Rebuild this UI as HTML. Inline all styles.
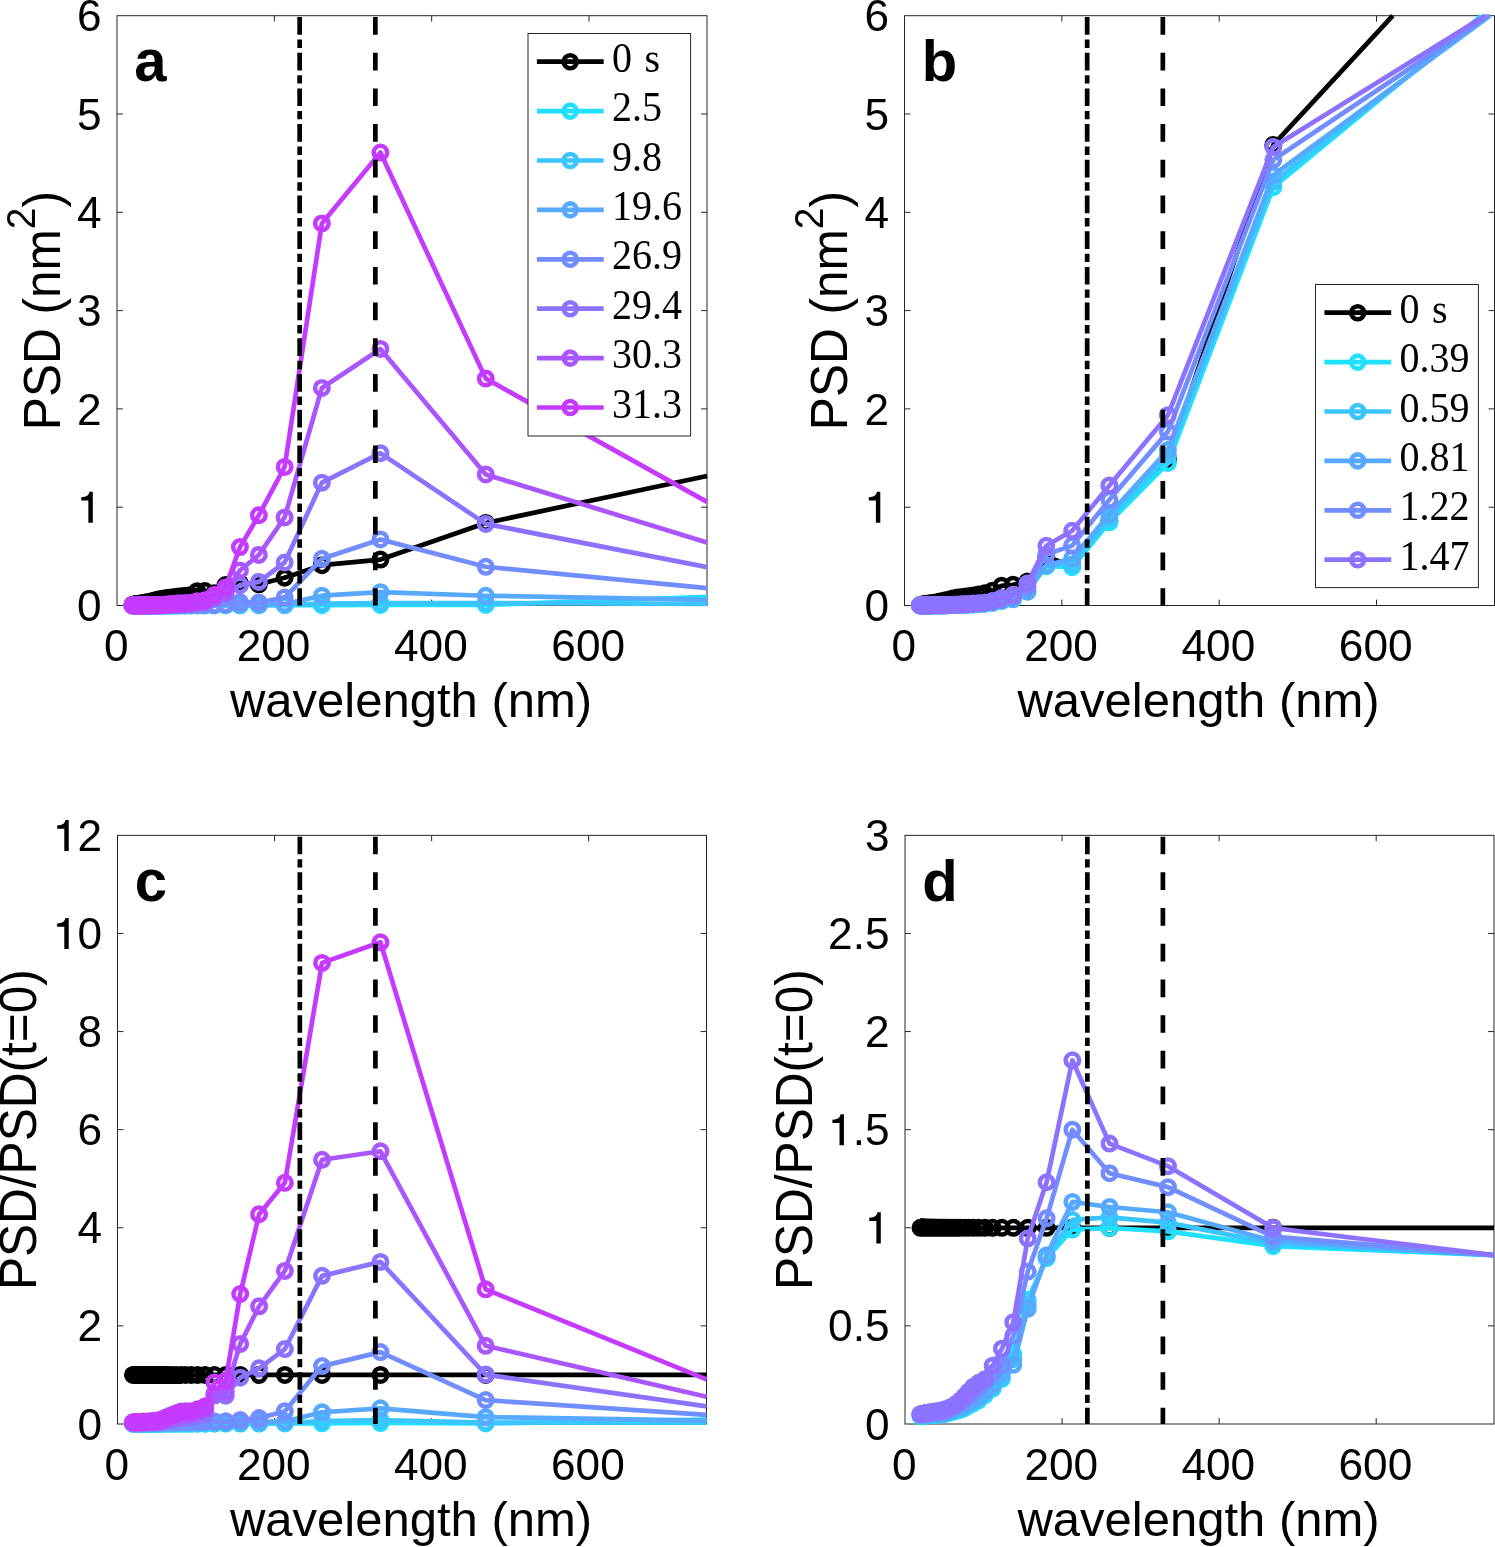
<!DOCTYPE html>
<html><head><meta charset="utf-8"><title>PSD figure</title>
<style>
html,body{margin:0;padding:0;background:#fff;}
svg{display:block;will-change:transform;}
.tk{font-family:"Liberation Sans",sans-serif;font-size:44.2px;fill:#000;}
.lb{font-family:"Liberation Sans",sans-serif;font-size:49px;fill:#000;}
.lt{font-family:"Liberation Sans",sans-serif;font-size:58px;font-weight:bold;fill:#000;}
.lg{font-family:"Liberation Serif",serif;font-size:40px;fill:#000;}
</style></head><body>
<svg width="1495" height="1547" viewBox="0 0 1495 1547">
<rect width="1495" height="1547" fill="#fff"/>
<rect x="117" y="15.7" width="590" height="589.8" fill="none" stroke="#262626" stroke-width="1"/>
<path d="M274.33 605.5v-5.9 M274.33 15.7v5.9 M431.67 605.5v-5.9 M431.67 15.7v5.9 M589 605.5v-5.9 M589 15.7v5.9 M117 507.2h5.9 M707 507.2h-5.9 M117 408.9h5.9 M707 408.9h-5.9 M117 310.6h5.9 M707 310.6h-5.9 M117 212.3h5.9 M707 212.3h-5.9 M117 114h5.9 M707 114h-5.9 " stroke="#262626" stroke-width="1" fill="none"/>
<path d="M132.5 604.71 L132.76 604.68 L133.03 604.64 L133.32 604.6 L133.61 604.56 L133.92 604.51 L134.23 604.47 L134.56 604.42 L134.9 604.37 L135.26 604.32 L135.63 604.26 L136.01 604.21 L136.41 604.15 L136.83 604.09 L137.26 604.02 L137.72 603.96 L138.19 603.89 L138.69 603.82 L139.22 603.74 L139.76 603.66 L140.34 603.58 L140.95 603.47 L141.59 603.34 L142.26 603.2 L142.97 603.05 L143.72 602.89 L144.52 602.73 L145.37 602.55 L146.27 602.36 L147.23 602.16 L148.25 601.95 L149.35 601.72 L150.53 601.46 L151.79 601.15 L153.16 600.8 L154.63 600.44 L156.23 600.04 L157.98 599.6 L159.88 599.13 L161.97 598.79 L164.28 598.47 L166.84 598.12 L169.68 597.73 L172.88 597.29 L176.48 596.8 L180.58 596.28 L185.29 595.68 L190.76 595 L197.17 591.13 L204.81 591.05 L214.05 593.17 L225.47 585.1 L239.93 583.41 L258.84 584.27 L284.63 577.67 L321.88 565.2 L380.42 559.59 L485.79 522.93 L707 476.05" fill="none" stroke="#000000" stroke-width="4.7" stroke-linejoin="round" stroke-linecap="butt"/><path d="M125.75 604.71a6.75 6.75 0 1 0 13.5 0a6.75 6.75 0 1 0 -13.5 0M126.01 604.68a6.75 6.75 0 1 0 13.5 0a6.75 6.75 0 1 0 -13.5 0M126.28 604.64a6.75 6.75 0 1 0 13.5 0a6.75 6.75 0 1 0 -13.5 0M126.57 604.6a6.75 6.75 0 1 0 13.5 0a6.75 6.75 0 1 0 -13.5 0M126.86 604.56a6.75 6.75 0 1 0 13.5 0a6.75 6.75 0 1 0 -13.5 0M127.17 604.51a6.75 6.75 0 1 0 13.5 0a6.75 6.75 0 1 0 -13.5 0M127.48 604.47a6.75 6.75 0 1 0 13.5 0a6.75 6.75 0 1 0 -13.5 0M127.81 604.42a6.75 6.75 0 1 0 13.5 0a6.75 6.75 0 1 0 -13.5 0M128.15 604.37a6.75 6.75 0 1 0 13.5 0a6.75 6.75 0 1 0 -13.5 0M128.51 604.32a6.75 6.75 0 1 0 13.5 0a6.75 6.75 0 1 0 -13.5 0M128.88 604.26a6.75 6.75 0 1 0 13.5 0a6.75 6.75 0 1 0 -13.5 0M129.26 604.21a6.75 6.75 0 1 0 13.5 0a6.75 6.75 0 1 0 -13.5 0M129.66 604.15a6.75 6.75 0 1 0 13.5 0a6.75 6.75 0 1 0 -13.5 0M130.08 604.09a6.75 6.75 0 1 0 13.5 0a6.75 6.75 0 1 0 -13.5 0M130.51 604.02a6.75 6.75 0 1 0 13.5 0a6.75 6.75 0 1 0 -13.5 0M130.97 603.96a6.75 6.75 0 1 0 13.5 0a6.75 6.75 0 1 0 -13.5 0M131.44 603.89a6.75 6.75 0 1 0 13.5 0a6.75 6.75 0 1 0 -13.5 0M131.94 603.82a6.75 6.75 0 1 0 13.5 0a6.75 6.75 0 1 0 -13.5 0M132.47 603.74a6.75 6.75 0 1 0 13.5 0a6.75 6.75 0 1 0 -13.5 0M133.01 603.66a6.75 6.75 0 1 0 13.5 0a6.75 6.75 0 1 0 -13.5 0M133.59 603.58a6.75 6.75 0 1 0 13.5 0a6.75 6.75 0 1 0 -13.5 0M134.2 603.47a6.75 6.75 0 1 0 13.5 0a6.75 6.75 0 1 0 -13.5 0M134.84 603.34a6.75 6.75 0 1 0 13.5 0a6.75 6.75 0 1 0 -13.5 0M135.51 603.2a6.75 6.75 0 1 0 13.5 0a6.75 6.75 0 1 0 -13.5 0M136.22 603.05a6.75 6.75 0 1 0 13.5 0a6.75 6.75 0 1 0 -13.5 0M136.97 602.89a6.75 6.75 0 1 0 13.5 0a6.75 6.75 0 1 0 -13.5 0M137.77 602.73a6.75 6.75 0 1 0 13.5 0a6.75 6.75 0 1 0 -13.5 0M138.62 602.55a6.75 6.75 0 1 0 13.5 0a6.75 6.75 0 1 0 -13.5 0M139.52 602.36a6.75 6.75 0 1 0 13.5 0a6.75 6.75 0 1 0 -13.5 0M140.48 602.16a6.75 6.75 0 1 0 13.5 0a6.75 6.75 0 1 0 -13.5 0M141.5 601.95a6.75 6.75 0 1 0 13.5 0a6.75 6.75 0 1 0 -13.5 0M142.6 601.72a6.75 6.75 0 1 0 13.5 0a6.75 6.75 0 1 0 -13.5 0M143.78 601.46a6.75 6.75 0 1 0 13.5 0a6.75 6.75 0 1 0 -13.5 0M145.04 601.15a6.75 6.75 0 1 0 13.5 0a6.75 6.75 0 1 0 -13.5 0M146.41 600.8a6.75 6.75 0 1 0 13.5 0a6.75 6.75 0 1 0 -13.5 0M147.88 600.44a6.75 6.75 0 1 0 13.5 0a6.75 6.75 0 1 0 -13.5 0M149.48 600.04a6.75 6.75 0 1 0 13.5 0a6.75 6.75 0 1 0 -13.5 0M151.23 599.6a6.75 6.75 0 1 0 13.5 0a6.75 6.75 0 1 0 -13.5 0M153.13 599.13a6.75 6.75 0 1 0 13.5 0a6.75 6.75 0 1 0 -13.5 0M155.22 598.79a6.75 6.75 0 1 0 13.5 0a6.75 6.75 0 1 0 -13.5 0M157.53 598.47a6.75 6.75 0 1 0 13.5 0a6.75 6.75 0 1 0 -13.5 0M160.09 598.12a6.75 6.75 0 1 0 13.5 0a6.75 6.75 0 1 0 -13.5 0M162.93 597.73a6.75 6.75 0 1 0 13.5 0a6.75 6.75 0 1 0 -13.5 0M166.13 597.29a6.75 6.75 0 1 0 13.5 0a6.75 6.75 0 1 0 -13.5 0M169.73 596.8a6.75 6.75 0 1 0 13.5 0a6.75 6.75 0 1 0 -13.5 0M173.83 596.28a6.75 6.75 0 1 0 13.5 0a6.75 6.75 0 1 0 -13.5 0M178.54 595.68a6.75 6.75 0 1 0 13.5 0a6.75 6.75 0 1 0 -13.5 0M184.01 595a6.75 6.75 0 1 0 13.5 0a6.75 6.75 0 1 0 -13.5 0M190.42 591.13a6.75 6.75 0 1 0 13.5 0a6.75 6.75 0 1 0 -13.5 0M198.06 591.05a6.75 6.75 0 1 0 13.5 0a6.75 6.75 0 1 0 -13.5 0M207.3 593.17a6.75 6.75 0 1 0 13.5 0a6.75 6.75 0 1 0 -13.5 0M218.72 585.1a6.75 6.75 0 1 0 13.5 0a6.75 6.75 0 1 0 -13.5 0M233.18 583.41a6.75 6.75 0 1 0 13.5 0a6.75 6.75 0 1 0 -13.5 0M252.09 584.27a6.75 6.75 0 1 0 13.5 0a6.75 6.75 0 1 0 -13.5 0M277.88 577.67a6.75 6.75 0 1 0 13.5 0a6.75 6.75 0 1 0 -13.5 0M315.13 565.2a6.75 6.75 0 1 0 13.5 0a6.75 6.75 0 1 0 -13.5 0M373.67 559.59a6.75 6.75 0 1 0 13.5 0a6.75 6.75 0 1 0 -13.5 0M479.04 522.93a6.75 6.75 0 1 0 13.5 0a6.75 6.75 0 1 0 -13.5 0" fill="none" stroke="#000000" stroke-width="4.5"/>
<path d="M132.5 605.5 L132.76 605.5 L133.03 605.5 L133.32 605.5 L133.61 605.5 L133.92 605.5 L134.23 605.49 L134.56 605.49 L134.9 605.49 L135.26 605.49 L135.63 605.49 L136.01 605.49 L136.41 605.49 L136.83 605.49 L137.26 605.49 L137.72 605.49 L138.19 605.49 L138.69 605.49 L139.22 605.49 L139.76 605.49 L140.34 605.49 L140.95 605.49 L141.59 605.49 L142.26 605.49 L142.97 605.49 L143.72 605.49 L144.52 605.49 L145.37 605.48 L146.27 605.48 L147.23 605.48 L148.25 605.48 L149.35 605.48 L150.53 605.48 L151.79 605.48 L153.16 605.47 L154.63 605.47 L156.23 605.47 L157.98 605.47 L159.88 605.46 L161.97 605.46 L164.28 605.46 L166.84 605.45 L169.68 605.45 L172.88 605.45 L176.48 605.44 L180.58 605.44 L185.29 605.43 L190.76 605.43 L197.17 605.4 L204.81 605.39 L214.05 605.41 L225.47 605.34 L239.93 605.3 L258.84 605.26 L284.63 605.21 L321.88 605.13 L380.42 605.01 L485.79 605.01 L707 596.78" fill="none" stroke="#1FE0FF" stroke-width="4.7" stroke-linejoin="round" stroke-linecap="butt"/><path d="M125.75 605.5a6.75 6.75 0 1 0 13.5 0a6.75 6.75 0 1 0 -13.5 0M126.01 605.5a6.75 6.75 0 1 0 13.5 0a6.75 6.75 0 1 0 -13.5 0M126.28 605.5a6.75 6.75 0 1 0 13.5 0a6.75 6.75 0 1 0 -13.5 0M126.57 605.5a6.75 6.75 0 1 0 13.5 0a6.75 6.75 0 1 0 -13.5 0M126.86 605.5a6.75 6.75 0 1 0 13.5 0a6.75 6.75 0 1 0 -13.5 0M127.17 605.5a6.75 6.75 0 1 0 13.5 0a6.75 6.75 0 1 0 -13.5 0M127.48 605.49a6.75 6.75 0 1 0 13.5 0a6.75 6.75 0 1 0 -13.5 0M127.81 605.49a6.75 6.75 0 1 0 13.5 0a6.75 6.75 0 1 0 -13.5 0M128.15 605.49a6.75 6.75 0 1 0 13.5 0a6.75 6.75 0 1 0 -13.5 0M128.51 605.49a6.75 6.75 0 1 0 13.5 0a6.75 6.75 0 1 0 -13.5 0M128.88 605.49a6.75 6.75 0 1 0 13.5 0a6.75 6.75 0 1 0 -13.5 0M129.26 605.49a6.75 6.75 0 1 0 13.5 0a6.75 6.75 0 1 0 -13.5 0M129.66 605.49a6.75 6.75 0 1 0 13.5 0a6.75 6.75 0 1 0 -13.5 0M130.08 605.49a6.75 6.75 0 1 0 13.5 0a6.75 6.75 0 1 0 -13.5 0M130.51 605.49a6.75 6.75 0 1 0 13.5 0a6.75 6.75 0 1 0 -13.5 0M130.97 605.49a6.75 6.75 0 1 0 13.5 0a6.75 6.75 0 1 0 -13.5 0M131.44 605.49a6.75 6.75 0 1 0 13.5 0a6.75 6.75 0 1 0 -13.5 0M131.94 605.49a6.75 6.75 0 1 0 13.5 0a6.75 6.75 0 1 0 -13.5 0M132.47 605.49a6.75 6.75 0 1 0 13.5 0a6.75 6.75 0 1 0 -13.5 0M133.01 605.49a6.75 6.75 0 1 0 13.5 0a6.75 6.75 0 1 0 -13.5 0M133.59 605.49a6.75 6.75 0 1 0 13.5 0a6.75 6.75 0 1 0 -13.5 0M134.2 605.49a6.75 6.75 0 1 0 13.5 0a6.75 6.75 0 1 0 -13.5 0M134.84 605.49a6.75 6.75 0 1 0 13.5 0a6.75 6.75 0 1 0 -13.5 0M135.51 605.49a6.75 6.75 0 1 0 13.5 0a6.75 6.75 0 1 0 -13.5 0M136.22 605.49a6.75 6.75 0 1 0 13.5 0a6.75 6.75 0 1 0 -13.5 0M136.97 605.49a6.75 6.75 0 1 0 13.5 0a6.75 6.75 0 1 0 -13.5 0M137.77 605.49a6.75 6.75 0 1 0 13.5 0a6.75 6.75 0 1 0 -13.5 0M138.62 605.48a6.75 6.75 0 1 0 13.5 0a6.75 6.75 0 1 0 -13.5 0M139.52 605.48a6.75 6.75 0 1 0 13.5 0a6.75 6.75 0 1 0 -13.5 0M140.48 605.48a6.75 6.75 0 1 0 13.5 0a6.75 6.75 0 1 0 -13.5 0M141.5 605.48a6.75 6.75 0 1 0 13.5 0a6.75 6.75 0 1 0 -13.5 0M142.6 605.48a6.75 6.75 0 1 0 13.5 0a6.75 6.75 0 1 0 -13.5 0M143.78 605.48a6.75 6.75 0 1 0 13.5 0a6.75 6.75 0 1 0 -13.5 0M145.04 605.48a6.75 6.75 0 1 0 13.5 0a6.75 6.75 0 1 0 -13.5 0M146.41 605.47a6.75 6.75 0 1 0 13.5 0a6.75 6.75 0 1 0 -13.5 0M147.88 605.47a6.75 6.75 0 1 0 13.5 0a6.75 6.75 0 1 0 -13.5 0M149.48 605.47a6.75 6.75 0 1 0 13.5 0a6.75 6.75 0 1 0 -13.5 0M151.23 605.47a6.75 6.75 0 1 0 13.5 0a6.75 6.75 0 1 0 -13.5 0M153.13 605.46a6.75 6.75 0 1 0 13.5 0a6.75 6.75 0 1 0 -13.5 0M155.22 605.46a6.75 6.75 0 1 0 13.5 0a6.75 6.75 0 1 0 -13.5 0M157.53 605.46a6.75 6.75 0 1 0 13.5 0a6.75 6.75 0 1 0 -13.5 0M160.09 605.45a6.75 6.75 0 1 0 13.5 0a6.75 6.75 0 1 0 -13.5 0M162.93 605.45a6.75 6.75 0 1 0 13.5 0a6.75 6.75 0 1 0 -13.5 0M166.13 605.45a6.75 6.75 0 1 0 13.5 0a6.75 6.75 0 1 0 -13.5 0M169.73 605.44a6.75 6.75 0 1 0 13.5 0a6.75 6.75 0 1 0 -13.5 0M173.83 605.44a6.75 6.75 0 1 0 13.5 0a6.75 6.75 0 1 0 -13.5 0M178.54 605.43a6.75 6.75 0 1 0 13.5 0a6.75 6.75 0 1 0 -13.5 0M184.01 605.43a6.75 6.75 0 1 0 13.5 0a6.75 6.75 0 1 0 -13.5 0M190.42 605.4a6.75 6.75 0 1 0 13.5 0a6.75 6.75 0 1 0 -13.5 0M198.06 605.39a6.75 6.75 0 1 0 13.5 0a6.75 6.75 0 1 0 -13.5 0M207.3 605.41a6.75 6.75 0 1 0 13.5 0a6.75 6.75 0 1 0 -13.5 0M218.72 605.34a6.75 6.75 0 1 0 13.5 0a6.75 6.75 0 1 0 -13.5 0M233.18 605.3a6.75 6.75 0 1 0 13.5 0a6.75 6.75 0 1 0 -13.5 0M252.09 605.26a6.75 6.75 0 1 0 13.5 0a6.75 6.75 0 1 0 -13.5 0M277.88 605.21a6.75 6.75 0 1 0 13.5 0a6.75 6.75 0 1 0 -13.5 0M315.13 605.13a6.75 6.75 0 1 0 13.5 0a6.75 6.75 0 1 0 -13.5 0M373.67 605.01a6.75 6.75 0 1 0 13.5 0a6.75 6.75 0 1 0 -13.5 0M479.04 605.01a6.75 6.75 0 1 0 13.5 0a6.75 6.75 0 1 0 -13.5 0" fill="none" stroke="#1FE0FF" stroke-width="4.5"/>
<path d="M132.5 605.5 L132.76 605.5 L133.03 605.5 L133.32 605.5 L133.61 605.5 L133.92 605.49 L134.23 605.49 L134.56 605.49 L134.9 605.49 L135.26 605.49 L135.63 605.49 L136.01 605.49 L136.41 605.49 L136.83 605.49 L137.26 605.49 L137.72 605.49 L138.19 605.49 L138.69 605.49 L139.22 605.49 L139.76 605.49 L140.34 605.49 L140.95 605.49 L141.59 605.49 L142.26 605.49 L142.97 605.49 L143.72 605.48 L144.52 605.48 L145.37 605.48 L146.27 605.48 L147.23 605.48 L148.25 605.48 L149.35 605.48 L150.53 605.47 L151.79 605.47 L153.16 605.47 L154.63 605.47 L156.23 605.46 L157.98 605.46 L159.88 605.45 L161.97 605.45 L164.28 605.45 L166.84 605.44 L169.68 605.44 L172.88 605.43 L176.48 605.43 L180.58 605.42 L185.29 605.41 L190.76 605.4 L197.17 605.35 L204.81 605.34 L214.05 605.35 L225.47 605.23 L239.93 605.3 L258.84 605.14 L284.63 604.91 L321.88 603.53 L380.42 603.04 L485.79 603.04 L707 604.02" fill="none" stroke="#3AC5FF" stroke-width="4.7" stroke-linejoin="round" stroke-linecap="butt"/><path d="M125.75 605.5a6.75 6.75 0 1 0 13.5 0a6.75 6.75 0 1 0 -13.5 0M126.01 605.5a6.75 6.75 0 1 0 13.5 0a6.75 6.75 0 1 0 -13.5 0M126.28 605.5a6.75 6.75 0 1 0 13.5 0a6.75 6.75 0 1 0 -13.5 0M126.57 605.5a6.75 6.75 0 1 0 13.5 0a6.75 6.75 0 1 0 -13.5 0M126.86 605.5a6.75 6.75 0 1 0 13.5 0a6.75 6.75 0 1 0 -13.5 0M127.17 605.49a6.75 6.75 0 1 0 13.5 0a6.75 6.75 0 1 0 -13.5 0M127.48 605.49a6.75 6.75 0 1 0 13.5 0a6.75 6.75 0 1 0 -13.5 0M127.81 605.49a6.75 6.75 0 1 0 13.5 0a6.75 6.75 0 1 0 -13.5 0M128.15 605.49a6.75 6.75 0 1 0 13.5 0a6.75 6.75 0 1 0 -13.5 0M128.51 605.49a6.75 6.75 0 1 0 13.5 0a6.75 6.75 0 1 0 -13.5 0M128.88 605.49a6.75 6.75 0 1 0 13.5 0a6.75 6.75 0 1 0 -13.5 0M129.26 605.49a6.75 6.75 0 1 0 13.5 0a6.75 6.75 0 1 0 -13.5 0M129.66 605.49a6.75 6.75 0 1 0 13.5 0a6.75 6.75 0 1 0 -13.5 0M130.08 605.49a6.75 6.75 0 1 0 13.5 0a6.75 6.75 0 1 0 -13.5 0M130.51 605.49a6.75 6.75 0 1 0 13.5 0a6.75 6.75 0 1 0 -13.5 0M130.97 605.49a6.75 6.75 0 1 0 13.5 0a6.75 6.75 0 1 0 -13.5 0M131.44 605.49a6.75 6.75 0 1 0 13.5 0a6.75 6.75 0 1 0 -13.5 0M131.94 605.49a6.75 6.75 0 1 0 13.5 0a6.75 6.75 0 1 0 -13.5 0M132.47 605.49a6.75 6.75 0 1 0 13.5 0a6.75 6.75 0 1 0 -13.5 0M133.01 605.49a6.75 6.75 0 1 0 13.5 0a6.75 6.75 0 1 0 -13.5 0M133.59 605.49a6.75 6.75 0 1 0 13.5 0a6.75 6.75 0 1 0 -13.5 0M134.2 605.49a6.75 6.75 0 1 0 13.5 0a6.75 6.75 0 1 0 -13.5 0M134.84 605.49a6.75 6.75 0 1 0 13.5 0a6.75 6.75 0 1 0 -13.5 0M135.51 605.49a6.75 6.75 0 1 0 13.5 0a6.75 6.75 0 1 0 -13.5 0M136.22 605.49a6.75 6.75 0 1 0 13.5 0a6.75 6.75 0 1 0 -13.5 0M136.97 605.48a6.75 6.75 0 1 0 13.5 0a6.75 6.75 0 1 0 -13.5 0M137.77 605.48a6.75 6.75 0 1 0 13.5 0a6.75 6.75 0 1 0 -13.5 0M138.62 605.48a6.75 6.75 0 1 0 13.5 0a6.75 6.75 0 1 0 -13.5 0M139.52 605.48a6.75 6.75 0 1 0 13.5 0a6.75 6.75 0 1 0 -13.5 0M140.48 605.48a6.75 6.75 0 1 0 13.5 0a6.75 6.75 0 1 0 -13.5 0M141.5 605.48a6.75 6.75 0 1 0 13.5 0a6.75 6.75 0 1 0 -13.5 0M142.6 605.48a6.75 6.75 0 1 0 13.5 0a6.75 6.75 0 1 0 -13.5 0M143.78 605.47a6.75 6.75 0 1 0 13.5 0a6.75 6.75 0 1 0 -13.5 0M145.04 605.47a6.75 6.75 0 1 0 13.5 0a6.75 6.75 0 1 0 -13.5 0M146.41 605.47a6.75 6.75 0 1 0 13.5 0a6.75 6.75 0 1 0 -13.5 0M147.88 605.47a6.75 6.75 0 1 0 13.5 0a6.75 6.75 0 1 0 -13.5 0M149.48 605.46a6.75 6.75 0 1 0 13.5 0a6.75 6.75 0 1 0 -13.5 0M151.23 605.46a6.75 6.75 0 1 0 13.5 0a6.75 6.75 0 1 0 -13.5 0M153.13 605.45a6.75 6.75 0 1 0 13.5 0a6.75 6.75 0 1 0 -13.5 0M155.22 605.45a6.75 6.75 0 1 0 13.5 0a6.75 6.75 0 1 0 -13.5 0M157.53 605.45a6.75 6.75 0 1 0 13.5 0a6.75 6.75 0 1 0 -13.5 0M160.09 605.44a6.75 6.75 0 1 0 13.5 0a6.75 6.75 0 1 0 -13.5 0M162.93 605.44a6.75 6.75 0 1 0 13.5 0a6.75 6.75 0 1 0 -13.5 0M166.13 605.43a6.75 6.75 0 1 0 13.5 0a6.75 6.75 0 1 0 -13.5 0M169.73 605.43a6.75 6.75 0 1 0 13.5 0a6.75 6.75 0 1 0 -13.5 0M173.83 605.42a6.75 6.75 0 1 0 13.5 0a6.75 6.75 0 1 0 -13.5 0M178.54 605.41a6.75 6.75 0 1 0 13.5 0a6.75 6.75 0 1 0 -13.5 0M184.01 605.4a6.75 6.75 0 1 0 13.5 0a6.75 6.75 0 1 0 -13.5 0M190.42 605.35a6.75 6.75 0 1 0 13.5 0a6.75 6.75 0 1 0 -13.5 0M198.06 605.34a6.75 6.75 0 1 0 13.5 0a6.75 6.75 0 1 0 -13.5 0M207.3 605.35a6.75 6.75 0 1 0 13.5 0a6.75 6.75 0 1 0 -13.5 0M218.72 605.23a6.75 6.75 0 1 0 13.5 0a6.75 6.75 0 1 0 -13.5 0M233.18 605.3a6.75 6.75 0 1 0 13.5 0a6.75 6.75 0 1 0 -13.5 0M252.09 605.14a6.75 6.75 0 1 0 13.5 0a6.75 6.75 0 1 0 -13.5 0M277.88 604.91a6.75 6.75 0 1 0 13.5 0a6.75 6.75 0 1 0 -13.5 0M315.13 603.53a6.75 6.75 0 1 0 13.5 0a6.75 6.75 0 1 0 -13.5 0M373.67 603.04a6.75 6.75 0 1 0 13.5 0a6.75 6.75 0 1 0 -13.5 0M479.04 603.04a6.75 6.75 0 1 0 13.5 0a6.75 6.75 0 1 0 -13.5 0" fill="none" stroke="#3AC5FF" stroke-width="4.5"/>
<path d="M132.5 605.49 L132.76 605.49 L133.03 605.49 L133.32 605.49 L133.61 605.49 L133.92 605.49 L134.23 605.49 L134.56 605.49 L134.9 605.49 L135.26 605.49 L135.63 605.49 L136.01 605.49 L136.41 605.48 L136.83 605.48 L137.26 605.48 L137.72 605.48 L138.19 605.48 L138.69 605.48 L139.22 605.48 L139.76 605.48 L140.34 605.47 L140.95 605.47 L141.59 605.47 L142.26 605.47 L142.97 605.46 L143.72 605.46 L144.52 605.46 L145.37 605.45 L146.27 605.45 L147.23 605.45 L148.25 605.44 L149.35 605.44 L150.53 605.43 L151.79 605.42 L153.16 605.41 L154.63 605.4 L156.23 605.39 L157.98 605.38 L159.88 605.36 L161.97 605.35 L164.28 605.34 L166.84 605.32 L169.68 605.3 L172.88 605.28 L176.48 605.25 L180.58 605.22 L185.29 605.18 L190.76 605.12 L197.17 604.92 L204.81 604.86 L214.05 604.88 L225.47 604.48 L239.93 604.42 L258.84 604.42 L284.63 604.02 L321.88 595.67 L380.42 592.13 L485.79 595.77 L707 599.84" fill="none" stroke="#56A9FF" stroke-width="4.7" stroke-linejoin="round" stroke-linecap="butt"/><path d="M125.75 605.49a6.75 6.75 0 1 0 13.5 0a6.75 6.75 0 1 0 -13.5 0M126.01 605.49a6.75 6.75 0 1 0 13.5 0a6.75 6.75 0 1 0 -13.5 0M126.28 605.49a6.75 6.75 0 1 0 13.5 0a6.75 6.75 0 1 0 -13.5 0M126.57 605.49a6.75 6.75 0 1 0 13.5 0a6.75 6.75 0 1 0 -13.5 0M126.86 605.49a6.75 6.75 0 1 0 13.5 0a6.75 6.75 0 1 0 -13.5 0M127.17 605.49a6.75 6.75 0 1 0 13.5 0a6.75 6.75 0 1 0 -13.5 0M127.48 605.49a6.75 6.75 0 1 0 13.5 0a6.75 6.75 0 1 0 -13.5 0M127.81 605.49a6.75 6.75 0 1 0 13.5 0a6.75 6.75 0 1 0 -13.5 0M128.15 605.49a6.75 6.75 0 1 0 13.5 0a6.75 6.75 0 1 0 -13.5 0M128.51 605.49a6.75 6.75 0 1 0 13.5 0a6.75 6.75 0 1 0 -13.5 0M128.88 605.49a6.75 6.75 0 1 0 13.5 0a6.75 6.75 0 1 0 -13.5 0M129.26 605.49a6.75 6.75 0 1 0 13.5 0a6.75 6.75 0 1 0 -13.5 0M129.66 605.48a6.75 6.75 0 1 0 13.5 0a6.75 6.75 0 1 0 -13.5 0M130.08 605.48a6.75 6.75 0 1 0 13.5 0a6.75 6.75 0 1 0 -13.5 0M130.51 605.48a6.75 6.75 0 1 0 13.5 0a6.75 6.75 0 1 0 -13.5 0M130.97 605.48a6.75 6.75 0 1 0 13.5 0a6.75 6.75 0 1 0 -13.5 0M131.44 605.48a6.75 6.75 0 1 0 13.5 0a6.75 6.75 0 1 0 -13.5 0M131.94 605.48a6.75 6.75 0 1 0 13.5 0a6.75 6.75 0 1 0 -13.5 0M132.47 605.48a6.75 6.75 0 1 0 13.5 0a6.75 6.75 0 1 0 -13.5 0M133.01 605.48a6.75 6.75 0 1 0 13.5 0a6.75 6.75 0 1 0 -13.5 0M133.59 605.47a6.75 6.75 0 1 0 13.5 0a6.75 6.75 0 1 0 -13.5 0M134.2 605.47a6.75 6.75 0 1 0 13.5 0a6.75 6.75 0 1 0 -13.5 0M134.84 605.47a6.75 6.75 0 1 0 13.5 0a6.75 6.75 0 1 0 -13.5 0M135.51 605.47a6.75 6.75 0 1 0 13.5 0a6.75 6.75 0 1 0 -13.5 0M136.22 605.46a6.75 6.75 0 1 0 13.5 0a6.75 6.75 0 1 0 -13.5 0M136.97 605.46a6.75 6.75 0 1 0 13.5 0a6.75 6.75 0 1 0 -13.5 0M137.77 605.46a6.75 6.75 0 1 0 13.5 0a6.75 6.75 0 1 0 -13.5 0M138.62 605.45a6.75 6.75 0 1 0 13.5 0a6.75 6.75 0 1 0 -13.5 0M139.52 605.45a6.75 6.75 0 1 0 13.5 0a6.75 6.75 0 1 0 -13.5 0M140.48 605.45a6.75 6.75 0 1 0 13.5 0a6.75 6.75 0 1 0 -13.5 0M141.5 605.44a6.75 6.75 0 1 0 13.5 0a6.75 6.75 0 1 0 -13.5 0M142.6 605.44a6.75 6.75 0 1 0 13.5 0a6.75 6.75 0 1 0 -13.5 0M143.78 605.43a6.75 6.75 0 1 0 13.5 0a6.75 6.75 0 1 0 -13.5 0M145.04 605.42a6.75 6.75 0 1 0 13.5 0a6.75 6.75 0 1 0 -13.5 0M146.41 605.41a6.75 6.75 0 1 0 13.5 0a6.75 6.75 0 1 0 -13.5 0M147.88 605.4a6.75 6.75 0 1 0 13.5 0a6.75 6.75 0 1 0 -13.5 0M149.48 605.39a6.75 6.75 0 1 0 13.5 0a6.75 6.75 0 1 0 -13.5 0M151.23 605.38a6.75 6.75 0 1 0 13.5 0a6.75 6.75 0 1 0 -13.5 0M153.13 605.36a6.75 6.75 0 1 0 13.5 0a6.75 6.75 0 1 0 -13.5 0M155.22 605.35a6.75 6.75 0 1 0 13.5 0a6.75 6.75 0 1 0 -13.5 0M157.53 605.34a6.75 6.75 0 1 0 13.5 0a6.75 6.75 0 1 0 -13.5 0M160.09 605.32a6.75 6.75 0 1 0 13.5 0a6.75 6.75 0 1 0 -13.5 0M162.93 605.3a6.75 6.75 0 1 0 13.5 0a6.75 6.75 0 1 0 -13.5 0M166.13 605.28a6.75 6.75 0 1 0 13.5 0a6.75 6.75 0 1 0 -13.5 0M169.73 605.25a6.75 6.75 0 1 0 13.5 0a6.75 6.75 0 1 0 -13.5 0M173.83 605.22a6.75 6.75 0 1 0 13.5 0a6.75 6.75 0 1 0 -13.5 0M178.54 605.18a6.75 6.75 0 1 0 13.5 0a6.75 6.75 0 1 0 -13.5 0M184.01 605.12a6.75 6.75 0 1 0 13.5 0a6.75 6.75 0 1 0 -13.5 0M190.42 604.92a6.75 6.75 0 1 0 13.5 0a6.75 6.75 0 1 0 -13.5 0M198.06 604.86a6.75 6.75 0 1 0 13.5 0a6.75 6.75 0 1 0 -13.5 0M207.3 604.88a6.75 6.75 0 1 0 13.5 0a6.75 6.75 0 1 0 -13.5 0M218.72 604.48a6.75 6.75 0 1 0 13.5 0a6.75 6.75 0 1 0 -13.5 0M233.18 604.42a6.75 6.75 0 1 0 13.5 0a6.75 6.75 0 1 0 -13.5 0M252.09 604.42a6.75 6.75 0 1 0 13.5 0a6.75 6.75 0 1 0 -13.5 0M277.88 604.02a6.75 6.75 0 1 0 13.5 0a6.75 6.75 0 1 0 -13.5 0M315.13 595.67a6.75 6.75 0 1 0 13.5 0a6.75 6.75 0 1 0 -13.5 0M373.67 592.13a6.75 6.75 0 1 0 13.5 0a6.75 6.75 0 1 0 -13.5 0M479.04 595.77a6.75 6.75 0 1 0 13.5 0a6.75 6.75 0 1 0 -13.5 0" fill="none" stroke="#56A9FF" stroke-width="4.5"/>
<path d="M132.5 605.48 L132.76 605.48 L133.03 605.48 L133.32 605.48 L133.61 605.48 L133.92 605.48 L134.23 605.48 L134.56 605.48 L134.9 605.48 L135.26 605.48 L135.63 605.47 L136.01 605.47 L136.41 605.47 L136.83 605.47 L137.26 605.47 L137.72 605.47 L138.19 605.46 L138.69 605.46 L139.22 605.46 L139.76 605.46 L140.34 605.46 L140.95 605.45 L141.59 605.45 L142.26 605.45 L142.97 605.44 L143.72 605.44 L144.52 605.43 L145.37 605.43 L146.27 605.42 L147.23 605.41 L148.25 605.41 L149.35 605.4 L150.53 605.39 L151.79 605.38 L153.16 605.37 L154.63 605.35 L156.23 605.34 L157.98 605.32 L159.88 605.3 L161.97 605.27 L164.28 605.25 L166.84 605.22 L169.68 605.18 L172.88 605.14 L176.48 605.09 L180.58 605.04 L185.29 605.02 L190.76 605.01 L197.17 604.85 L204.81 604.82 L214.05 604.88 L225.47 604.38 L239.93 602.16 L258.84 602.55 L284.63 597.61 L321.88 558.81 L380.42 539.45 L485.79 566.77 L707 588.17" fill="none" stroke="#718DFF" stroke-width="4.7" stroke-linejoin="round" stroke-linecap="butt"/><path d="M125.75 605.48a6.75 6.75 0 1 0 13.5 0a6.75 6.75 0 1 0 -13.5 0M126.01 605.48a6.75 6.75 0 1 0 13.5 0a6.75 6.75 0 1 0 -13.5 0M126.28 605.48a6.75 6.75 0 1 0 13.5 0a6.75 6.75 0 1 0 -13.5 0M126.57 605.48a6.75 6.75 0 1 0 13.5 0a6.75 6.75 0 1 0 -13.5 0M126.86 605.48a6.75 6.75 0 1 0 13.5 0a6.75 6.75 0 1 0 -13.5 0M127.17 605.48a6.75 6.75 0 1 0 13.5 0a6.75 6.75 0 1 0 -13.5 0M127.48 605.48a6.75 6.75 0 1 0 13.5 0a6.75 6.75 0 1 0 -13.5 0M127.81 605.48a6.75 6.75 0 1 0 13.5 0a6.75 6.75 0 1 0 -13.5 0M128.15 605.48a6.75 6.75 0 1 0 13.5 0a6.75 6.75 0 1 0 -13.5 0M128.51 605.48a6.75 6.75 0 1 0 13.5 0a6.75 6.75 0 1 0 -13.5 0M128.88 605.47a6.75 6.75 0 1 0 13.5 0a6.75 6.75 0 1 0 -13.5 0M129.26 605.47a6.75 6.75 0 1 0 13.5 0a6.75 6.75 0 1 0 -13.5 0M129.66 605.47a6.75 6.75 0 1 0 13.5 0a6.75 6.75 0 1 0 -13.5 0M130.08 605.47a6.75 6.75 0 1 0 13.5 0a6.75 6.75 0 1 0 -13.5 0M130.51 605.47a6.75 6.75 0 1 0 13.5 0a6.75 6.75 0 1 0 -13.5 0M130.97 605.47a6.75 6.75 0 1 0 13.5 0a6.75 6.75 0 1 0 -13.5 0M131.44 605.46a6.75 6.75 0 1 0 13.5 0a6.75 6.75 0 1 0 -13.5 0M131.94 605.46a6.75 6.75 0 1 0 13.5 0a6.75 6.75 0 1 0 -13.5 0M132.47 605.46a6.75 6.75 0 1 0 13.5 0a6.75 6.75 0 1 0 -13.5 0M133.01 605.46a6.75 6.75 0 1 0 13.5 0a6.75 6.75 0 1 0 -13.5 0M133.59 605.46a6.75 6.75 0 1 0 13.5 0a6.75 6.75 0 1 0 -13.5 0M134.2 605.45a6.75 6.75 0 1 0 13.5 0a6.75 6.75 0 1 0 -13.5 0M134.84 605.45a6.75 6.75 0 1 0 13.5 0a6.75 6.75 0 1 0 -13.5 0M135.51 605.45a6.75 6.75 0 1 0 13.5 0a6.75 6.75 0 1 0 -13.5 0M136.22 605.44a6.75 6.75 0 1 0 13.5 0a6.75 6.75 0 1 0 -13.5 0M136.97 605.44a6.75 6.75 0 1 0 13.5 0a6.75 6.75 0 1 0 -13.5 0M137.77 605.43a6.75 6.75 0 1 0 13.5 0a6.75 6.75 0 1 0 -13.5 0M138.62 605.43a6.75 6.75 0 1 0 13.5 0a6.75 6.75 0 1 0 -13.5 0M139.52 605.42a6.75 6.75 0 1 0 13.5 0a6.75 6.75 0 1 0 -13.5 0M140.48 605.41a6.75 6.75 0 1 0 13.5 0a6.75 6.75 0 1 0 -13.5 0M141.5 605.41a6.75 6.75 0 1 0 13.5 0a6.75 6.75 0 1 0 -13.5 0M142.6 605.4a6.75 6.75 0 1 0 13.5 0a6.75 6.75 0 1 0 -13.5 0M143.78 605.39a6.75 6.75 0 1 0 13.5 0a6.75 6.75 0 1 0 -13.5 0M145.04 605.38a6.75 6.75 0 1 0 13.5 0a6.75 6.75 0 1 0 -13.5 0M146.41 605.37a6.75 6.75 0 1 0 13.5 0a6.75 6.75 0 1 0 -13.5 0M147.88 605.35a6.75 6.75 0 1 0 13.5 0a6.75 6.75 0 1 0 -13.5 0M149.48 605.34a6.75 6.75 0 1 0 13.5 0a6.75 6.75 0 1 0 -13.5 0M151.23 605.32a6.75 6.75 0 1 0 13.5 0a6.75 6.75 0 1 0 -13.5 0M153.13 605.3a6.75 6.75 0 1 0 13.5 0a6.75 6.75 0 1 0 -13.5 0M155.22 605.27a6.75 6.75 0 1 0 13.5 0a6.75 6.75 0 1 0 -13.5 0M157.53 605.25a6.75 6.75 0 1 0 13.5 0a6.75 6.75 0 1 0 -13.5 0M160.09 605.22a6.75 6.75 0 1 0 13.5 0a6.75 6.75 0 1 0 -13.5 0M162.93 605.18a6.75 6.75 0 1 0 13.5 0a6.75 6.75 0 1 0 -13.5 0M166.13 605.14a6.75 6.75 0 1 0 13.5 0a6.75 6.75 0 1 0 -13.5 0M169.73 605.09a6.75 6.75 0 1 0 13.5 0a6.75 6.75 0 1 0 -13.5 0M173.83 605.04a6.75 6.75 0 1 0 13.5 0a6.75 6.75 0 1 0 -13.5 0M178.54 605.02a6.75 6.75 0 1 0 13.5 0a6.75 6.75 0 1 0 -13.5 0M184.01 605.01a6.75 6.75 0 1 0 13.5 0a6.75 6.75 0 1 0 -13.5 0M190.42 604.85a6.75 6.75 0 1 0 13.5 0a6.75 6.75 0 1 0 -13.5 0M198.06 604.82a6.75 6.75 0 1 0 13.5 0a6.75 6.75 0 1 0 -13.5 0M207.3 604.88a6.75 6.75 0 1 0 13.5 0a6.75 6.75 0 1 0 -13.5 0M218.72 604.38a6.75 6.75 0 1 0 13.5 0a6.75 6.75 0 1 0 -13.5 0M233.18 602.16a6.75 6.75 0 1 0 13.5 0a6.75 6.75 0 1 0 -13.5 0M252.09 602.55a6.75 6.75 0 1 0 13.5 0a6.75 6.75 0 1 0 -13.5 0M277.88 597.61a6.75 6.75 0 1 0 13.5 0a6.75 6.75 0 1 0 -13.5 0M315.13 558.81a6.75 6.75 0 1 0 13.5 0a6.75 6.75 0 1 0 -13.5 0M373.67 539.45a6.75 6.75 0 1 0 13.5 0a6.75 6.75 0 1 0 -13.5 0M479.04 566.77a6.75 6.75 0 1 0 13.5 0a6.75 6.75 0 1 0 -13.5 0" fill="none" stroke="#718DFF" stroke-width="4.5"/>
<path d="M132.5 605.48 L132.76 605.48 L133.03 605.48 L133.32 605.48 L133.61 605.48 L133.92 605.47 L134.23 605.47 L134.56 605.47 L134.9 605.47 L135.26 605.47 L135.63 605.47 L136.01 605.47 L136.41 605.46 L136.83 605.46 L137.26 605.46 L137.72 605.46 L138.19 605.45 L138.69 605.45 L139.22 605.45 L139.76 605.45 L140.34 605.44 L140.95 605.44 L141.59 605.43 L142.26 605.43 L142.97 605.42 L143.72 605.42 L144.52 605.41 L145.37 605.4 L146.27 605.4 L147.23 605.39 L148.25 605.38 L149.35 605.37 L150.53 605.36 L151.79 605.34 L153.16 605.33 L154.63 605.31 L156.23 605.29 L157.98 605.26 L159.88 605.2 L161.97 605.13 L164.28 605.06 L166.84 604.97 L169.68 604.86 L172.88 604.73 L176.48 604.57 L180.58 604.38 L185.29 604.17 L190.76 603.91 L197.17 603.06 L204.81 602.6 L214.05 598.36 L225.47 593.75 L239.93 585.15 L258.84 581.91 L284.63 562.5 L321.88 482.63 L380.42 453.14 L485.79 523.91 L707 567.16" fill="none" stroke="#8D72FF" stroke-width="4.7" stroke-linejoin="round" stroke-linecap="butt"/><path d="M125.75 605.48a6.75 6.75 0 1 0 13.5 0a6.75 6.75 0 1 0 -13.5 0M126.01 605.48a6.75 6.75 0 1 0 13.5 0a6.75 6.75 0 1 0 -13.5 0M126.28 605.48a6.75 6.75 0 1 0 13.5 0a6.75 6.75 0 1 0 -13.5 0M126.57 605.48a6.75 6.75 0 1 0 13.5 0a6.75 6.75 0 1 0 -13.5 0M126.86 605.48a6.75 6.75 0 1 0 13.5 0a6.75 6.75 0 1 0 -13.5 0M127.17 605.47a6.75 6.75 0 1 0 13.5 0a6.75 6.75 0 1 0 -13.5 0M127.48 605.47a6.75 6.75 0 1 0 13.5 0a6.75 6.75 0 1 0 -13.5 0M127.81 605.47a6.75 6.75 0 1 0 13.5 0a6.75 6.75 0 1 0 -13.5 0M128.15 605.47a6.75 6.75 0 1 0 13.5 0a6.75 6.75 0 1 0 -13.5 0M128.51 605.47a6.75 6.75 0 1 0 13.5 0a6.75 6.75 0 1 0 -13.5 0M128.88 605.47a6.75 6.75 0 1 0 13.5 0a6.75 6.75 0 1 0 -13.5 0M129.26 605.47a6.75 6.75 0 1 0 13.5 0a6.75 6.75 0 1 0 -13.5 0M129.66 605.46a6.75 6.75 0 1 0 13.5 0a6.75 6.75 0 1 0 -13.5 0M130.08 605.46a6.75 6.75 0 1 0 13.5 0a6.75 6.75 0 1 0 -13.5 0M130.51 605.46a6.75 6.75 0 1 0 13.5 0a6.75 6.75 0 1 0 -13.5 0M130.97 605.46a6.75 6.75 0 1 0 13.5 0a6.75 6.75 0 1 0 -13.5 0M131.44 605.45a6.75 6.75 0 1 0 13.5 0a6.75 6.75 0 1 0 -13.5 0M131.94 605.45a6.75 6.75 0 1 0 13.5 0a6.75 6.75 0 1 0 -13.5 0M132.47 605.45a6.75 6.75 0 1 0 13.5 0a6.75 6.75 0 1 0 -13.5 0M133.01 605.45a6.75 6.75 0 1 0 13.5 0a6.75 6.75 0 1 0 -13.5 0M133.59 605.44a6.75 6.75 0 1 0 13.5 0a6.75 6.75 0 1 0 -13.5 0M134.2 605.44a6.75 6.75 0 1 0 13.5 0a6.75 6.75 0 1 0 -13.5 0M134.84 605.43a6.75 6.75 0 1 0 13.5 0a6.75 6.75 0 1 0 -13.5 0M135.51 605.43a6.75 6.75 0 1 0 13.5 0a6.75 6.75 0 1 0 -13.5 0M136.22 605.42a6.75 6.75 0 1 0 13.5 0a6.75 6.75 0 1 0 -13.5 0M136.97 605.42a6.75 6.75 0 1 0 13.5 0a6.75 6.75 0 1 0 -13.5 0M137.77 605.41a6.75 6.75 0 1 0 13.5 0a6.75 6.75 0 1 0 -13.5 0M138.62 605.4a6.75 6.75 0 1 0 13.5 0a6.75 6.75 0 1 0 -13.5 0M139.52 605.4a6.75 6.75 0 1 0 13.5 0a6.75 6.75 0 1 0 -13.5 0M140.48 605.39a6.75 6.75 0 1 0 13.5 0a6.75 6.75 0 1 0 -13.5 0M141.5 605.38a6.75 6.75 0 1 0 13.5 0a6.75 6.75 0 1 0 -13.5 0M142.6 605.37a6.75 6.75 0 1 0 13.5 0a6.75 6.75 0 1 0 -13.5 0M143.78 605.36a6.75 6.75 0 1 0 13.5 0a6.75 6.75 0 1 0 -13.5 0M145.04 605.34a6.75 6.75 0 1 0 13.5 0a6.75 6.75 0 1 0 -13.5 0M146.41 605.33a6.75 6.75 0 1 0 13.5 0a6.75 6.75 0 1 0 -13.5 0M147.88 605.31a6.75 6.75 0 1 0 13.5 0a6.75 6.75 0 1 0 -13.5 0M149.48 605.29a6.75 6.75 0 1 0 13.5 0a6.75 6.75 0 1 0 -13.5 0M151.23 605.26a6.75 6.75 0 1 0 13.5 0a6.75 6.75 0 1 0 -13.5 0M153.13 605.2a6.75 6.75 0 1 0 13.5 0a6.75 6.75 0 1 0 -13.5 0M155.22 605.13a6.75 6.75 0 1 0 13.5 0a6.75 6.75 0 1 0 -13.5 0M157.53 605.06a6.75 6.75 0 1 0 13.5 0a6.75 6.75 0 1 0 -13.5 0M160.09 604.97a6.75 6.75 0 1 0 13.5 0a6.75 6.75 0 1 0 -13.5 0M162.93 604.86a6.75 6.75 0 1 0 13.5 0a6.75 6.75 0 1 0 -13.5 0M166.13 604.73a6.75 6.75 0 1 0 13.5 0a6.75 6.75 0 1 0 -13.5 0M169.73 604.57a6.75 6.75 0 1 0 13.5 0a6.75 6.75 0 1 0 -13.5 0M173.83 604.38a6.75 6.75 0 1 0 13.5 0a6.75 6.75 0 1 0 -13.5 0M178.54 604.17a6.75 6.75 0 1 0 13.5 0a6.75 6.75 0 1 0 -13.5 0M184.01 603.91a6.75 6.75 0 1 0 13.5 0a6.75 6.75 0 1 0 -13.5 0M190.42 603.06a6.75 6.75 0 1 0 13.5 0a6.75 6.75 0 1 0 -13.5 0M198.06 602.6a6.75 6.75 0 1 0 13.5 0a6.75 6.75 0 1 0 -13.5 0M207.3 598.36a6.75 6.75 0 1 0 13.5 0a6.75 6.75 0 1 0 -13.5 0M218.72 593.75a6.75 6.75 0 1 0 13.5 0a6.75 6.75 0 1 0 -13.5 0M233.18 585.15a6.75 6.75 0 1 0 13.5 0a6.75 6.75 0 1 0 -13.5 0M252.09 581.91a6.75 6.75 0 1 0 13.5 0a6.75 6.75 0 1 0 -13.5 0M277.88 562.5a6.75 6.75 0 1 0 13.5 0a6.75 6.75 0 1 0 -13.5 0M315.13 482.63a6.75 6.75 0 1 0 13.5 0a6.75 6.75 0 1 0 -13.5 0M373.67 453.14a6.75 6.75 0 1 0 13.5 0a6.75 6.75 0 1 0 -13.5 0M479.04 523.91a6.75 6.75 0 1 0 13.5 0a6.75 6.75 0 1 0 -13.5 0" fill="none" stroke="#8D72FF" stroke-width="4.5"/>
<path d="M132.5 605.48 L132.76 605.48 L133.03 605.47 L133.32 605.47 L133.61 605.47 L133.92 605.47 L134.23 605.47 L134.56 605.47 L134.9 605.46 L135.26 605.46 L135.63 605.46 L136.01 605.46 L136.41 605.46 L136.83 605.45 L137.26 605.45 L137.72 605.45 L138.19 605.45 L138.69 605.44 L139.22 605.44 L139.76 605.44 L140.34 605.43 L140.95 605.43 L141.59 605.42 L142.26 605.42 L142.97 605.41 L143.72 605.4 L144.52 605.4 L145.37 605.39 L146.27 605.38 L147.23 605.37 L148.25 605.36 L149.35 605.35 L150.53 605.33 L151.79 605.31 L153.16 605.29 L154.63 605.26 L156.23 605.24 L157.98 605.21 L159.88 605.11 L161.97 605.01 L164.28 604.89 L166.84 604.75 L169.68 604.58 L172.88 604.37 L176.48 604.12 L180.58 603.83 L185.29 603.64 L190.76 603.41 L197.17 602.05 L204.81 601.15 L214.05 597.87 L225.47 592.09 L239.93 570.41 L258.84 554.88 L284.63 517.45 L321.88 387.96 L380.42 348.94 L485.79 474.47 L707 542.57" fill="none" stroke="#A956FF" stroke-width="4.7" stroke-linejoin="round" stroke-linecap="butt"/><path d="M125.75 605.48a6.75 6.75 0 1 0 13.5 0a6.75 6.75 0 1 0 -13.5 0M126.01 605.48a6.75 6.75 0 1 0 13.5 0a6.75 6.75 0 1 0 -13.5 0M126.28 605.47a6.75 6.75 0 1 0 13.5 0a6.75 6.75 0 1 0 -13.5 0M126.57 605.47a6.75 6.75 0 1 0 13.5 0a6.75 6.75 0 1 0 -13.5 0M126.86 605.47a6.75 6.75 0 1 0 13.5 0a6.75 6.75 0 1 0 -13.5 0M127.17 605.47a6.75 6.75 0 1 0 13.5 0a6.75 6.75 0 1 0 -13.5 0M127.48 605.47a6.75 6.75 0 1 0 13.5 0a6.75 6.75 0 1 0 -13.5 0M127.81 605.47a6.75 6.75 0 1 0 13.5 0a6.75 6.75 0 1 0 -13.5 0M128.15 605.46a6.75 6.75 0 1 0 13.5 0a6.75 6.75 0 1 0 -13.5 0M128.51 605.46a6.75 6.75 0 1 0 13.5 0a6.75 6.75 0 1 0 -13.5 0M128.88 605.46a6.75 6.75 0 1 0 13.5 0a6.75 6.75 0 1 0 -13.5 0M129.26 605.46a6.75 6.75 0 1 0 13.5 0a6.75 6.75 0 1 0 -13.5 0M129.66 605.46a6.75 6.75 0 1 0 13.5 0a6.75 6.75 0 1 0 -13.5 0M130.08 605.45a6.75 6.75 0 1 0 13.5 0a6.75 6.75 0 1 0 -13.5 0M130.51 605.45a6.75 6.75 0 1 0 13.5 0a6.75 6.75 0 1 0 -13.5 0M130.97 605.45a6.75 6.75 0 1 0 13.5 0a6.75 6.75 0 1 0 -13.5 0M131.44 605.45a6.75 6.75 0 1 0 13.5 0a6.75 6.75 0 1 0 -13.5 0M131.94 605.44a6.75 6.75 0 1 0 13.5 0a6.75 6.75 0 1 0 -13.5 0M132.47 605.44a6.75 6.75 0 1 0 13.5 0a6.75 6.75 0 1 0 -13.5 0M133.01 605.44a6.75 6.75 0 1 0 13.5 0a6.75 6.75 0 1 0 -13.5 0M133.59 605.43a6.75 6.75 0 1 0 13.5 0a6.75 6.75 0 1 0 -13.5 0M134.2 605.43a6.75 6.75 0 1 0 13.5 0a6.75 6.75 0 1 0 -13.5 0M134.84 605.42a6.75 6.75 0 1 0 13.5 0a6.75 6.75 0 1 0 -13.5 0M135.51 605.42a6.75 6.75 0 1 0 13.5 0a6.75 6.75 0 1 0 -13.5 0M136.22 605.41a6.75 6.75 0 1 0 13.5 0a6.75 6.75 0 1 0 -13.5 0M136.97 605.4a6.75 6.75 0 1 0 13.5 0a6.75 6.75 0 1 0 -13.5 0M137.77 605.4a6.75 6.75 0 1 0 13.5 0a6.75 6.75 0 1 0 -13.5 0M138.62 605.39a6.75 6.75 0 1 0 13.5 0a6.75 6.75 0 1 0 -13.5 0M139.52 605.38a6.75 6.75 0 1 0 13.5 0a6.75 6.75 0 1 0 -13.5 0M140.48 605.37a6.75 6.75 0 1 0 13.5 0a6.75 6.75 0 1 0 -13.5 0M141.5 605.36a6.75 6.75 0 1 0 13.5 0a6.75 6.75 0 1 0 -13.5 0M142.6 605.35a6.75 6.75 0 1 0 13.5 0a6.75 6.75 0 1 0 -13.5 0M143.78 605.33a6.75 6.75 0 1 0 13.5 0a6.75 6.75 0 1 0 -13.5 0M145.04 605.31a6.75 6.75 0 1 0 13.5 0a6.75 6.75 0 1 0 -13.5 0M146.41 605.29a6.75 6.75 0 1 0 13.5 0a6.75 6.75 0 1 0 -13.5 0M147.88 605.26a6.75 6.75 0 1 0 13.5 0a6.75 6.75 0 1 0 -13.5 0M149.48 605.24a6.75 6.75 0 1 0 13.5 0a6.75 6.75 0 1 0 -13.5 0M151.23 605.21a6.75 6.75 0 1 0 13.5 0a6.75 6.75 0 1 0 -13.5 0M153.13 605.11a6.75 6.75 0 1 0 13.5 0a6.75 6.75 0 1 0 -13.5 0M155.22 605.01a6.75 6.75 0 1 0 13.5 0a6.75 6.75 0 1 0 -13.5 0M157.53 604.89a6.75 6.75 0 1 0 13.5 0a6.75 6.75 0 1 0 -13.5 0M160.09 604.75a6.75 6.75 0 1 0 13.5 0a6.75 6.75 0 1 0 -13.5 0M162.93 604.58a6.75 6.75 0 1 0 13.5 0a6.75 6.75 0 1 0 -13.5 0M166.13 604.37a6.75 6.75 0 1 0 13.5 0a6.75 6.75 0 1 0 -13.5 0M169.73 604.12a6.75 6.75 0 1 0 13.5 0a6.75 6.75 0 1 0 -13.5 0M173.83 603.83a6.75 6.75 0 1 0 13.5 0a6.75 6.75 0 1 0 -13.5 0M178.54 603.64a6.75 6.75 0 1 0 13.5 0a6.75 6.75 0 1 0 -13.5 0M184.01 603.41a6.75 6.75 0 1 0 13.5 0a6.75 6.75 0 1 0 -13.5 0M190.42 602.05a6.75 6.75 0 1 0 13.5 0a6.75 6.75 0 1 0 -13.5 0M198.06 601.15a6.75 6.75 0 1 0 13.5 0a6.75 6.75 0 1 0 -13.5 0M207.3 597.87a6.75 6.75 0 1 0 13.5 0a6.75 6.75 0 1 0 -13.5 0M218.72 592.09a6.75 6.75 0 1 0 13.5 0a6.75 6.75 0 1 0 -13.5 0M233.18 570.41a6.75 6.75 0 1 0 13.5 0a6.75 6.75 0 1 0 -13.5 0M252.09 554.88a6.75 6.75 0 1 0 13.5 0a6.75 6.75 0 1 0 -13.5 0M277.88 517.45a6.75 6.75 0 1 0 13.5 0a6.75 6.75 0 1 0 -13.5 0M315.13 387.96a6.75 6.75 0 1 0 13.5 0a6.75 6.75 0 1 0 -13.5 0M373.67 348.94a6.75 6.75 0 1 0 13.5 0a6.75 6.75 0 1 0 -13.5 0M479.04 474.47a6.75 6.75 0 1 0 13.5 0a6.75 6.75 0 1 0 -13.5 0" fill="none" stroke="#A956FF" stroke-width="4.5"/>
<path d="M132.5 605.47 L132.76 605.47 L133.03 605.47 L133.32 605.47 L133.61 605.47 L133.92 605.46 L134.23 605.46 L134.56 605.46 L134.9 605.46 L135.26 605.46 L135.63 605.45 L136.01 605.45 L136.41 605.45 L136.83 605.44 L137.26 605.44 L137.72 605.44 L138.19 605.44 L138.69 605.43 L139.22 605.43 L139.76 605.42 L140.34 605.42 L140.95 605.41 L141.59 605.41 L142.26 605.4 L142.97 605.39 L143.72 605.38 L144.52 605.37 L145.37 605.36 L146.27 605.35 L147.23 605.34 L148.25 605.32 L149.35 605.3 L150.53 605.28 L151.79 605.25 L153.16 605.22 L154.63 605.18 L156.23 605.14 L157.98 605.09 L159.88 604.96 L161.97 604.81 L164.28 604.65 L166.84 604.45 L169.68 604.21 L172.88 603.92 L176.48 603.55 L180.58 603.15 L185.29 602.97 L190.76 602.77 L197.17 601.18 L204.81 600.28 L214.05 595.04 L225.47 587.46 L239.93 547.11 L258.84 515.26 L284.63 466.95 L321.88 223.41 L380.42 152.55 L485.79 378.62 L707 501.92" fill="none" stroke="#C43BFF" stroke-width="4.7" stroke-linejoin="round" stroke-linecap="butt"/><path d="M125.75 605.47a6.75 6.75 0 1 0 13.5 0a6.75 6.75 0 1 0 -13.5 0M126.01 605.47a6.75 6.75 0 1 0 13.5 0a6.75 6.75 0 1 0 -13.5 0M126.28 605.47a6.75 6.75 0 1 0 13.5 0a6.75 6.75 0 1 0 -13.5 0M126.57 605.47a6.75 6.75 0 1 0 13.5 0a6.75 6.75 0 1 0 -13.5 0M126.86 605.47a6.75 6.75 0 1 0 13.5 0a6.75 6.75 0 1 0 -13.5 0M127.17 605.46a6.75 6.75 0 1 0 13.5 0a6.75 6.75 0 1 0 -13.5 0M127.48 605.46a6.75 6.75 0 1 0 13.5 0a6.75 6.75 0 1 0 -13.5 0M127.81 605.46a6.75 6.75 0 1 0 13.5 0a6.75 6.75 0 1 0 -13.5 0M128.15 605.46a6.75 6.75 0 1 0 13.5 0a6.75 6.75 0 1 0 -13.5 0M128.51 605.46a6.75 6.75 0 1 0 13.5 0a6.75 6.75 0 1 0 -13.5 0M128.88 605.45a6.75 6.75 0 1 0 13.5 0a6.75 6.75 0 1 0 -13.5 0M129.26 605.45a6.75 6.75 0 1 0 13.5 0a6.75 6.75 0 1 0 -13.5 0M129.66 605.45a6.75 6.75 0 1 0 13.5 0a6.75 6.75 0 1 0 -13.5 0M130.08 605.44a6.75 6.75 0 1 0 13.5 0a6.75 6.75 0 1 0 -13.5 0M130.51 605.44a6.75 6.75 0 1 0 13.5 0a6.75 6.75 0 1 0 -13.5 0M130.97 605.44a6.75 6.75 0 1 0 13.5 0a6.75 6.75 0 1 0 -13.5 0M131.44 605.44a6.75 6.75 0 1 0 13.5 0a6.75 6.75 0 1 0 -13.5 0M131.94 605.43a6.75 6.75 0 1 0 13.5 0a6.75 6.75 0 1 0 -13.5 0M132.47 605.43a6.75 6.75 0 1 0 13.5 0a6.75 6.75 0 1 0 -13.5 0M133.01 605.42a6.75 6.75 0 1 0 13.5 0a6.75 6.75 0 1 0 -13.5 0M133.59 605.42a6.75 6.75 0 1 0 13.5 0a6.75 6.75 0 1 0 -13.5 0M134.2 605.41a6.75 6.75 0 1 0 13.5 0a6.75 6.75 0 1 0 -13.5 0M134.84 605.41a6.75 6.75 0 1 0 13.5 0a6.75 6.75 0 1 0 -13.5 0M135.51 605.4a6.75 6.75 0 1 0 13.5 0a6.75 6.75 0 1 0 -13.5 0M136.22 605.39a6.75 6.75 0 1 0 13.5 0a6.75 6.75 0 1 0 -13.5 0M136.97 605.38a6.75 6.75 0 1 0 13.5 0a6.75 6.75 0 1 0 -13.5 0M137.77 605.37a6.75 6.75 0 1 0 13.5 0a6.75 6.75 0 1 0 -13.5 0M138.62 605.36a6.75 6.75 0 1 0 13.5 0a6.75 6.75 0 1 0 -13.5 0M139.52 605.35a6.75 6.75 0 1 0 13.5 0a6.75 6.75 0 1 0 -13.5 0M140.48 605.34a6.75 6.75 0 1 0 13.5 0a6.75 6.75 0 1 0 -13.5 0M141.5 605.32a6.75 6.75 0 1 0 13.5 0a6.75 6.75 0 1 0 -13.5 0M142.6 605.3a6.75 6.75 0 1 0 13.5 0a6.75 6.75 0 1 0 -13.5 0M143.78 605.28a6.75 6.75 0 1 0 13.5 0a6.75 6.75 0 1 0 -13.5 0M145.04 605.25a6.75 6.75 0 1 0 13.5 0a6.75 6.75 0 1 0 -13.5 0M146.41 605.22a6.75 6.75 0 1 0 13.5 0a6.75 6.75 0 1 0 -13.5 0M147.88 605.18a6.75 6.75 0 1 0 13.5 0a6.75 6.75 0 1 0 -13.5 0M149.48 605.14a6.75 6.75 0 1 0 13.5 0a6.75 6.75 0 1 0 -13.5 0M151.23 605.09a6.75 6.75 0 1 0 13.5 0a6.75 6.75 0 1 0 -13.5 0M153.13 604.96a6.75 6.75 0 1 0 13.5 0a6.75 6.75 0 1 0 -13.5 0M155.22 604.81a6.75 6.75 0 1 0 13.5 0a6.75 6.75 0 1 0 -13.5 0M157.53 604.65a6.75 6.75 0 1 0 13.5 0a6.75 6.75 0 1 0 -13.5 0M160.09 604.45a6.75 6.75 0 1 0 13.5 0a6.75 6.75 0 1 0 -13.5 0M162.93 604.21a6.75 6.75 0 1 0 13.5 0a6.75 6.75 0 1 0 -13.5 0M166.13 603.92a6.75 6.75 0 1 0 13.5 0a6.75 6.75 0 1 0 -13.5 0M169.73 603.55a6.75 6.75 0 1 0 13.5 0a6.75 6.75 0 1 0 -13.5 0M173.83 603.15a6.75 6.75 0 1 0 13.5 0a6.75 6.75 0 1 0 -13.5 0M178.54 602.97a6.75 6.75 0 1 0 13.5 0a6.75 6.75 0 1 0 -13.5 0M184.01 602.77a6.75 6.75 0 1 0 13.5 0a6.75 6.75 0 1 0 -13.5 0M190.42 601.18a6.75 6.75 0 1 0 13.5 0a6.75 6.75 0 1 0 -13.5 0M198.06 600.28a6.75 6.75 0 1 0 13.5 0a6.75 6.75 0 1 0 -13.5 0M207.3 595.04a6.75 6.75 0 1 0 13.5 0a6.75 6.75 0 1 0 -13.5 0M218.72 587.46a6.75 6.75 0 1 0 13.5 0a6.75 6.75 0 1 0 -13.5 0M233.18 547.11a6.75 6.75 0 1 0 13.5 0a6.75 6.75 0 1 0 -13.5 0M252.09 515.26a6.75 6.75 0 1 0 13.5 0a6.75 6.75 0 1 0 -13.5 0M277.88 466.95a6.75 6.75 0 1 0 13.5 0a6.75 6.75 0 1 0 -13.5 0M315.13 223.41a6.75 6.75 0 1 0 13.5 0a6.75 6.75 0 1 0 -13.5 0M373.67 152.55a6.75 6.75 0 1 0 13.5 0a6.75 6.75 0 1 0 -13.5 0M479.04 378.62a6.75 6.75 0 1 0 13.5 0a6.75 6.75 0 1 0 -13.5 0" fill="none" stroke="#C43BFF" stroke-width="4.5"/>
<line x1="299.66" y1="17" x2="299.66" y2="605.5" stroke="#000" stroke-width="4.7" stroke-dasharray="17.7 4.8 8.4 4.8"/>
<line x1="375.34" y1="17" x2="375.34" y2="605.5" stroke="#000" stroke-width="4.7" stroke-dasharray="17.7 18"/>
<text x="101.5" y="621.1" text-anchor="end" class="tk">0</text>
<path d="M88.37 522.8L92.79 522.8L92.79 491.73L89.43 491.73C88.77 495.04 86.74 497.03 81.26 497.25L81.26 500.52L88.37 500.52Z" fill="#000"/>
<text x="101.5" y="424.5" text-anchor="end" class="tk">2</text>
<text x="101.5" y="326.2" text-anchor="end" class="tk">3</text>
<text x="101.5" y="227.9" text-anchor="end" class="tk">4</text>
<text x="101.5" y="129.6" text-anchor="end" class="tk">5</text>
<text x="101.5" y="31.3" text-anchor="end" class="tk">6</text>
<text x="116.2" y="661" text-anchor="middle" class="tk">0</text>
<text x="273.53" y="661" text-anchor="middle" class="tk">200</text>
<text x="430.87" y="661" text-anchor="middle" class="tk">400</text>
<text x="588.2" y="661" text-anchor="middle" class="tk">600</text>
<text x="411" y="717.3" text-anchor="middle" class="lb">wavelength (nm)</text>
<text transform="translate(59.7 310.6) rotate(-90) scale(1.011 1.05)" text-anchor="middle" class="lb">PSD (nm<tspan dy="-23.2" font-size="38.5">2</tspan><tspan dy="23.2">)</tspan></text>
<text transform="translate(134.2 81) scale(1 1.03)" class="lt">a</text>
<rect x="904.5" y="15.7" width="590" height="589.8" fill="none" stroke="#262626" stroke-width="1"/>
<path d="M1061.83 605.5v-5.9 M1061.83 15.7v5.9 M1219.17 605.5v-5.9 M1219.17 15.7v5.9 M1376.5 605.5v-5.9 M1376.5 15.7v5.9 M904.5 507.2h5.9 M1494.5 507.2h-5.9 M904.5 408.9h5.9 M1494.5 408.9h-5.9 M904.5 310.6h5.9 M1494.5 310.6h-5.9 M904.5 212.3h5.9 M1494.5 212.3h-5.9 M904.5 114h5.9 M1494.5 114h-5.9 " stroke="#262626" stroke-width="1" fill="none"/>
<path d="M920 605.01 L920.26 604.97 L920.53 604.93 L920.82 604.89 L921.11 604.84 L921.42 604.79 L921.73 604.75 L922.06 604.7 L922.4 604.64 L922.76 604.59 L923.13 604.53 L923.51 604.47 L923.91 604.41 L924.33 604.35 L924.76 604.28 L925.22 604.21 L925.69 604.14 L926.19 604.06 L926.72 603.98 L927.26 603.9 L927.84 603.81 L928.45 603.71 L929.09 603.62 L929.76 603.51 L930.47 603.4 L931.22 603.29 L932.02 603.17 L932.87 603.04 L933.77 602.9 L934.73 602.75 L935.75 602.59 L936.85 602.36 L938.03 602.08 L939.29 601.79 L940.66 601.47 L942.13 601.12 L943.73 600.75 L945.48 600.34 L947.38 599.89 L949.47 599.39 L951.78 598.82 L954.34 598.18 L957.18 597.56 L960.38 597.22 L963.98 596.84 L968.08 596.37 L972.79 595.58 L978.26 594.6 L984.67 593.25 L992.31 590.74 L1001.55 585.86 L1012.97 584.85 L1027.43 581.42 L1046.34 557.33 L1072.13 565.17 L1109.38 520.96 L1167.92 459.05 L1273.29 144.97 L1392.81 15.7" fill="none" stroke="#000000" stroke-width="4.7" stroke-linejoin="round" stroke-linecap="butt"/><path d="M913.25 605.01a6.75 6.75 0 1 0 13.5 0a6.75 6.75 0 1 0 -13.5 0M913.51 604.97a6.75 6.75 0 1 0 13.5 0a6.75 6.75 0 1 0 -13.5 0M913.78 604.93a6.75 6.75 0 1 0 13.5 0a6.75 6.75 0 1 0 -13.5 0M914.07 604.89a6.75 6.75 0 1 0 13.5 0a6.75 6.75 0 1 0 -13.5 0M914.36 604.84a6.75 6.75 0 1 0 13.5 0a6.75 6.75 0 1 0 -13.5 0M914.67 604.79a6.75 6.75 0 1 0 13.5 0a6.75 6.75 0 1 0 -13.5 0M914.98 604.75a6.75 6.75 0 1 0 13.5 0a6.75 6.75 0 1 0 -13.5 0M915.31 604.7a6.75 6.75 0 1 0 13.5 0a6.75 6.75 0 1 0 -13.5 0M915.65 604.64a6.75 6.75 0 1 0 13.5 0a6.75 6.75 0 1 0 -13.5 0M916.01 604.59a6.75 6.75 0 1 0 13.5 0a6.75 6.75 0 1 0 -13.5 0M916.38 604.53a6.75 6.75 0 1 0 13.5 0a6.75 6.75 0 1 0 -13.5 0M916.76 604.47a6.75 6.75 0 1 0 13.5 0a6.75 6.75 0 1 0 -13.5 0M917.16 604.41a6.75 6.75 0 1 0 13.5 0a6.75 6.75 0 1 0 -13.5 0M917.58 604.35a6.75 6.75 0 1 0 13.5 0a6.75 6.75 0 1 0 -13.5 0M918.01 604.28a6.75 6.75 0 1 0 13.5 0a6.75 6.75 0 1 0 -13.5 0M918.47 604.21a6.75 6.75 0 1 0 13.5 0a6.75 6.75 0 1 0 -13.5 0M918.94 604.14a6.75 6.75 0 1 0 13.5 0a6.75 6.75 0 1 0 -13.5 0M919.44 604.06a6.75 6.75 0 1 0 13.5 0a6.75 6.75 0 1 0 -13.5 0M919.97 603.98a6.75 6.75 0 1 0 13.5 0a6.75 6.75 0 1 0 -13.5 0M920.51 603.9a6.75 6.75 0 1 0 13.5 0a6.75 6.75 0 1 0 -13.5 0M921.09 603.81a6.75 6.75 0 1 0 13.5 0a6.75 6.75 0 1 0 -13.5 0M921.7 603.71a6.75 6.75 0 1 0 13.5 0a6.75 6.75 0 1 0 -13.5 0M922.34 603.62a6.75 6.75 0 1 0 13.5 0a6.75 6.75 0 1 0 -13.5 0M923.01 603.51a6.75 6.75 0 1 0 13.5 0a6.75 6.75 0 1 0 -13.5 0M923.72 603.4a6.75 6.75 0 1 0 13.5 0a6.75 6.75 0 1 0 -13.5 0M924.47 603.29a6.75 6.75 0 1 0 13.5 0a6.75 6.75 0 1 0 -13.5 0M925.27 603.17a6.75 6.75 0 1 0 13.5 0a6.75 6.75 0 1 0 -13.5 0M926.12 603.04a6.75 6.75 0 1 0 13.5 0a6.75 6.75 0 1 0 -13.5 0M927.02 602.9a6.75 6.75 0 1 0 13.5 0a6.75 6.75 0 1 0 -13.5 0M927.98 602.75a6.75 6.75 0 1 0 13.5 0a6.75 6.75 0 1 0 -13.5 0M929 602.59a6.75 6.75 0 1 0 13.5 0a6.75 6.75 0 1 0 -13.5 0M930.1 602.36a6.75 6.75 0 1 0 13.5 0a6.75 6.75 0 1 0 -13.5 0M931.28 602.08a6.75 6.75 0 1 0 13.5 0a6.75 6.75 0 1 0 -13.5 0M932.54 601.79a6.75 6.75 0 1 0 13.5 0a6.75 6.75 0 1 0 -13.5 0M933.91 601.47a6.75 6.75 0 1 0 13.5 0a6.75 6.75 0 1 0 -13.5 0M935.38 601.12a6.75 6.75 0 1 0 13.5 0a6.75 6.75 0 1 0 -13.5 0M936.98 600.75a6.75 6.75 0 1 0 13.5 0a6.75 6.75 0 1 0 -13.5 0M938.73 600.34a6.75 6.75 0 1 0 13.5 0a6.75 6.75 0 1 0 -13.5 0M940.63 599.89a6.75 6.75 0 1 0 13.5 0a6.75 6.75 0 1 0 -13.5 0M942.72 599.39a6.75 6.75 0 1 0 13.5 0a6.75 6.75 0 1 0 -13.5 0M945.03 598.82a6.75 6.75 0 1 0 13.5 0a6.75 6.75 0 1 0 -13.5 0M947.59 598.18a6.75 6.75 0 1 0 13.5 0a6.75 6.75 0 1 0 -13.5 0M950.43 597.56a6.75 6.75 0 1 0 13.5 0a6.75 6.75 0 1 0 -13.5 0M953.63 597.22a6.75 6.75 0 1 0 13.5 0a6.75 6.75 0 1 0 -13.5 0M957.23 596.84a6.75 6.75 0 1 0 13.5 0a6.75 6.75 0 1 0 -13.5 0M961.33 596.37a6.75 6.75 0 1 0 13.5 0a6.75 6.75 0 1 0 -13.5 0M966.04 595.58a6.75 6.75 0 1 0 13.5 0a6.75 6.75 0 1 0 -13.5 0M971.51 594.6a6.75 6.75 0 1 0 13.5 0a6.75 6.75 0 1 0 -13.5 0M977.92 593.25a6.75 6.75 0 1 0 13.5 0a6.75 6.75 0 1 0 -13.5 0M985.56 590.74a6.75 6.75 0 1 0 13.5 0a6.75 6.75 0 1 0 -13.5 0M994.8 585.86a6.75 6.75 0 1 0 13.5 0a6.75 6.75 0 1 0 -13.5 0M1006.22 584.85a6.75 6.75 0 1 0 13.5 0a6.75 6.75 0 1 0 -13.5 0M1020.68 581.42a6.75 6.75 0 1 0 13.5 0a6.75 6.75 0 1 0 -13.5 0M1039.59 557.33a6.75 6.75 0 1 0 13.5 0a6.75 6.75 0 1 0 -13.5 0M1065.38 565.17a6.75 6.75 0 1 0 13.5 0a6.75 6.75 0 1 0 -13.5 0M1102.63 520.96a6.75 6.75 0 1 0 13.5 0a6.75 6.75 0 1 0 -13.5 0M1161.17 459.05a6.75 6.75 0 1 0 13.5 0a6.75 6.75 0 1 0 -13.5 0M1266.54 144.97a6.75 6.75 0 1 0 13.5 0a6.75 6.75 0 1 0 -13.5 0" fill="none" stroke="#000000" stroke-width="4.5"/>
<path d="M920 605.48 L920.26 605.48 L920.53 605.48 L920.82 605.48 L921.11 605.47 L921.42 605.47 L921.73 605.47 L922.06 605.47 L922.4 605.46 L922.76 605.46 L923.13 605.46 L923.51 605.46 L923.91 605.45 L924.33 605.45 L924.76 605.45 L925.22 605.45 L925.69 605.44 L926.19 605.44 L926.72 605.43 L927.26 605.43 L927.84 605.43 L928.45 605.42 L929.09 605.42 L929.76 605.41 L930.47 605.41 L931.22 605.4 L932.02 605.39 L932.87 605.39 L933.77 605.38 L934.73 605.37 L935.75 605.36 L936.85 605.35 L938.03 605.34 L939.29 605.32 L940.66 605.3 L942.13 605.28 L943.73 605.26 L945.48 605.23 L947.38 605.19 L949.47 605.15 L951.78 605.09 L954.34 605.03 L957.18 604.96 L960.38 604.9 L963.98 604.8 L968.08 604.66 L972.79 604.46 L978.26 604.19 L984.67 603.69 L992.31 602.84 L1001.55 600.99 L1012.97 598.11 L1027.43 590.75 L1046.34 566.18 L1072.13 567.14 L1109.38 522.34 L1167.92 462.98 L1273.29 187.23 L1481.25 15.7" fill="none" stroke="#1FE0FF" stroke-width="4.7" stroke-linejoin="round" stroke-linecap="butt"/><path d="M913.25 605.48a6.75 6.75 0 1 0 13.5 0a6.75 6.75 0 1 0 -13.5 0M913.51 605.48a6.75 6.75 0 1 0 13.5 0a6.75 6.75 0 1 0 -13.5 0M913.78 605.48a6.75 6.75 0 1 0 13.5 0a6.75 6.75 0 1 0 -13.5 0M914.07 605.48a6.75 6.75 0 1 0 13.5 0a6.75 6.75 0 1 0 -13.5 0M914.36 605.47a6.75 6.75 0 1 0 13.5 0a6.75 6.75 0 1 0 -13.5 0M914.67 605.47a6.75 6.75 0 1 0 13.5 0a6.75 6.75 0 1 0 -13.5 0M914.98 605.47a6.75 6.75 0 1 0 13.5 0a6.75 6.75 0 1 0 -13.5 0M915.31 605.47a6.75 6.75 0 1 0 13.5 0a6.75 6.75 0 1 0 -13.5 0M915.65 605.46a6.75 6.75 0 1 0 13.5 0a6.75 6.75 0 1 0 -13.5 0M916.01 605.46a6.75 6.75 0 1 0 13.5 0a6.75 6.75 0 1 0 -13.5 0M916.38 605.46a6.75 6.75 0 1 0 13.5 0a6.75 6.75 0 1 0 -13.5 0M916.76 605.46a6.75 6.75 0 1 0 13.5 0a6.75 6.75 0 1 0 -13.5 0M917.16 605.45a6.75 6.75 0 1 0 13.5 0a6.75 6.75 0 1 0 -13.5 0M917.58 605.45a6.75 6.75 0 1 0 13.5 0a6.75 6.75 0 1 0 -13.5 0M918.01 605.45a6.75 6.75 0 1 0 13.5 0a6.75 6.75 0 1 0 -13.5 0M918.47 605.45a6.75 6.75 0 1 0 13.5 0a6.75 6.75 0 1 0 -13.5 0M918.94 605.44a6.75 6.75 0 1 0 13.5 0a6.75 6.75 0 1 0 -13.5 0M919.44 605.44a6.75 6.75 0 1 0 13.5 0a6.75 6.75 0 1 0 -13.5 0M919.97 605.43a6.75 6.75 0 1 0 13.5 0a6.75 6.75 0 1 0 -13.5 0M920.51 605.43a6.75 6.75 0 1 0 13.5 0a6.75 6.75 0 1 0 -13.5 0M921.09 605.43a6.75 6.75 0 1 0 13.5 0a6.75 6.75 0 1 0 -13.5 0M921.7 605.42a6.75 6.75 0 1 0 13.5 0a6.75 6.75 0 1 0 -13.5 0M922.34 605.42a6.75 6.75 0 1 0 13.5 0a6.75 6.75 0 1 0 -13.5 0M923.01 605.41a6.75 6.75 0 1 0 13.5 0a6.75 6.75 0 1 0 -13.5 0M923.72 605.41a6.75 6.75 0 1 0 13.5 0a6.75 6.75 0 1 0 -13.5 0M924.47 605.4a6.75 6.75 0 1 0 13.5 0a6.75 6.75 0 1 0 -13.5 0M925.27 605.39a6.75 6.75 0 1 0 13.5 0a6.75 6.75 0 1 0 -13.5 0M926.12 605.39a6.75 6.75 0 1 0 13.5 0a6.75 6.75 0 1 0 -13.5 0M927.02 605.38a6.75 6.75 0 1 0 13.5 0a6.75 6.75 0 1 0 -13.5 0M927.98 605.37a6.75 6.75 0 1 0 13.5 0a6.75 6.75 0 1 0 -13.5 0M929 605.36a6.75 6.75 0 1 0 13.5 0a6.75 6.75 0 1 0 -13.5 0M930.1 605.35a6.75 6.75 0 1 0 13.5 0a6.75 6.75 0 1 0 -13.5 0M931.28 605.34a6.75 6.75 0 1 0 13.5 0a6.75 6.75 0 1 0 -13.5 0M932.54 605.32a6.75 6.75 0 1 0 13.5 0a6.75 6.75 0 1 0 -13.5 0M933.91 605.3a6.75 6.75 0 1 0 13.5 0a6.75 6.75 0 1 0 -13.5 0M935.38 605.28a6.75 6.75 0 1 0 13.5 0a6.75 6.75 0 1 0 -13.5 0M936.98 605.26a6.75 6.75 0 1 0 13.5 0a6.75 6.75 0 1 0 -13.5 0M938.73 605.23a6.75 6.75 0 1 0 13.5 0a6.75 6.75 0 1 0 -13.5 0M940.63 605.19a6.75 6.75 0 1 0 13.5 0a6.75 6.75 0 1 0 -13.5 0M942.72 605.15a6.75 6.75 0 1 0 13.5 0a6.75 6.75 0 1 0 -13.5 0M945.03 605.09a6.75 6.75 0 1 0 13.5 0a6.75 6.75 0 1 0 -13.5 0M947.59 605.03a6.75 6.75 0 1 0 13.5 0a6.75 6.75 0 1 0 -13.5 0M950.43 604.96a6.75 6.75 0 1 0 13.5 0a6.75 6.75 0 1 0 -13.5 0M953.63 604.9a6.75 6.75 0 1 0 13.5 0a6.75 6.75 0 1 0 -13.5 0M957.23 604.8a6.75 6.75 0 1 0 13.5 0a6.75 6.75 0 1 0 -13.5 0M961.33 604.66a6.75 6.75 0 1 0 13.5 0a6.75 6.75 0 1 0 -13.5 0M966.04 604.46a6.75 6.75 0 1 0 13.5 0a6.75 6.75 0 1 0 -13.5 0M971.51 604.19a6.75 6.75 0 1 0 13.5 0a6.75 6.75 0 1 0 -13.5 0M977.92 603.69a6.75 6.75 0 1 0 13.5 0a6.75 6.75 0 1 0 -13.5 0M985.56 602.84a6.75 6.75 0 1 0 13.5 0a6.75 6.75 0 1 0 -13.5 0M994.8 600.99a6.75 6.75 0 1 0 13.5 0a6.75 6.75 0 1 0 -13.5 0M1006.22 598.11a6.75 6.75 0 1 0 13.5 0a6.75 6.75 0 1 0 -13.5 0M1020.68 590.75a6.75 6.75 0 1 0 13.5 0a6.75 6.75 0 1 0 -13.5 0M1039.59 566.18a6.75 6.75 0 1 0 13.5 0a6.75 6.75 0 1 0 -13.5 0M1065.38 567.14a6.75 6.75 0 1 0 13.5 0a6.75 6.75 0 1 0 -13.5 0M1102.63 522.34a6.75 6.75 0 1 0 13.5 0a6.75 6.75 0 1 0 -13.5 0M1161.17 462.98a6.75 6.75 0 1 0 13.5 0a6.75 6.75 0 1 0 -13.5 0M1266.54 187.23a6.75 6.75 0 1 0 13.5 0a6.75 6.75 0 1 0 -13.5 0" fill="none" stroke="#1FE0FF" stroke-width="4.5"/>
<path d="M920 605.48 L920.26 605.48 L920.53 605.47 L920.82 605.47 L921.11 605.47 L921.42 605.47 L921.73 605.47 L922.06 605.46 L922.4 605.46 L922.76 605.46 L923.13 605.46 L923.51 605.45 L923.91 605.45 L924.33 605.45 L924.76 605.44 L925.22 605.44 L925.69 605.44 L926.19 605.43 L926.72 605.43 L927.26 605.42 L927.84 605.42 L928.45 605.41 L929.09 605.41 L929.76 605.4 L930.47 605.4 L931.22 605.39 L932.02 605.38 L932.87 605.38 L933.77 605.37 L934.73 605.36 L935.75 605.35 L936.85 605.34 L938.03 605.32 L939.29 605.3 L940.66 605.28 L942.13 605.26 L943.73 605.24 L945.48 605.2 L947.38 605.16 L949.47 605.12 L951.78 605.06 L954.34 604.99 L957.18 604.92 L960.38 604.86 L963.98 604.75 L968.08 604.6 L972.79 604.38 L978.26 604.08 L984.67 603.57 L992.31 602.69 L1001.55 600.79 L1012.97 598.67 L1027.43 591.25 L1046.34 565.2 L1072.13 564.48 L1109.38 518.31 L1167.92 455.7 L1273.29 181.83 L1485.82 15.7" fill="none" stroke="#3AC5FF" stroke-width="4.7" stroke-linejoin="round" stroke-linecap="butt"/><path d="M913.25 605.48a6.75 6.75 0 1 0 13.5 0a6.75 6.75 0 1 0 -13.5 0M913.51 605.48a6.75 6.75 0 1 0 13.5 0a6.75 6.75 0 1 0 -13.5 0M913.78 605.47a6.75 6.75 0 1 0 13.5 0a6.75 6.75 0 1 0 -13.5 0M914.07 605.47a6.75 6.75 0 1 0 13.5 0a6.75 6.75 0 1 0 -13.5 0M914.36 605.47a6.75 6.75 0 1 0 13.5 0a6.75 6.75 0 1 0 -13.5 0M914.67 605.47a6.75 6.75 0 1 0 13.5 0a6.75 6.75 0 1 0 -13.5 0M914.98 605.47a6.75 6.75 0 1 0 13.5 0a6.75 6.75 0 1 0 -13.5 0M915.31 605.46a6.75 6.75 0 1 0 13.5 0a6.75 6.75 0 1 0 -13.5 0M915.65 605.46a6.75 6.75 0 1 0 13.5 0a6.75 6.75 0 1 0 -13.5 0M916.01 605.46a6.75 6.75 0 1 0 13.5 0a6.75 6.75 0 1 0 -13.5 0M916.38 605.46a6.75 6.75 0 1 0 13.5 0a6.75 6.75 0 1 0 -13.5 0M916.76 605.45a6.75 6.75 0 1 0 13.5 0a6.75 6.75 0 1 0 -13.5 0M917.16 605.45a6.75 6.75 0 1 0 13.5 0a6.75 6.75 0 1 0 -13.5 0M917.58 605.45a6.75 6.75 0 1 0 13.5 0a6.75 6.75 0 1 0 -13.5 0M918.01 605.44a6.75 6.75 0 1 0 13.5 0a6.75 6.75 0 1 0 -13.5 0M918.47 605.44a6.75 6.75 0 1 0 13.5 0a6.75 6.75 0 1 0 -13.5 0M918.94 605.44a6.75 6.75 0 1 0 13.5 0a6.75 6.75 0 1 0 -13.5 0M919.44 605.43a6.75 6.75 0 1 0 13.5 0a6.75 6.75 0 1 0 -13.5 0M919.97 605.43a6.75 6.75 0 1 0 13.5 0a6.75 6.75 0 1 0 -13.5 0M920.51 605.42a6.75 6.75 0 1 0 13.5 0a6.75 6.75 0 1 0 -13.5 0M921.09 605.42a6.75 6.75 0 1 0 13.5 0a6.75 6.75 0 1 0 -13.5 0M921.7 605.41a6.75 6.75 0 1 0 13.5 0a6.75 6.75 0 1 0 -13.5 0M922.34 605.41a6.75 6.75 0 1 0 13.5 0a6.75 6.75 0 1 0 -13.5 0M923.01 605.4a6.75 6.75 0 1 0 13.5 0a6.75 6.75 0 1 0 -13.5 0M923.72 605.4a6.75 6.75 0 1 0 13.5 0a6.75 6.75 0 1 0 -13.5 0M924.47 605.39a6.75 6.75 0 1 0 13.5 0a6.75 6.75 0 1 0 -13.5 0M925.27 605.38a6.75 6.75 0 1 0 13.5 0a6.75 6.75 0 1 0 -13.5 0M926.12 605.38a6.75 6.75 0 1 0 13.5 0a6.75 6.75 0 1 0 -13.5 0M927.02 605.37a6.75 6.75 0 1 0 13.5 0a6.75 6.75 0 1 0 -13.5 0M927.98 605.36a6.75 6.75 0 1 0 13.5 0a6.75 6.75 0 1 0 -13.5 0M929 605.35a6.75 6.75 0 1 0 13.5 0a6.75 6.75 0 1 0 -13.5 0M930.1 605.34a6.75 6.75 0 1 0 13.5 0a6.75 6.75 0 1 0 -13.5 0M931.28 605.32a6.75 6.75 0 1 0 13.5 0a6.75 6.75 0 1 0 -13.5 0M932.54 605.3a6.75 6.75 0 1 0 13.5 0a6.75 6.75 0 1 0 -13.5 0M933.91 605.28a6.75 6.75 0 1 0 13.5 0a6.75 6.75 0 1 0 -13.5 0M935.38 605.26a6.75 6.75 0 1 0 13.5 0a6.75 6.75 0 1 0 -13.5 0M936.98 605.24a6.75 6.75 0 1 0 13.5 0a6.75 6.75 0 1 0 -13.5 0M938.73 605.2a6.75 6.75 0 1 0 13.5 0a6.75 6.75 0 1 0 -13.5 0M940.63 605.16a6.75 6.75 0 1 0 13.5 0a6.75 6.75 0 1 0 -13.5 0M942.72 605.12a6.75 6.75 0 1 0 13.5 0a6.75 6.75 0 1 0 -13.5 0M945.03 605.06a6.75 6.75 0 1 0 13.5 0a6.75 6.75 0 1 0 -13.5 0M947.59 604.99a6.75 6.75 0 1 0 13.5 0a6.75 6.75 0 1 0 -13.5 0M950.43 604.92a6.75 6.75 0 1 0 13.5 0a6.75 6.75 0 1 0 -13.5 0M953.63 604.86a6.75 6.75 0 1 0 13.5 0a6.75 6.75 0 1 0 -13.5 0M957.23 604.75a6.75 6.75 0 1 0 13.5 0a6.75 6.75 0 1 0 -13.5 0M961.33 604.6a6.75 6.75 0 1 0 13.5 0a6.75 6.75 0 1 0 -13.5 0M966.04 604.38a6.75 6.75 0 1 0 13.5 0a6.75 6.75 0 1 0 -13.5 0M971.51 604.08a6.75 6.75 0 1 0 13.5 0a6.75 6.75 0 1 0 -13.5 0M977.92 603.57a6.75 6.75 0 1 0 13.5 0a6.75 6.75 0 1 0 -13.5 0M985.56 602.69a6.75 6.75 0 1 0 13.5 0a6.75 6.75 0 1 0 -13.5 0M994.8 600.79a6.75 6.75 0 1 0 13.5 0a6.75 6.75 0 1 0 -13.5 0M1006.22 598.67a6.75 6.75 0 1 0 13.5 0a6.75 6.75 0 1 0 -13.5 0M1020.68 591.25a6.75 6.75 0 1 0 13.5 0a6.75 6.75 0 1 0 -13.5 0M1039.59 565.2a6.75 6.75 0 1 0 13.5 0a6.75 6.75 0 1 0 -13.5 0M1065.38 564.48a6.75 6.75 0 1 0 13.5 0a6.75 6.75 0 1 0 -13.5 0M1102.63 518.31a6.75 6.75 0 1 0 13.5 0a6.75 6.75 0 1 0 -13.5 0M1161.17 455.7a6.75 6.75 0 1 0 13.5 0a6.75 6.75 0 1 0 -13.5 0M1266.54 181.83a6.75 6.75 0 1 0 13.5 0a6.75 6.75 0 1 0 -13.5 0" fill="none" stroke="#3AC5FF" stroke-width="4.5"/>
<path d="M920 605.48 L920.26 605.48 L920.53 605.47 L920.82 605.47 L921.11 605.47 L921.42 605.47 L921.73 605.47 L922.06 605.46 L922.4 605.46 L922.76 605.46 L923.13 605.46 L923.51 605.45 L923.91 605.45 L924.33 605.45 L924.76 605.44 L925.22 605.44 L925.69 605.44 L926.19 605.43 L926.72 605.43 L927.26 605.42 L927.84 605.42 L928.45 605.41 L929.09 605.41 L929.76 605.4 L930.47 605.4 L931.22 605.39 L932.02 605.38 L932.87 605.38 L933.77 605.37 L934.73 605.36 L935.75 605.35 L936.85 605.34 L938.03 605.32 L939.29 605.3 L940.66 605.28 L942.13 605.26 L943.73 605.24 L945.48 605.2 L947.38 605.15 L949.47 605.1 L951.78 605.03 L954.34 604.95 L957.18 604.86 L960.38 604.78 L963.98 604.67 L968.08 604.51 L972.79 604.28 L978.26 603.97 L984.67 603.45 L992.31 602.55 L1001.55 600.4 L1012.97 599.27 L1027.43 591.74 L1046.34 565.2 L1072.13 558.49 L1109.38 514.28 L1167.92 450 L1273.29 175.14 L1490.14 15.7" fill="none" stroke="#56A9FF" stroke-width="4.7" stroke-linejoin="round" stroke-linecap="butt"/><path d="M913.25 605.48a6.75 6.75 0 1 0 13.5 0a6.75 6.75 0 1 0 -13.5 0M913.51 605.48a6.75 6.75 0 1 0 13.5 0a6.75 6.75 0 1 0 -13.5 0M913.78 605.47a6.75 6.75 0 1 0 13.5 0a6.75 6.75 0 1 0 -13.5 0M914.07 605.47a6.75 6.75 0 1 0 13.5 0a6.75 6.75 0 1 0 -13.5 0M914.36 605.47a6.75 6.75 0 1 0 13.5 0a6.75 6.75 0 1 0 -13.5 0M914.67 605.47a6.75 6.75 0 1 0 13.5 0a6.75 6.75 0 1 0 -13.5 0M914.98 605.47a6.75 6.75 0 1 0 13.5 0a6.75 6.75 0 1 0 -13.5 0M915.31 605.46a6.75 6.75 0 1 0 13.5 0a6.75 6.75 0 1 0 -13.5 0M915.65 605.46a6.75 6.75 0 1 0 13.5 0a6.75 6.75 0 1 0 -13.5 0M916.01 605.46a6.75 6.75 0 1 0 13.5 0a6.75 6.75 0 1 0 -13.5 0M916.38 605.46a6.75 6.75 0 1 0 13.5 0a6.75 6.75 0 1 0 -13.5 0M916.76 605.45a6.75 6.75 0 1 0 13.5 0a6.75 6.75 0 1 0 -13.5 0M917.16 605.45a6.75 6.75 0 1 0 13.5 0a6.75 6.75 0 1 0 -13.5 0M917.58 605.45a6.75 6.75 0 1 0 13.5 0a6.75 6.75 0 1 0 -13.5 0M918.01 605.44a6.75 6.75 0 1 0 13.5 0a6.75 6.75 0 1 0 -13.5 0M918.47 605.44a6.75 6.75 0 1 0 13.5 0a6.75 6.75 0 1 0 -13.5 0M918.94 605.44a6.75 6.75 0 1 0 13.5 0a6.75 6.75 0 1 0 -13.5 0M919.44 605.43a6.75 6.75 0 1 0 13.5 0a6.75 6.75 0 1 0 -13.5 0M919.97 605.43a6.75 6.75 0 1 0 13.5 0a6.75 6.75 0 1 0 -13.5 0M920.51 605.42a6.75 6.75 0 1 0 13.5 0a6.75 6.75 0 1 0 -13.5 0M921.09 605.42a6.75 6.75 0 1 0 13.5 0a6.75 6.75 0 1 0 -13.5 0M921.7 605.41a6.75 6.75 0 1 0 13.5 0a6.75 6.75 0 1 0 -13.5 0M922.34 605.41a6.75 6.75 0 1 0 13.5 0a6.75 6.75 0 1 0 -13.5 0M923.01 605.4a6.75 6.75 0 1 0 13.5 0a6.75 6.75 0 1 0 -13.5 0M923.72 605.4a6.75 6.75 0 1 0 13.5 0a6.75 6.75 0 1 0 -13.5 0M924.47 605.39a6.75 6.75 0 1 0 13.5 0a6.75 6.75 0 1 0 -13.5 0M925.27 605.38a6.75 6.75 0 1 0 13.5 0a6.75 6.75 0 1 0 -13.5 0M926.12 605.38a6.75 6.75 0 1 0 13.5 0a6.75 6.75 0 1 0 -13.5 0M927.02 605.37a6.75 6.75 0 1 0 13.5 0a6.75 6.75 0 1 0 -13.5 0M927.98 605.36a6.75 6.75 0 1 0 13.5 0a6.75 6.75 0 1 0 -13.5 0M929 605.35a6.75 6.75 0 1 0 13.5 0a6.75 6.75 0 1 0 -13.5 0M930.1 605.34a6.75 6.75 0 1 0 13.5 0a6.75 6.75 0 1 0 -13.5 0M931.28 605.32a6.75 6.75 0 1 0 13.5 0a6.75 6.75 0 1 0 -13.5 0M932.54 605.3a6.75 6.75 0 1 0 13.5 0a6.75 6.75 0 1 0 -13.5 0M933.91 605.28a6.75 6.75 0 1 0 13.5 0a6.75 6.75 0 1 0 -13.5 0M935.38 605.26a6.75 6.75 0 1 0 13.5 0a6.75 6.75 0 1 0 -13.5 0M936.98 605.24a6.75 6.75 0 1 0 13.5 0a6.75 6.75 0 1 0 -13.5 0M938.73 605.2a6.75 6.75 0 1 0 13.5 0a6.75 6.75 0 1 0 -13.5 0M940.63 605.15a6.75 6.75 0 1 0 13.5 0a6.75 6.75 0 1 0 -13.5 0M942.72 605.1a6.75 6.75 0 1 0 13.5 0a6.75 6.75 0 1 0 -13.5 0M945.03 605.03a6.75 6.75 0 1 0 13.5 0a6.75 6.75 0 1 0 -13.5 0M947.59 604.95a6.75 6.75 0 1 0 13.5 0a6.75 6.75 0 1 0 -13.5 0M950.43 604.86a6.75 6.75 0 1 0 13.5 0a6.75 6.75 0 1 0 -13.5 0M953.63 604.78a6.75 6.75 0 1 0 13.5 0a6.75 6.75 0 1 0 -13.5 0M957.23 604.67a6.75 6.75 0 1 0 13.5 0a6.75 6.75 0 1 0 -13.5 0M961.33 604.51a6.75 6.75 0 1 0 13.5 0a6.75 6.75 0 1 0 -13.5 0M966.04 604.28a6.75 6.75 0 1 0 13.5 0a6.75 6.75 0 1 0 -13.5 0M971.51 603.97a6.75 6.75 0 1 0 13.5 0a6.75 6.75 0 1 0 -13.5 0M977.92 603.45a6.75 6.75 0 1 0 13.5 0a6.75 6.75 0 1 0 -13.5 0M985.56 602.55a6.75 6.75 0 1 0 13.5 0a6.75 6.75 0 1 0 -13.5 0M994.8 600.4a6.75 6.75 0 1 0 13.5 0a6.75 6.75 0 1 0 -13.5 0M1006.22 599.27a6.75 6.75 0 1 0 13.5 0a6.75 6.75 0 1 0 -13.5 0M1020.68 591.74a6.75 6.75 0 1 0 13.5 0a6.75 6.75 0 1 0 -13.5 0M1039.59 565.2a6.75 6.75 0 1 0 13.5 0a6.75 6.75 0 1 0 -13.5 0M1065.38 558.49a6.75 6.75 0 1 0 13.5 0a6.75 6.75 0 1 0 -13.5 0M1102.63 514.28a6.75 6.75 0 1 0 13.5 0a6.75 6.75 0 1 0 -13.5 0M1161.17 450a6.75 6.75 0 1 0 13.5 0a6.75 6.75 0 1 0 -13.5 0M1266.54 175.14a6.75 6.75 0 1 0 13.5 0a6.75 6.75 0 1 0 -13.5 0" fill="none" stroke="#56A9FF" stroke-width="4.5"/>
<path d="M920 605.48 L920.26 605.47 L920.53 605.47 L920.82 605.47 L921.11 605.47 L921.42 605.46 L921.73 605.46 L922.06 605.46 L922.4 605.46 L922.76 605.45 L923.13 605.45 L923.51 605.45 L923.91 605.44 L924.33 605.44 L924.76 605.44 L925.22 605.43 L925.69 605.43 L926.19 605.42 L926.72 605.42 L927.26 605.41 L927.84 605.41 L928.45 605.4 L929.09 605.4 L929.76 605.39 L930.47 605.38 L931.22 605.37 L932.02 605.37 L932.87 605.36 L933.77 605.35 L934.73 605.34 L935.75 605.33 L936.85 605.31 L938.03 605.29 L939.29 605.27 L940.66 605.25 L942.13 605.22 L943.73 605.19 L945.48 605.14 L947.38 605.08 L949.47 605.01 L951.78 604.92 L954.34 604.81 L957.18 604.69 L960.38 604.59 L963.98 604.44 L968.08 604.23 L972.79 603.93 L978.26 603.54 L984.67 602.85 L992.31 601.66 L1001.55 599.61 L1012.97 596.21 L1027.43 587.02 L1046.34 554.38 L1072.13 545.61 L1109.38 499.83 L1167.92 431.62 L1273.29 159.81 L1488.47 15.7" fill="none" stroke="#718DFF" stroke-width="4.7" stroke-linejoin="round" stroke-linecap="butt"/><path d="M913.25 605.48a6.75 6.75 0 1 0 13.5 0a6.75 6.75 0 1 0 -13.5 0M913.51 605.47a6.75 6.75 0 1 0 13.5 0a6.75 6.75 0 1 0 -13.5 0M913.78 605.47a6.75 6.75 0 1 0 13.5 0a6.75 6.75 0 1 0 -13.5 0M914.07 605.47a6.75 6.75 0 1 0 13.5 0a6.75 6.75 0 1 0 -13.5 0M914.36 605.47a6.75 6.75 0 1 0 13.5 0a6.75 6.75 0 1 0 -13.5 0M914.67 605.46a6.75 6.75 0 1 0 13.5 0a6.75 6.75 0 1 0 -13.5 0M914.98 605.46a6.75 6.75 0 1 0 13.5 0a6.75 6.75 0 1 0 -13.5 0M915.31 605.46a6.75 6.75 0 1 0 13.5 0a6.75 6.75 0 1 0 -13.5 0M915.65 605.46a6.75 6.75 0 1 0 13.5 0a6.75 6.75 0 1 0 -13.5 0M916.01 605.45a6.75 6.75 0 1 0 13.5 0a6.75 6.75 0 1 0 -13.5 0M916.38 605.45a6.75 6.75 0 1 0 13.5 0a6.75 6.75 0 1 0 -13.5 0M916.76 605.45a6.75 6.75 0 1 0 13.5 0a6.75 6.75 0 1 0 -13.5 0M917.16 605.44a6.75 6.75 0 1 0 13.5 0a6.75 6.75 0 1 0 -13.5 0M917.58 605.44a6.75 6.75 0 1 0 13.5 0a6.75 6.75 0 1 0 -13.5 0M918.01 605.44a6.75 6.75 0 1 0 13.5 0a6.75 6.75 0 1 0 -13.5 0M918.47 605.43a6.75 6.75 0 1 0 13.5 0a6.75 6.75 0 1 0 -13.5 0M918.94 605.43a6.75 6.75 0 1 0 13.5 0a6.75 6.75 0 1 0 -13.5 0M919.44 605.42a6.75 6.75 0 1 0 13.5 0a6.75 6.75 0 1 0 -13.5 0M919.97 605.42a6.75 6.75 0 1 0 13.5 0a6.75 6.75 0 1 0 -13.5 0M920.51 605.41a6.75 6.75 0 1 0 13.5 0a6.75 6.75 0 1 0 -13.5 0M921.09 605.41a6.75 6.75 0 1 0 13.5 0a6.75 6.75 0 1 0 -13.5 0M921.7 605.4a6.75 6.75 0 1 0 13.5 0a6.75 6.75 0 1 0 -13.5 0M922.34 605.4a6.75 6.75 0 1 0 13.5 0a6.75 6.75 0 1 0 -13.5 0M923.01 605.39a6.75 6.75 0 1 0 13.5 0a6.75 6.75 0 1 0 -13.5 0M923.72 605.38a6.75 6.75 0 1 0 13.5 0a6.75 6.75 0 1 0 -13.5 0M924.47 605.37a6.75 6.75 0 1 0 13.5 0a6.75 6.75 0 1 0 -13.5 0M925.27 605.37a6.75 6.75 0 1 0 13.5 0a6.75 6.75 0 1 0 -13.5 0M926.12 605.36a6.75 6.75 0 1 0 13.5 0a6.75 6.75 0 1 0 -13.5 0M927.02 605.35a6.75 6.75 0 1 0 13.5 0a6.75 6.75 0 1 0 -13.5 0M927.98 605.34a6.75 6.75 0 1 0 13.5 0a6.75 6.75 0 1 0 -13.5 0M929 605.33a6.75 6.75 0 1 0 13.5 0a6.75 6.75 0 1 0 -13.5 0M930.1 605.31a6.75 6.75 0 1 0 13.5 0a6.75 6.75 0 1 0 -13.5 0M931.28 605.29a6.75 6.75 0 1 0 13.5 0a6.75 6.75 0 1 0 -13.5 0M932.54 605.27a6.75 6.75 0 1 0 13.5 0a6.75 6.75 0 1 0 -13.5 0M933.91 605.25a6.75 6.75 0 1 0 13.5 0a6.75 6.75 0 1 0 -13.5 0M935.38 605.22a6.75 6.75 0 1 0 13.5 0a6.75 6.75 0 1 0 -13.5 0M936.98 605.19a6.75 6.75 0 1 0 13.5 0a6.75 6.75 0 1 0 -13.5 0M938.73 605.14a6.75 6.75 0 1 0 13.5 0a6.75 6.75 0 1 0 -13.5 0M940.63 605.08a6.75 6.75 0 1 0 13.5 0a6.75 6.75 0 1 0 -13.5 0M942.72 605.01a6.75 6.75 0 1 0 13.5 0a6.75 6.75 0 1 0 -13.5 0M945.03 604.92a6.75 6.75 0 1 0 13.5 0a6.75 6.75 0 1 0 -13.5 0M947.59 604.81a6.75 6.75 0 1 0 13.5 0a6.75 6.75 0 1 0 -13.5 0M950.43 604.69a6.75 6.75 0 1 0 13.5 0a6.75 6.75 0 1 0 -13.5 0M953.63 604.59a6.75 6.75 0 1 0 13.5 0a6.75 6.75 0 1 0 -13.5 0M957.23 604.44a6.75 6.75 0 1 0 13.5 0a6.75 6.75 0 1 0 -13.5 0M961.33 604.23a6.75 6.75 0 1 0 13.5 0a6.75 6.75 0 1 0 -13.5 0M966.04 603.93a6.75 6.75 0 1 0 13.5 0a6.75 6.75 0 1 0 -13.5 0M971.51 603.54a6.75 6.75 0 1 0 13.5 0a6.75 6.75 0 1 0 -13.5 0M977.92 602.85a6.75 6.75 0 1 0 13.5 0a6.75 6.75 0 1 0 -13.5 0M985.56 601.66a6.75 6.75 0 1 0 13.5 0a6.75 6.75 0 1 0 -13.5 0M994.8 599.61a6.75 6.75 0 1 0 13.5 0a6.75 6.75 0 1 0 -13.5 0M1006.22 596.21a6.75 6.75 0 1 0 13.5 0a6.75 6.75 0 1 0 -13.5 0M1020.68 587.02a6.75 6.75 0 1 0 13.5 0a6.75 6.75 0 1 0 -13.5 0M1039.59 554.38a6.75 6.75 0 1 0 13.5 0a6.75 6.75 0 1 0 -13.5 0M1065.38 545.61a6.75 6.75 0 1 0 13.5 0a6.75 6.75 0 1 0 -13.5 0M1102.63 499.83a6.75 6.75 0 1 0 13.5 0a6.75 6.75 0 1 0 -13.5 0M1161.17 431.62a6.75 6.75 0 1 0 13.5 0a6.75 6.75 0 1 0 -13.5 0M1266.54 159.81a6.75 6.75 0 1 0 13.5 0a6.75 6.75 0 1 0 -13.5 0" fill="none" stroke="#718DFF" stroke-width="4.5"/>
<path d="M920 605.48 L920.26 605.47 L920.53 605.47 L920.82 605.47 L921.11 605.47 L921.42 605.46 L921.73 605.46 L922.06 605.46 L922.4 605.46 L922.76 605.45 L923.13 605.45 L923.51 605.45 L923.91 605.44 L924.33 605.44 L924.76 605.43 L925.22 605.43 L925.69 605.42 L926.19 605.42 L926.72 605.41 L927.26 605.41 L927.84 605.4 L928.45 605.4 L929.09 605.39 L929.76 605.38 L930.47 605.37 L931.22 605.37 L932.02 605.36 L932.87 605.35 L933.77 605.34 L934.73 605.33 L935.75 605.31 L936.85 605.29 L938.03 605.27 L939.29 605.25 L940.66 605.22 L942.13 605.19 L943.73 605.15 L945.48 605.11 L947.38 605.05 L949.47 604.99 L951.78 604.91 L954.34 604.79 L957.18 604.64 L960.38 604.49 L963.98 604.28 L968.08 603.99 L972.79 603.62 L978.26 603.21 L984.67 602.7 L992.31 601.11 L1001.55 597.96 L1012.97 594.78 L1027.43 583.38 L1046.34 545.83 L1072.13 530.77 L1109.38 485.48 L1167.92 415.2 L1273.29 146.93 L1484.91 15.7" fill="none" stroke="#8D72FF" stroke-width="4.7" stroke-linejoin="round" stroke-linecap="butt"/><path d="M913.25 605.48a6.75 6.75 0 1 0 13.5 0a6.75 6.75 0 1 0 -13.5 0M913.51 605.47a6.75 6.75 0 1 0 13.5 0a6.75 6.75 0 1 0 -13.5 0M913.78 605.47a6.75 6.75 0 1 0 13.5 0a6.75 6.75 0 1 0 -13.5 0M914.07 605.47a6.75 6.75 0 1 0 13.5 0a6.75 6.75 0 1 0 -13.5 0M914.36 605.47a6.75 6.75 0 1 0 13.5 0a6.75 6.75 0 1 0 -13.5 0M914.67 605.46a6.75 6.75 0 1 0 13.5 0a6.75 6.75 0 1 0 -13.5 0M914.98 605.46a6.75 6.75 0 1 0 13.5 0a6.75 6.75 0 1 0 -13.5 0M915.31 605.46a6.75 6.75 0 1 0 13.5 0a6.75 6.75 0 1 0 -13.5 0M915.65 605.46a6.75 6.75 0 1 0 13.5 0a6.75 6.75 0 1 0 -13.5 0M916.01 605.45a6.75 6.75 0 1 0 13.5 0a6.75 6.75 0 1 0 -13.5 0M916.38 605.45a6.75 6.75 0 1 0 13.5 0a6.75 6.75 0 1 0 -13.5 0M916.76 605.45a6.75 6.75 0 1 0 13.5 0a6.75 6.75 0 1 0 -13.5 0M917.16 605.44a6.75 6.75 0 1 0 13.5 0a6.75 6.75 0 1 0 -13.5 0M917.58 605.44a6.75 6.75 0 1 0 13.5 0a6.75 6.75 0 1 0 -13.5 0M918.01 605.43a6.75 6.75 0 1 0 13.5 0a6.75 6.75 0 1 0 -13.5 0M918.47 605.43a6.75 6.75 0 1 0 13.5 0a6.75 6.75 0 1 0 -13.5 0M918.94 605.42a6.75 6.75 0 1 0 13.5 0a6.75 6.75 0 1 0 -13.5 0M919.44 605.42a6.75 6.75 0 1 0 13.5 0a6.75 6.75 0 1 0 -13.5 0M919.97 605.41a6.75 6.75 0 1 0 13.5 0a6.75 6.75 0 1 0 -13.5 0M920.51 605.41a6.75 6.75 0 1 0 13.5 0a6.75 6.75 0 1 0 -13.5 0M921.09 605.4a6.75 6.75 0 1 0 13.5 0a6.75 6.75 0 1 0 -13.5 0M921.7 605.4a6.75 6.75 0 1 0 13.5 0a6.75 6.75 0 1 0 -13.5 0M922.34 605.39a6.75 6.75 0 1 0 13.5 0a6.75 6.75 0 1 0 -13.5 0M923.01 605.38a6.75 6.75 0 1 0 13.5 0a6.75 6.75 0 1 0 -13.5 0M923.72 605.37a6.75 6.75 0 1 0 13.5 0a6.75 6.75 0 1 0 -13.5 0M924.47 605.37a6.75 6.75 0 1 0 13.5 0a6.75 6.75 0 1 0 -13.5 0M925.27 605.36a6.75 6.75 0 1 0 13.5 0a6.75 6.75 0 1 0 -13.5 0M926.12 605.35a6.75 6.75 0 1 0 13.5 0a6.75 6.75 0 1 0 -13.5 0M927.02 605.34a6.75 6.75 0 1 0 13.5 0a6.75 6.75 0 1 0 -13.5 0M927.98 605.33a6.75 6.75 0 1 0 13.5 0a6.75 6.75 0 1 0 -13.5 0M929 605.31a6.75 6.75 0 1 0 13.5 0a6.75 6.75 0 1 0 -13.5 0M930.1 605.29a6.75 6.75 0 1 0 13.5 0a6.75 6.75 0 1 0 -13.5 0M931.28 605.27a6.75 6.75 0 1 0 13.5 0a6.75 6.75 0 1 0 -13.5 0M932.54 605.25a6.75 6.75 0 1 0 13.5 0a6.75 6.75 0 1 0 -13.5 0M933.91 605.22a6.75 6.75 0 1 0 13.5 0a6.75 6.75 0 1 0 -13.5 0M935.38 605.19a6.75 6.75 0 1 0 13.5 0a6.75 6.75 0 1 0 -13.5 0M936.98 605.15a6.75 6.75 0 1 0 13.5 0a6.75 6.75 0 1 0 -13.5 0M938.73 605.11a6.75 6.75 0 1 0 13.5 0a6.75 6.75 0 1 0 -13.5 0M940.63 605.05a6.75 6.75 0 1 0 13.5 0a6.75 6.75 0 1 0 -13.5 0M942.72 604.99a6.75 6.75 0 1 0 13.5 0a6.75 6.75 0 1 0 -13.5 0M945.03 604.91a6.75 6.75 0 1 0 13.5 0a6.75 6.75 0 1 0 -13.5 0M947.59 604.79a6.75 6.75 0 1 0 13.5 0a6.75 6.75 0 1 0 -13.5 0M950.43 604.64a6.75 6.75 0 1 0 13.5 0a6.75 6.75 0 1 0 -13.5 0M953.63 604.49a6.75 6.75 0 1 0 13.5 0a6.75 6.75 0 1 0 -13.5 0M957.23 604.28a6.75 6.75 0 1 0 13.5 0a6.75 6.75 0 1 0 -13.5 0M961.33 603.99a6.75 6.75 0 1 0 13.5 0a6.75 6.75 0 1 0 -13.5 0M966.04 603.62a6.75 6.75 0 1 0 13.5 0a6.75 6.75 0 1 0 -13.5 0M971.51 603.21a6.75 6.75 0 1 0 13.5 0a6.75 6.75 0 1 0 -13.5 0M977.92 602.7a6.75 6.75 0 1 0 13.5 0a6.75 6.75 0 1 0 -13.5 0M985.56 601.11a6.75 6.75 0 1 0 13.5 0a6.75 6.75 0 1 0 -13.5 0M994.8 597.96a6.75 6.75 0 1 0 13.5 0a6.75 6.75 0 1 0 -13.5 0M1006.22 594.78a6.75 6.75 0 1 0 13.5 0a6.75 6.75 0 1 0 -13.5 0M1020.68 583.38a6.75 6.75 0 1 0 13.5 0a6.75 6.75 0 1 0 -13.5 0M1039.59 545.83a6.75 6.75 0 1 0 13.5 0a6.75 6.75 0 1 0 -13.5 0M1065.38 530.77a6.75 6.75 0 1 0 13.5 0a6.75 6.75 0 1 0 -13.5 0M1102.63 485.48a6.75 6.75 0 1 0 13.5 0a6.75 6.75 0 1 0 -13.5 0M1161.17 415.2a6.75 6.75 0 1 0 13.5 0a6.75 6.75 0 1 0 -13.5 0M1266.54 146.93a6.75 6.75 0 1 0 13.5 0a6.75 6.75 0 1 0 -13.5 0" fill="none" stroke="#8D72FF" stroke-width="4.5"/>
<line x1="1087.16" y1="17" x2="1087.16" y2="605.5" stroke="#000" stroke-width="4.7" stroke-dasharray="17.7 4.8 8.4 4.8"/>
<line x1="1162.84" y1="17" x2="1162.84" y2="605.5" stroke="#000" stroke-width="4.7" stroke-dasharray="17.7 18"/>
<text x="889" y="621.1" text-anchor="end" class="tk">0</text>
<path d="M875.87 522.8L880.29 522.8L880.29 491.73L876.93 491.73C876.27 495.04 874.24 497.03 868.76 497.25L868.76 500.52L875.87 500.52Z" fill="#000"/>
<text x="889" y="424.5" text-anchor="end" class="tk">2</text>
<text x="889" y="326.2" text-anchor="end" class="tk">3</text>
<text x="889" y="227.9" text-anchor="end" class="tk">4</text>
<text x="889" y="129.6" text-anchor="end" class="tk">5</text>
<text x="889" y="31.3" text-anchor="end" class="tk">6</text>
<text x="903.7" y="661" text-anchor="middle" class="tk">0</text>
<text x="1061.03" y="661" text-anchor="middle" class="tk">200</text>
<text x="1218.37" y="661" text-anchor="middle" class="tk">400</text>
<text x="1375.7" y="661" text-anchor="middle" class="tk">600</text>
<text x="1198.5" y="717.3" text-anchor="middle" class="lb">wavelength (nm)</text>
<text transform="translate(847.2 310.6) rotate(-90) scale(1.011 1.05)" text-anchor="middle" class="lb">PSD (nm<tspan dy="-23.2" font-size="38.5">2</tspan><tspan dy="23.2">)</tspan></text>
<text transform="translate(921.7 81) scale(1 1.0)" class="lt">b</text>
<rect x="117.5" y="835.35" width="589" height="588.65" fill="none" stroke="#262626" stroke-width="1"/>
<path d="M274.57 1424v-5.9 M274.57 835.35v5.9 M431.63 1424v-5.9 M431.63 835.35v5.9 M588.7 1424v-5.9 M588.7 835.35v5.9 M117.5 1325.89h5.9 M706.5 1325.89h-5.9 M117.5 1227.78h5.9 M706.5 1227.78h-5.9 M117.5 1129.67h5.9 M706.5 1129.67h-5.9 M117.5 1031.57h5.9 M706.5 1031.57h-5.9 M117.5 933.46h5.9 M706.5 933.46h-5.9 " stroke="#262626" stroke-width="1" fill="none"/>
<path d="M132.97 1374.95 L133.23 1374.95 L133.51 1374.95 L133.79 1374.95 L134.08 1374.95 L134.39 1374.95 L134.7 1374.95 L135.03 1374.95 L135.37 1374.95 L135.73 1374.95 L136.09 1374.95 L136.48 1374.95 L136.88 1374.95 L137.29 1374.95 L137.73 1374.95 L138.18 1374.95 L138.66 1374.95 L139.16 1374.95 L139.68 1374.95 L140.23 1374.95 L140.8 1374.95 L141.41 1374.95 L142.04 1374.95 L142.72 1374.95 L143.43 1374.95 L144.18 1374.95 L144.97 1374.95 L145.82 1374.95 L146.72 1374.95 L147.68 1374.95 L148.7 1374.95 L149.8 1374.95 L150.97 1374.95 L152.23 1374.95 L153.59 1374.95 L155.07 1374.95 L156.67 1374.95 L158.41 1374.95 L160.31 1374.95 L162.4 1374.95 L164.7 1374.95 L167.25 1374.95 L170.09 1374.95 L173.28 1374.95 L176.88 1374.95 L180.98 1374.95 L185.68 1374.95 L191.13 1374.95 L197.54 1374.95 L205.16 1374.95 L214.39 1374.95 L225.78 1374.95 L240.22 1374.95 L259.1 1374.95 L284.85 1374.95 L322.04 1374.95 L380.47 1374.95 L485.66 1374.95 L706.5 1374.95" fill="none" stroke="#000000" stroke-width="4.7" stroke-linejoin="round" stroke-linecap="butt"/><path d="M126.22 1374.95a6.75 6.75 0 1 0 13.5 0a6.75 6.75 0 1 0 -13.5 0M126.48 1374.95a6.75 6.75 0 1 0 13.5 0a6.75 6.75 0 1 0 -13.5 0M126.76 1374.95a6.75 6.75 0 1 0 13.5 0a6.75 6.75 0 1 0 -13.5 0M127.04 1374.95a6.75 6.75 0 1 0 13.5 0a6.75 6.75 0 1 0 -13.5 0M127.33 1374.95a6.75 6.75 0 1 0 13.5 0a6.75 6.75 0 1 0 -13.5 0M127.64 1374.95a6.75 6.75 0 1 0 13.5 0a6.75 6.75 0 1 0 -13.5 0M127.95 1374.95a6.75 6.75 0 1 0 13.5 0a6.75 6.75 0 1 0 -13.5 0M128.28 1374.95a6.75 6.75 0 1 0 13.5 0a6.75 6.75 0 1 0 -13.5 0M128.62 1374.95a6.75 6.75 0 1 0 13.5 0a6.75 6.75 0 1 0 -13.5 0M128.98 1374.95a6.75 6.75 0 1 0 13.5 0a6.75 6.75 0 1 0 -13.5 0M129.34 1374.95a6.75 6.75 0 1 0 13.5 0a6.75 6.75 0 1 0 -13.5 0M129.73 1374.95a6.75 6.75 0 1 0 13.5 0a6.75 6.75 0 1 0 -13.5 0M130.13 1374.95a6.75 6.75 0 1 0 13.5 0a6.75 6.75 0 1 0 -13.5 0M130.54 1374.95a6.75 6.75 0 1 0 13.5 0a6.75 6.75 0 1 0 -13.5 0M130.98 1374.95a6.75 6.75 0 1 0 13.5 0a6.75 6.75 0 1 0 -13.5 0M131.43 1374.95a6.75 6.75 0 1 0 13.5 0a6.75 6.75 0 1 0 -13.5 0M131.91 1374.95a6.75 6.75 0 1 0 13.5 0a6.75 6.75 0 1 0 -13.5 0M132.41 1374.95a6.75 6.75 0 1 0 13.5 0a6.75 6.75 0 1 0 -13.5 0M132.93 1374.95a6.75 6.75 0 1 0 13.5 0a6.75 6.75 0 1 0 -13.5 0M133.48 1374.95a6.75 6.75 0 1 0 13.5 0a6.75 6.75 0 1 0 -13.5 0M134.05 1374.95a6.75 6.75 0 1 0 13.5 0a6.75 6.75 0 1 0 -13.5 0M134.66 1374.95a6.75 6.75 0 1 0 13.5 0a6.75 6.75 0 1 0 -13.5 0M135.29 1374.95a6.75 6.75 0 1 0 13.5 0a6.75 6.75 0 1 0 -13.5 0M135.97 1374.95a6.75 6.75 0 1 0 13.5 0a6.75 6.75 0 1 0 -13.5 0M136.68 1374.95a6.75 6.75 0 1 0 13.5 0a6.75 6.75 0 1 0 -13.5 0M137.43 1374.95a6.75 6.75 0 1 0 13.5 0a6.75 6.75 0 1 0 -13.5 0M138.22 1374.95a6.75 6.75 0 1 0 13.5 0a6.75 6.75 0 1 0 -13.5 0M139.07 1374.95a6.75 6.75 0 1 0 13.5 0a6.75 6.75 0 1 0 -13.5 0M139.97 1374.95a6.75 6.75 0 1 0 13.5 0a6.75 6.75 0 1 0 -13.5 0M140.93 1374.95a6.75 6.75 0 1 0 13.5 0a6.75 6.75 0 1 0 -13.5 0M141.95 1374.95a6.75 6.75 0 1 0 13.5 0a6.75 6.75 0 1 0 -13.5 0M143.05 1374.95a6.75 6.75 0 1 0 13.5 0a6.75 6.75 0 1 0 -13.5 0M144.22 1374.95a6.75 6.75 0 1 0 13.5 0a6.75 6.75 0 1 0 -13.5 0M145.48 1374.95a6.75 6.75 0 1 0 13.5 0a6.75 6.75 0 1 0 -13.5 0M146.84 1374.95a6.75 6.75 0 1 0 13.5 0a6.75 6.75 0 1 0 -13.5 0M148.32 1374.95a6.75 6.75 0 1 0 13.5 0a6.75 6.75 0 1 0 -13.5 0M149.92 1374.95a6.75 6.75 0 1 0 13.5 0a6.75 6.75 0 1 0 -13.5 0M151.66 1374.95a6.75 6.75 0 1 0 13.5 0a6.75 6.75 0 1 0 -13.5 0M153.56 1374.95a6.75 6.75 0 1 0 13.5 0a6.75 6.75 0 1 0 -13.5 0M155.65 1374.95a6.75 6.75 0 1 0 13.5 0a6.75 6.75 0 1 0 -13.5 0M157.95 1374.95a6.75 6.75 0 1 0 13.5 0a6.75 6.75 0 1 0 -13.5 0M160.5 1374.95a6.75 6.75 0 1 0 13.5 0a6.75 6.75 0 1 0 -13.5 0M163.34 1374.95a6.75 6.75 0 1 0 13.5 0a6.75 6.75 0 1 0 -13.5 0M166.53 1374.95a6.75 6.75 0 1 0 13.5 0a6.75 6.75 0 1 0 -13.5 0M170.13 1374.95a6.75 6.75 0 1 0 13.5 0a6.75 6.75 0 1 0 -13.5 0M174.23 1374.95a6.75 6.75 0 1 0 13.5 0a6.75 6.75 0 1 0 -13.5 0M178.93 1374.95a6.75 6.75 0 1 0 13.5 0a6.75 6.75 0 1 0 -13.5 0M184.38 1374.95a6.75 6.75 0 1 0 13.5 0a6.75 6.75 0 1 0 -13.5 0M190.79 1374.95a6.75 6.75 0 1 0 13.5 0a6.75 6.75 0 1 0 -13.5 0M198.41 1374.95a6.75 6.75 0 1 0 13.5 0a6.75 6.75 0 1 0 -13.5 0M207.64 1374.95a6.75 6.75 0 1 0 13.5 0a6.75 6.75 0 1 0 -13.5 0M219.03 1374.95a6.75 6.75 0 1 0 13.5 0a6.75 6.75 0 1 0 -13.5 0M233.47 1374.95a6.75 6.75 0 1 0 13.5 0a6.75 6.75 0 1 0 -13.5 0M252.35 1374.95a6.75 6.75 0 1 0 13.5 0a6.75 6.75 0 1 0 -13.5 0M278.1 1374.95a6.75 6.75 0 1 0 13.5 0a6.75 6.75 0 1 0 -13.5 0M315.29 1374.95a6.75 6.75 0 1 0 13.5 0a6.75 6.75 0 1 0 -13.5 0M373.72 1374.95a6.75 6.75 0 1 0 13.5 0a6.75 6.75 0 1 0 -13.5 0M478.91 1374.95a6.75 6.75 0 1 0 13.5 0a6.75 6.75 0 1 0 -13.5 0" fill="none" stroke="#000000" stroke-width="4.5"/>
<path d="M132.97 1423.75 L133.23 1423.75 L133.51 1423.75 L133.79 1423.75 L134.08 1423.75 L134.39 1423.75 L134.7 1423.75 L135.03 1423.75 L135.37 1423.75 L135.73 1423.75 L136.09 1423.75 L136.48 1423.75 L136.88 1423.75 L137.29 1423.75 L137.73 1423.75 L138.18 1423.75 L138.66 1423.75 L139.16 1423.74 L139.68 1423.74 L140.23 1423.74 L140.8 1423.74 L141.41 1423.74 L142.04 1423.74 L142.72 1423.74 L143.43 1423.74 L144.18 1423.74 L144.97 1423.74 L145.82 1423.73 L146.72 1423.73 L147.68 1423.73 L148.7 1423.73 L149.8 1423.73 L150.97 1423.73 L152.23 1423.72 L153.59 1423.72 L155.07 1423.72 L156.67 1423.72 L158.41 1423.71 L160.31 1423.71 L162.4 1423.71 L164.7 1423.7 L167.25 1423.7 L170.09 1423.69 L173.28 1423.69 L176.88 1423.68 L180.98 1423.68 L185.68 1423.67 L191.13 1423.66 L197.54 1423.65 L205.16 1423.64 L214.39 1423.62 L225.78 1423.6 L240.22 1423.58 L259.1 1423.55 L284.85 1423.51 L322.04 1423.32 L380.47 1423.02 L485.66 1423.51 L706.5 1419.54" fill="none" stroke="#1FE0FF" stroke-width="4.7" stroke-linejoin="round" stroke-linecap="butt"/><path d="M126.22 1423.75a6.75 6.75 0 1 0 13.5 0a6.75 6.75 0 1 0 -13.5 0M126.48 1423.75a6.75 6.75 0 1 0 13.5 0a6.75 6.75 0 1 0 -13.5 0M126.76 1423.75a6.75 6.75 0 1 0 13.5 0a6.75 6.75 0 1 0 -13.5 0M127.04 1423.75a6.75 6.75 0 1 0 13.5 0a6.75 6.75 0 1 0 -13.5 0M127.33 1423.75a6.75 6.75 0 1 0 13.5 0a6.75 6.75 0 1 0 -13.5 0M127.64 1423.75a6.75 6.75 0 1 0 13.5 0a6.75 6.75 0 1 0 -13.5 0M127.95 1423.75a6.75 6.75 0 1 0 13.5 0a6.75 6.75 0 1 0 -13.5 0M128.28 1423.75a6.75 6.75 0 1 0 13.5 0a6.75 6.75 0 1 0 -13.5 0M128.62 1423.75a6.75 6.75 0 1 0 13.5 0a6.75 6.75 0 1 0 -13.5 0M128.98 1423.75a6.75 6.75 0 1 0 13.5 0a6.75 6.75 0 1 0 -13.5 0M129.34 1423.75a6.75 6.75 0 1 0 13.5 0a6.75 6.75 0 1 0 -13.5 0M129.73 1423.75a6.75 6.75 0 1 0 13.5 0a6.75 6.75 0 1 0 -13.5 0M130.13 1423.75a6.75 6.75 0 1 0 13.5 0a6.75 6.75 0 1 0 -13.5 0M130.54 1423.75a6.75 6.75 0 1 0 13.5 0a6.75 6.75 0 1 0 -13.5 0M130.98 1423.75a6.75 6.75 0 1 0 13.5 0a6.75 6.75 0 1 0 -13.5 0M131.43 1423.75a6.75 6.75 0 1 0 13.5 0a6.75 6.75 0 1 0 -13.5 0M131.91 1423.75a6.75 6.75 0 1 0 13.5 0a6.75 6.75 0 1 0 -13.5 0M132.41 1423.74a6.75 6.75 0 1 0 13.5 0a6.75 6.75 0 1 0 -13.5 0M132.93 1423.74a6.75 6.75 0 1 0 13.5 0a6.75 6.75 0 1 0 -13.5 0M133.48 1423.74a6.75 6.75 0 1 0 13.5 0a6.75 6.75 0 1 0 -13.5 0M134.05 1423.74a6.75 6.75 0 1 0 13.5 0a6.75 6.75 0 1 0 -13.5 0M134.66 1423.74a6.75 6.75 0 1 0 13.5 0a6.75 6.75 0 1 0 -13.5 0M135.29 1423.74a6.75 6.75 0 1 0 13.5 0a6.75 6.75 0 1 0 -13.5 0M135.97 1423.74a6.75 6.75 0 1 0 13.5 0a6.75 6.75 0 1 0 -13.5 0M136.68 1423.74a6.75 6.75 0 1 0 13.5 0a6.75 6.75 0 1 0 -13.5 0M137.43 1423.74a6.75 6.75 0 1 0 13.5 0a6.75 6.75 0 1 0 -13.5 0M138.22 1423.74a6.75 6.75 0 1 0 13.5 0a6.75 6.75 0 1 0 -13.5 0M139.07 1423.73a6.75 6.75 0 1 0 13.5 0a6.75 6.75 0 1 0 -13.5 0M139.97 1423.73a6.75 6.75 0 1 0 13.5 0a6.75 6.75 0 1 0 -13.5 0M140.93 1423.73a6.75 6.75 0 1 0 13.5 0a6.75 6.75 0 1 0 -13.5 0M141.95 1423.73a6.75 6.75 0 1 0 13.5 0a6.75 6.75 0 1 0 -13.5 0M143.05 1423.73a6.75 6.75 0 1 0 13.5 0a6.75 6.75 0 1 0 -13.5 0M144.22 1423.73a6.75 6.75 0 1 0 13.5 0a6.75 6.75 0 1 0 -13.5 0M145.48 1423.72a6.75 6.75 0 1 0 13.5 0a6.75 6.75 0 1 0 -13.5 0M146.84 1423.72a6.75 6.75 0 1 0 13.5 0a6.75 6.75 0 1 0 -13.5 0M148.32 1423.72a6.75 6.75 0 1 0 13.5 0a6.75 6.75 0 1 0 -13.5 0M149.92 1423.72a6.75 6.75 0 1 0 13.5 0a6.75 6.75 0 1 0 -13.5 0M151.66 1423.71a6.75 6.75 0 1 0 13.5 0a6.75 6.75 0 1 0 -13.5 0M153.56 1423.71a6.75 6.75 0 1 0 13.5 0a6.75 6.75 0 1 0 -13.5 0M155.65 1423.71a6.75 6.75 0 1 0 13.5 0a6.75 6.75 0 1 0 -13.5 0M157.95 1423.7a6.75 6.75 0 1 0 13.5 0a6.75 6.75 0 1 0 -13.5 0M160.5 1423.7a6.75 6.75 0 1 0 13.5 0a6.75 6.75 0 1 0 -13.5 0M163.34 1423.69a6.75 6.75 0 1 0 13.5 0a6.75 6.75 0 1 0 -13.5 0M166.53 1423.69a6.75 6.75 0 1 0 13.5 0a6.75 6.75 0 1 0 -13.5 0M170.13 1423.68a6.75 6.75 0 1 0 13.5 0a6.75 6.75 0 1 0 -13.5 0M174.23 1423.68a6.75 6.75 0 1 0 13.5 0a6.75 6.75 0 1 0 -13.5 0M178.93 1423.67a6.75 6.75 0 1 0 13.5 0a6.75 6.75 0 1 0 -13.5 0M184.38 1423.66a6.75 6.75 0 1 0 13.5 0a6.75 6.75 0 1 0 -13.5 0M190.79 1423.65a6.75 6.75 0 1 0 13.5 0a6.75 6.75 0 1 0 -13.5 0M198.41 1423.64a6.75 6.75 0 1 0 13.5 0a6.75 6.75 0 1 0 -13.5 0M207.64 1423.62a6.75 6.75 0 1 0 13.5 0a6.75 6.75 0 1 0 -13.5 0M219.03 1423.6a6.75 6.75 0 1 0 13.5 0a6.75 6.75 0 1 0 -13.5 0M233.47 1423.58a6.75 6.75 0 1 0 13.5 0a6.75 6.75 0 1 0 -13.5 0M252.35 1423.55a6.75 6.75 0 1 0 13.5 0a6.75 6.75 0 1 0 -13.5 0M278.1 1423.51a6.75 6.75 0 1 0 13.5 0a6.75 6.75 0 1 0 -13.5 0M315.29 1423.32a6.75 6.75 0 1 0 13.5 0a6.75 6.75 0 1 0 -13.5 0M373.72 1423.02a6.75 6.75 0 1 0 13.5 0a6.75 6.75 0 1 0 -13.5 0M478.91 1423.51a6.75 6.75 0 1 0 13.5 0a6.75 6.75 0 1 0 -13.5 0" fill="none" stroke="#1FE0FF" stroke-width="4.5"/>
<path d="M132.97 1423.75 L133.23 1423.75 L133.51 1423.75 L133.79 1423.75 L134.08 1423.75 L134.39 1423.75 L134.7 1423.75 L135.03 1423.75 L135.37 1423.75 L135.73 1423.74 L136.09 1423.74 L136.48 1423.74 L136.88 1423.74 L137.29 1423.74 L137.73 1423.74 L138.18 1423.73 L138.66 1423.73 L139.16 1423.73 L139.68 1423.73 L140.23 1423.73 L140.8 1423.72 L141.41 1423.72 L142.04 1423.72 L142.72 1423.72 L143.43 1423.71 L144.18 1423.71 L144.97 1423.71 L145.82 1423.7 L146.72 1423.7 L147.68 1423.7 L148.7 1423.69 L149.8 1423.69 L150.97 1423.68 L152.23 1423.68 L153.59 1423.67 L155.07 1423.67 L156.67 1423.66 L158.41 1423.66 L160.31 1423.65 L162.4 1423.64 L164.7 1423.63 L167.25 1423.62 L170.09 1423.61 L173.28 1423.6 L176.88 1423.58 L180.98 1423.57 L185.68 1423.55 L191.13 1423.53 L197.54 1423.5 L205.16 1423.46 L214.39 1423.41 L225.78 1423.35 L240.22 1423.27 L259.1 1423.16 L284.85 1423.02 L322.04 1421.06 L380.47 1420.08 L485.66 1422.53 L706.5 1422.53" fill="none" stroke="#3AC5FF" stroke-width="4.7" stroke-linejoin="round" stroke-linecap="butt"/><path d="M126.22 1423.75a6.75 6.75 0 1 0 13.5 0a6.75 6.75 0 1 0 -13.5 0M126.48 1423.75a6.75 6.75 0 1 0 13.5 0a6.75 6.75 0 1 0 -13.5 0M126.76 1423.75a6.75 6.75 0 1 0 13.5 0a6.75 6.75 0 1 0 -13.5 0M127.04 1423.75a6.75 6.75 0 1 0 13.5 0a6.75 6.75 0 1 0 -13.5 0M127.33 1423.75a6.75 6.75 0 1 0 13.5 0a6.75 6.75 0 1 0 -13.5 0M127.64 1423.75a6.75 6.75 0 1 0 13.5 0a6.75 6.75 0 1 0 -13.5 0M127.95 1423.75a6.75 6.75 0 1 0 13.5 0a6.75 6.75 0 1 0 -13.5 0M128.28 1423.75a6.75 6.75 0 1 0 13.5 0a6.75 6.75 0 1 0 -13.5 0M128.62 1423.75a6.75 6.75 0 1 0 13.5 0a6.75 6.75 0 1 0 -13.5 0M128.98 1423.74a6.75 6.75 0 1 0 13.5 0a6.75 6.75 0 1 0 -13.5 0M129.34 1423.74a6.75 6.75 0 1 0 13.5 0a6.75 6.75 0 1 0 -13.5 0M129.73 1423.74a6.75 6.75 0 1 0 13.5 0a6.75 6.75 0 1 0 -13.5 0M130.13 1423.74a6.75 6.75 0 1 0 13.5 0a6.75 6.75 0 1 0 -13.5 0M130.54 1423.74a6.75 6.75 0 1 0 13.5 0a6.75 6.75 0 1 0 -13.5 0M130.98 1423.74a6.75 6.75 0 1 0 13.5 0a6.75 6.75 0 1 0 -13.5 0M131.43 1423.73a6.75 6.75 0 1 0 13.5 0a6.75 6.75 0 1 0 -13.5 0M131.91 1423.73a6.75 6.75 0 1 0 13.5 0a6.75 6.75 0 1 0 -13.5 0M132.41 1423.73a6.75 6.75 0 1 0 13.5 0a6.75 6.75 0 1 0 -13.5 0M132.93 1423.73a6.75 6.75 0 1 0 13.5 0a6.75 6.75 0 1 0 -13.5 0M133.48 1423.73a6.75 6.75 0 1 0 13.5 0a6.75 6.75 0 1 0 -13.5 0M134.05 1423.72a6.75 6.75 0 1 0 13.5 0a6.75 6.75 0 1 0 -13.5 0M134.66 1423.72a6.75 6.75 0 1 0 13.5 0a6.75 6.75 0 1 0 -13.5 0M135.29 1423.72a6.75 6.75 0 1 0 13.5 0a6.75 6.75 0 1 0 -13.5 0M135.97 1423.72a6.75 6.75 0 1 0 13.5 0a6.75 6.75 0 1 0 -13.5 0M136.68 1423.71a6.75 6.75 0 1 0 13.5 0a6.75 6.75 0 1 0 -13.5 0M137.43 1423.71a6.75 6.75 0 1 0 13.5 0a6.75 6.75 0 1 0 -13.5 0M138.22 1423.71a6.75 6.75 0 1 0 13.5 0a6.75 6.75 0 1 0 -13.5 0M139.07 1423.7a6.75 6.75 0 1 0 13.5 0a6.75 6.75 0 1 0 -13.5 0M139.97 1423.7a6.75 6.75 0 1 0 13.5 0a6.75 6.75 0 1 0 -13.5 0M140.93 1423.7a6.75 6.75 0 1 0 13.5 0a6.75 6.75 0 1 0 -13.5 0M141.95 1423.69a6.75 6.75 0 1 0 13.5 0a6.75 6.75 0 1 0 -13.5 0M143.05 1423.69a6.75 6.75 0 1 0 13.5 0a6.75 6.75 0 1 0 -13.5 0M144.22 1423.68a6.75 6.75 0 1 0 13.5 0a6.75 6.75 0 1 0 -13.5 0M145.48 1423.68a6.75 6.75 0 1 0 13.5 0a6.75 6.75 0 1 0 -13.5 0M146.84 1423.67a6.75 6.75 0 1 0 13.5 0a6.75 6.75 0 1 0 -13.5 0M148.32 1423.67a6.75 6.75 0 1 0 13.5 0a6.75 6.75 0 1 0 -13.5 0M149.92 1423.66a6.75 6.75 0 1 0 13.5 0a6.75 6.75 0 1 0 -13.5 0M151.66 1423.66a6.75 6.75 0 1 0 13.5 0a6.75 6.75 0 1 0 -13.5 0M153.56 1423.65a6.75 6.75 0 1 0 13.5 0a6.75 6.75 0 1 0 -13.5 0M155.65 1423.64a6.75 6.75 0 1 0 13.5 0a6.75 6.75 0 1 0 -13.5 0M157.95 1423.63a6.75 6.75 0 1 0 13.5 0a6.75 6.75 0 1 0 -13.5 0M160.5 1423.62a6.75 6.75 0 1 0 13.5 0a6.75 6.75 0 1 0 -13.5 0M163.34 1423.61a6.75 6.75 0 1 0 13.5 0a6.75 6.75 0 1 0 -13.5 0M166.53 1423.6a6.75 6.75 0 1 0 13.5 0a6.75 6.75 0 1 0 -13.5 0M170.13 1423.58a6.75 6.75 0 1 0 13.5 0a6.75 6.75 0 1 0 -13.5 0M174.23 1423.57a6.75 6.75 0 1 0 13.5 0a6.75 6.75 0 1 0 -13.5 0M178.93 1423.55a6.75 6.75 0 1 0 13.5 0a6.75 6.75 0 1 0 -13.5 0M184.38 1423.53a6.75 6.75 0 1 0 13.5 0a6.75 6.75 0 1 0 -13.5 0M190.79 1423.5a6.75 6.75 0 1 0 13.5 0a6.75 6.75 0 1 0 -13.5 0M198.41 1423.46a6.75 6.75 0 1 0 13.5 0a6.75 6.75 0 1 0 -13.5 0M207.64 1423.41a6.75 6.75 0 1 0 13.5 0a6.75 6.75 0 1 0 -13.5 0M219.03 1423.35a6.75 6.75 0 1 0 13.5 0a6.75 6.75 0 1 0 -13.5 0M233.47 1423.27a6.75 6.75 0 1 0 13.5 0a6.75 6.75 0 1 0 -13.5 0M252.35 1423.16a6.75 6.75 0 1 0 13.5 0a6.75 6.75 0 1 0 -13.5 0M278.1 1423.02a6.75 6.75 0 1 0 13.5 0a6.75 6.75 0 1 0 -13.5 0M315.29 1421.06a6.75 6.75 0 1 0 13.5 0a6.75 6.75 0 1 0 -13.5 0M373.72 1420.08a6.75 6.75 0 1 0 13.5 0a6.75 6.75 0 1 0 -13.5 0M478.91 1422.53a6.75 6.75 0 1 0 13.5 0a6.75 6.75 0 1 0 -13.5 0" fill="none" stroke="#3AC5FF" stroke-width="4.5"/>
<path d="M132.97 1423.51 L133.23 1423.5 L133.51 1423.5 L133.79 1423.49 L134.08 1423.49 L134.39 1423.48 L134.7 1423.47 L135.03 1423.47 L135.37 1423.46 L135.73 1423.45 L136.09 1423.45 L136.48 1423.44 L136.88 1423.43 L137.29 1423.42 L137.73 1423.41 L138.18 1423.4 L138.66 1423.39 L139.16 1423.38 L139.68 1423.37 L140.23 1423.36 L140.8 1423.35 L141.41 1423.34 L142.04 1423.32 L142.72 1423.31 L143.43 1423.29 L144.18 1423.28 L144.97 1423.26 L145.82 1423.24 L146.72 1423.23 L147.68 1423.21 L148.7 1423.18 L149.8 1423.16 L150.97 1423.14 L152.23 1423.11 L153.59 1423.08 L155.07 1423.05 L156.67 1423.02 L158.41 1422.98 L160.31 1422.94 L162.4 1422.9 L164.7 1422.85 L167.25 1422.8 L170.09 1422.74 L173.28 1422.68 L176.88 1422.6 L180.98 1422.51 L185.68 1422.38 L191.13 1422.22 L197.54 1422.03 L205.16 1421.81 L214.39 1421.55 L225.78 1421.55 L240.22 1421.55 L259.1 1421.55 L284.85 1421.54 L322.04 1412.23 L380.47 1408.3 L485.66 1417.13 L706.5 1420.53" fill="none" stroke="#56A9FF" stroke-width="4.7" stroke-linejoin="round" stroke-linecap="butt"/><path d="M126.22 1423.51a6.75 6.75 0 1 0 13.5 0a6.75 6.75 0 1 0 -13.5 0M126.48 1423.5a6.75 6.75 0 1 0 13.5 0a6.75 6.75 0 1 0 -13.5 0M126.76 1423.5a6.75 6.75 0 1 0 13.5 0a6.75 6.75 0 1 0 -13.5 0M127.04 1423.49a6.75 6.75 0 1 0 13.5 0a6.75 6.75 0 1 0 -13.5 0M127.33 1423.49a6.75 6.75 0 1 0 13.5 0a6.75 6.75 0 1 0 -13.5 0M127.64 1423.48a6.75 6.75 0 1 0 13.5 0a6.75 6.75 0 1 0 -13.5 0M127.95 1423.47a6.75 6.75 0 1 0 13.5 0a6.75 6.75 0 1 0 -13.5 0M128.28 1423.47a6.75 6.75 0 1 0 13.5 0a6.75 6.75 0 1 0 -13.5 0M128.62 1423.46a6.75 6.75 0 1 0 13.5 0a6.75 6.75 0 1 0 -13.5 0M128.98 1423.45a6.75 6.75 0 1 0 13.5 0a6.75 6.75 0 1 0 -13.5 0M129.34 1423.45a6.75 6.75 0 1 0 13.5 0a6.75 6.75 0 1 0 -13.5 0M129.73 1423.44a6.75 6.75 0 1 0 13.5 0a6.75 6.75 0 1 0 -13.5 0M130.13 1423.43a6.75 6.75 0 1 0 13.5 0a6.75 6.75 0 1 0 -13.5 0M130.54 1423.42a6.75 6.75 0 1 0 13.5 0a6.75 6.75 0 1 0 -13.5 0M130.98 1423.41a6.75 6.75 0 1 0 13.5 0a6.75 6.75 0 1 0 -13.5 0M131.43 1423.4a6.75 6.75 0 1 0 13.5 0a6.75 6.75 0 1 0 -13.5 0M131.91 1423.39a6.75 6.75 0 1 0 13.5 0a6.75 6.75 0 1 0 -13.5 0M132.41 1423.38a6.75 6.75 0 1 0 13.5 0a6.75 6.75 0 1 0 -13.5 0M132.93 1423.37a6.75 6.75 0 1 0 13.5 0a6.75 6.75 0 1 0 -13.5 0M133.48 1423.36a6.75 6.75 0 1 0 13.5 0a6.75 6.75 0 1 0 -13.5 0M134.05 1423.35a6.75 6.75 0 1 0 13.5 0a6.75 6.75 0 1 0 -13.5 0M134.66 1423.34a6.75 6.75 0 1 0 13.5 0a6.75 6.75 0 1 0 -13.5 0M135.29 1423.32a6.75 6.75 0 1 0 13.5 0a6.75 6.75 0 1 0 -13.5 0M135.97 1423.31a6.75 6.75 0 1 0 13.5 0a6.75 6.75 0 1 0 -13.5 0M136.68 1423.29a6.75 6.75 0 1 0 13.5 0a6.75 6.75 0 1 0 -13.5 0M137.43 1423.28a6.75 6.75 0 1 0 13.5 0a6.75 6.75 0 1 0 -13.5 0M138.22 1423.26a6.75 6.75 0 1 0 13.5 0a6.75 6.75 0 1 0 -13.5 0M139.07 1423.24a6.75 6.75 0 1 0 13.5 0a6.75 6.75 0 1 0 -13.5 0M139.97 1423.23a6.75 6.75 0 1 0 13.5 0a6.75 6.75 0 1 0 -13.5 0M140.93 1423.21a6.75 6.75 0 1 0 13.5 0a6.75 6.75 0 1 0 -13.5 0M141.95 1423.18a6.75 6.75 0 1 0 13.5 0a6.75 6.75 0 1 0 -13.5 0M143.05 1423.16a6.75 6.75 0 1 0 13.5 0a6.75 6.75 0 1 0 -13.5 0M144.22 1423.14a6.75 6.75 0 1 0 13.5 0a6.75 6.75 0 1 0 -13.5 0M145.48 1423.11a6.75 6.75 0 1 0 13.5 0a6.75 6.75 0 1 0 -13.5 0M146.84 1423.08a6.75 6.75 0 1 0 13.5 0a6.75 6.75 0 1 0 -13.5 0M148.32 1423.05a6.75 6.75 0 1 0 13.5 0a6.75 6.75 0 1 0 -13.5 0M149.92 1423.02a6.75 6.75 0 1 0 13.5 0a6.75 6.75 0 1 0 -13.5 0M151.66 1422.98a6.75 6.75 0 1 0 13.5 0a6.75 6.75 0 1 0 -13.5 0M153.56 1422.94a6.75 6.75 0 1 0 13.5 0a6.75 6.75 0 1 0 -13.5 0M155.65 1422.9a6.75 6.75 0 1 0 13.5 0a6.75 6.75 0 1 0 -13.5 0M157.95 1422.85a6.75 6.75 0 1 0 13.5 0a6.75 6.75 0 1 0 -13.5 0M160.5 1422.8a6.75 6.75 0 1 0 13.5 0a6.75 6.75 0 1 0 -13.5 0M163.34 1422.74a6.75 6.75 0 1 0 13.5 0a6.75 6.75 0 1 0 -13.5 0M166.53 1422.68a6.75 6.75 0 1 0 13.5 0a6.75 6.75 0 1 0 -13.5 0M170.13 1422.6a6.75 6.75 0 1 0 13.5 0a6.75 6.75 0 1 0 -13.5 0M174.23 1422.51a6.75 6.75 0 1 0 13.5 0a6.75 6.75 0 1 0 -13.5 0M178.93 1422.38a6.75 6.75 0 1 0 13.5 0a6.75 6.75 0 1 0 -13.5 0M184.38 1422.22a6.75 6.75 0 1 0 13.5 0a6.75 6.75 0 1 0 -13.5 0M190.79 1422.03a6.75 6.75 0 1 0 13.5 0a6.75 6.75 0 1 0 -13.5 0M198.41 1421.81a6.75 6.75 0 1 0 13.5 0a6.75 6.75 0 1 0 -13.5 0M207.64 1421.55a6.75 6.75 0 1 0 13.5 0a6.75 6.75 0 1 0 -13.5 0M219.03 1421.55a6.75 6.75 0 1 0 13.5 0a6.75 6.75 0 1 0 -13.5 0M233.47 1421.55a6.75 6.75 0 1 0 13.5 0a6.75 6.75 0 1 0 -13.5 0M252.35 1421.55a6.75 6.75 0 1 0 13.5 0a6.75 6.75 0 1 0 -13.5 0M278.1 1421.54a6.75 6.75 0 1 0 13.5 0a6.75 6.75 0 1 0 -13.5 0M315.29 1412.23a6.75 6.75 0 1 0 13.5 0a6.75 6.75 0 1 0 -13.5 0M373.72 1408.3a6.75 6.75 0 1 0 13.5 0a6.75 6.75 0 1 0 -13.5 0M478.91 1417.13a6.75 6.75 0 1 0 13.5 0a6.75 6.75 0 1 0 -13.5 0" fill="none" stroke="#56A9FF" stroke-width="4.5"/>
<path d="M132.97 1423.02 L133.23 1423.01 L133.51 1423.01 L133.79 1423 L134.08 1423 L134.39 1422.99 L134.7 1422.99 L135.03 1422.98 L135.37 1422.97 L135.73 1422.97 L136.09 1422.96 L136.48 1422.95 L136.88 1422.94 L137.29 1422.94 L137.73 1422.93 L138.18 1422.92 L138.66 1422.91 L139.16 1422.9 L139.68 1422.89 L140.23 1422.88 L140.8 1422.87 L141.41 1422.86 L142.04 1422.84 L142.72 1422.83 L143.43 1422.82 L144.18 1422.8 L144.97 1422.79 L145.82 1422.77 L146.72 1422.75 L147.68 1422.74 L148.7 1422.72 L149.8 1422.69 L150.97 1422.67 L152.23 1422.65 L153.59 1422.62 L155.07 1422.59 L156.67 1422.56 L158.41 1422.53 L160.31 1422.44 L162.4 1422.35 L164.7 1422.25 L167.25 1422.13 L170.09 1422.01 L173.28 1421.87 L176.88 1421.71 L180.98 1421.56 L185.68 1421.62 L191.13 1421.7 L197.54 1421.79 L205.16 1421.68 L214.39 1421.55 L225.78 1421.3 L240.22 1420.08 L259.1 1418.11 L284.85 1411.22 L322.04 1366.12 L380.47 1352.09 L485.66 1400.11 L706.5 1414.94" fill="none" stroke="#718DFF" stroke-width="4.7" stroke-linejoin="round" stroke-linecap="butt"/><path d="M126.22 1423.02a6.75 6.75 0 1 0 13.5 0a6.75 6.75 0 1 0 -13.5 0M126.48 1423.01a6.75 6.75 0 1 0 13.5 0a6.75 6.75 0 1 0 -13.5 0M126.76 1423.01a6.75 6.75 0 1 0 13.5 0a6.75 6.75 0 1 0 -13.5 0M127.04 1423a6.75 6.75 0 1 0 13.5 0a6.75 6.75 0 1 0 -13.5 0M127.33 1423a6.75 6.75 0 1 0 13.5 0a6.75 6.75 0 1 0 -13.5 0M127.64 1422.99a6.75 6.75 0 1 0 13.5 0a6.75 6.75 0 1 0 -13.5 0M127.95 1422.99a6.75 6.75 0 1 0 13.5 0a6.75 6.75 0 1 0 -13.5 0M128.28 1422.98a6.75 6.75 0 1 0 13.5 0a6.75 6.75 0 1 0 -13.5 0M128.62 1422.97a6.75 6.75 0 1 0 13.5 0a6.75 6.75 0 1 0 -13.5 0M128.98 1422.97a6.75 6.75 0 1 0 13.5 0a6.75 6.75 0 1 0 -13.5 0M129.34 1422.96a6.75 6.75 0 1 0 13.5 0a6.75 6.75 0 1 0 -13.5 0M129.73 1422.95a6.75 6.75 0 1 0 13.5 0a6.75 6.75 0 1 0 -13.5 0M130.13 1422.94a6.75 6.75 0 1 0 13.5 0a6.75 6.75 0 1 0 -13.5 0M130.54 1422.94a6.75 6.75 0 1 0 13.5 0a6.75 6.75 0 1 0 -13.5 0M130.98 1422.93a6.75 6.75 0 1 0 13.5 0a6.75 6.75 0 1 0 -13.5 0M131.43 1422.92a6.75 6.75 0 1 0 13.5 0a6.75 6.75 0 1 0 -13.5 0M131.91 1422.91a6.75 6.75 0 1 0 13.5 0a6.75 6.75 0 1 0 -13.5 0M132.41 1422.9a6.75 6.75 0 1 0 13.5 0a6.75 6.75 0 1 0 -13.5 0M132.93 1422.89a6.75 6.75 0 1 0 13.5 0a6.75 6.75 0 1 0 -13.5 0M133.48 1422.88a6.75 6.75 0 1 0 13.5 0a6.75 6.75 0 1 0 -13.5 0M134.05 1422.87a6.75 6.75 0 1 0 13.5 0a6.75 6.75 0 1 0 -13.5 0M134.66 1422.86a6.75 6.75 0 1 0 13.5 0a6.75 6.75 0 1 0 -13.5 0M135.29 1422.84a6.75 6.75 0 1 0 13.5 0a6.75 6.75 0 1 0 -13.5 0M135.97 1422.83a6.75 6.75 0 1 0 13.5 0a6.75 6.75 0 1 0 -13.5 0M136.68 1422.82a6.75 6.75 0 1 0 13.5 0a6.75 6.75 0 1 0 -13.5 0M137.43 1422.8a6.75 6.75 0 1 0 13.5 0a6.75 6.75 0 1 0 -13.5 0M138.22 1422.79a6.75 6.75 0 1 0 13.5 0a6.75 6.75 0 1 0 -13.5 0M139.07 1422.77a6.75 6.75 0 1 0 13.5 0a6.75 6.75 0 1 0 -13.5 0M139.97 1422.75a6.75 6.75 0 1 0 13.5 0a6.75 6.75 0 1 0 -13.5 0M140.93 1422.74a6.75 6.75 0 1 0 13.5 0a6.75 6.75 0 1 0 -13.5 0M141.95 1422.72a6.75 6.75 0 1 0 13.5 0a6.75 6.75 0 1 0 -13.5 0M143.05 1422.69a6.75 6.75 0 1 0 13.5 0a6.75 6.75 0 1 0 -13.5 0M144.22 1422.67a6.75 6.75 0 1 0 13.5 0a6.75 6.75 0 1 0 -13.5 0M145.48 1422.65a6.75 6.75 0 1 0 13.5 0a6.75 6.75 0 1 0 -13.5 0M146.84 1422.62a6.75 6.75 0 1 0 13.5 0a6.75 6.75 0 1 0 -13.5 0M148.32 1422.59a6.75 6.75 0 1 0 13.5 0a6.75 6.75 0 1 0 -13.5 0M149.92 1422.56a6.75 6.75 0 1 0 13.5 0a6.75 6.75 0 1 0 -13.5 0M151.66 1422.53a6.75 6.75 0 1 0 13.5 0a6.75 6.75 0 1 0 -13.5 0M153.56 1422.44a6.75 6.75 0 1 0 13.5 0a6.75 6.75 0 1 0 -13.5 0M155.65 1422.35a6.75 6.75 0 1 0 13.5 0a6.75 6.75 0 1 0 -13.5 0M157.95 1422.25a6.75 6.75 0 1 0 13.5 0a6.75 6.75 0 1 0 -13.5 0M160.5 1422.13a6.75 6.75 0 1 0 13.5 0a6.75 6.75 0 1 0 -13.5 0M163.34 1422.01a6.75 6.75 0 1 0 13.5 0a6.75 6.75 0 1 0 -13.5 0M166.53 1421.87a6.75 6.75 0 1 0 13.5 0a6.75 6.75 0 1 0 -13.5 0M170.13 1421.71a6.75 6.75 0 1 0 13.5 0a6.75 6.75 0 1 0 -13.5 0M174.23 1421.56a6.75 6.75 0 1 0 13.5 0a6.75 6.75 0 1 0 -13.5 0M178.93 1421.62a6.75 6.75 0 1 0 13.5 0a6.75 6.75 0 1 0 -13.5 0M184.38 1421.7a6.75 6.75 0 1 0 13.5 0a6.75 6.75 0 1 0 -13.5 0M190.79 1421.79a6.75 6.75 0 1 0 13.5 0a6.75 6.75 0 1 0 -13.5 0M198.41 1421.68a6.75 6.75 0 1 0 13.5 0a6.75 6.75 0 1 0 -13.5 0M207.64 1421.55a6.75 6.75 0 1 0 13.5 0a6.75 6.75 0 1 0 -13.5 0M219.03 1421.3a6.75 6.75 0 1 0 13.5 0a6.75 6.75 0 1 0 -13.5 0M233.47 1420.08a6.75 6.75 0 1 0 13.5 0a6.75 6.75 0 1 0 -13.5 0M252.35 1418.11a6.75 6.75 0 1 0 13.5 0a6.75 6.75 0 1 0 -13.5 0M278.1 1411.22a6.75 6.75 0 1 0 13.5 0a6.75 6.75 0 1 0 -13.5 0M315.29 1366.12a6.75 6.75 0 1 0 13.5 0a6.75 6.75 0 1 0 -13.5 0M373.72 1352.09a6.75 6.75 0 1 0 13.5 0a6.75 6.75 0 1 0 -13.5 0M478.91 1400.11a6.75 6.75 0 1 0 13.5 0a6.75 6.75 0 1 0 -13.5 0" fill="none" stroke="#718DFF" stroke-width="4.5"/>
<path d="M132.97 1422.77 L133.23 1422.77 L133.51 1422.76 L133.79 1422.75 L134.08 1422.74 L134.39 1422.73 L134.7 1422.72 L135.03 1422.71 L135.37 1422.7 L135.73 1422.69 L136.09 1422.68 L136.48 1422.67 L136.88 1422.66 L137.29 1422.65 L137.73 1422.64 L138.18 1422.62 L138.66 1422.61 L139.16 1422.6 L139.68 1422.58 L140.23 1422.56 L140.8 1422.55 L141.41 1422.53 L142.04 1422.51 L142.72 1422.49 L143.43 1422.47 L144.18 1422.45 L144.97 1422.43 L145.82 1422.4 L146.72 1422.38 L147.68 1422.35 L148.7 1422.32 L149.8 1422.29 L150.97 1422.25 L152.23 1422.22 L153.59 1422.18 L155.07 1422.13 L156.67 1422.09 L158.41 1422.04 L160.31 1421.7 L162.4 1421.33 L164.7 1420.92 L167.25 1420.46 L170.09 1419.96 L173.28 1419.39 L176.88 1418.75 L180.98 1418.04 L185.68 1417.36 L191.13 1416.58 L197.54 1415.65 L205.16 1414.14 L214.39 1395.62 L225.78 1395.75 L240.22 1377.64 L259.1 1368.27 L284.85 1349.05 L322.04 1275.86 L380.47 1261.88 L485.66 1374.55 L706.5 1406.38" fill="none" stroke="#8D72FF" stroke-width="4.7" stroke-linejoin="round" stroke-linecap="butt"/><path d="M126.22 1422.77a6.75 6.75 0 1 0 13.5 0a6.75 6.75 0 1 0 -13.5 0M126.48 1422.77a6.75 6.75 0 1 0 13.5 0a6.75 6.75 0 1 0 -13.5 0M126.76 1422.76a6.75 6.75 0 1 0 13.5 0a6.75 6.75 0 1 0 -13.5 0M127.04 1422.75a6.75 6.75 0 1 0 13.5 0a6.75 6.75 0 1 0 -13.5 0M127.33 1422.74a6.75 6.75 0 1 0 13.5 0a6.75 6.75 0 1 0 -13.5 0M127.64 1422.73a6.75 6.75 0 1 0 13.5 0a6.75 6.75 0 1 0 -13.5 0M127.95 1422.72a6.75 6.75 0 1 0 13.5 0a6.75 6.75 0 1 0 -13.5 0M128.28 1422.71a6.75 6.75 0 1 0 13.5 0a6.75 6.75 0 1 0 -13.5 0M128.62 1422.7a6.75 6.75 0 1 0 13.5 0a6.75 6.75 0 1 0 -13.5 0M128.98 1422.69a6.75 6.75 0 1 0 13.5 0a6.75 6.75 0 1 0 -13.5 0M129.34 1422.68a6.75 6.75 0 1 0 13.5 0a6.75 6.75 0 1 0 -13.5 0M129.73 1422.67a6.75 6.75 0 1 0 13.5 0a6.75 6.75 0 1 0 -13.5 0M130.13 1422.66a6.75 6.75 0 1 0 13.5 0a6.75 6.75 0 1 0 -13.5 0M130.54 1422.65a6.75 6.75 0 1 0 13.5 0a6.75 6.75 0 1 0 -13.5 0M130.98 1422.64a6.75 6.75 0 1 0 13.5 0a6.75 6.75 0 1 0 -13.5 0M131.43 1422.62a6.75 6.75 0 1 0 13.5 0a6.75 6.75 0 1 0 -13.5 0M131.91 1422.61a6.75 6.75 0 1 0 13.5 0a6.75 6.75 0 1 0 -13.5 0M132.41 1422.6a6.75 6.75 0 1 0 13.5 0a6.75 6.75 0 1 0 -13.5 0M132.93 1422.58a6.75 6.75 0 1 0 13.5 0a6.75 6.75 0 1 0 -13.5 0M133.48 1422.56a6.75 6.75 0 1 0 13.5 0a6.75 6.75 0 1 0 -13.5 0M134.05 1422.55a6.75 6.75 0 1 0 13.5 0a6.75 6.75 0 1 0 -13.5 0M134.66 1422.53a6.75 6.75 0 1 0 13.5 0a6.75 6.75 0 1 0 -13.5 0M135.29 1422.51a6.75 6.75 0 1 0 13.5 0a6.75 6.75 0 1 0 -13.5 0M135.97 1422.49a6.75 6.75 0 1 0 13.5 0a6.75 6.75 0 1 0 -13.5 0M136.68 1422.47a6.75 6.75 0 1 0 13.5 0a6.75 6.75 0 1 0 -13.5 0M137.43 1422.45a6.75 6.75 0 1 0 13.5 0a6.75 6.75 0 1 0 -13.5 0M138.22 1422.43a6.75 6.75 0 1 0 13.5 0a6.75 6.75 0 1 0 -13.5 0M139.07 1422.4a6.75 6.75 0 1 0 13.5 0a6.75 6.75 0 1 0 -13.5 0M139.97 1422.38a6.75 6.75 0 1 0 13.5 0a6.75 6.75 0 1 0 -13.5 0M140.93 1422.35a6.75 6.75 0 1 0 13.5 0a6.75 6.75 0 1 0 -13.5 0M141.95 1422.32a6.75 6.75 0 1 0 13.5 0a6.75 6.75 0 1 0 -13.5 0M143.05 1422.29a6.75 6.75 0 1 0 13.5 0a6.75 6.75 0 1 0 -13.5 0M144.22 1422.25a6.75 6.75 0 1 0 13.5 0a6.75 6.75 0 1 0 -13.5 0M145.48 1422.22a6.75 6.75 0 1 0 13.5 0a6.75 6.75 0 1 0 -13.5 0M146.84 1422.18a6.75 6.75 0 1 0 13.5 0a6.75 6.75 0 1 0 -13.5 0M148.32 1422.13a6.75 6.75 0 1 0 13.5 0a6.75 6.75 0 1 0 -13.5 0M149.92 1422.09a6.75 6.75 0 1 0 13.5 0a6.75 6.75 0 1 0 -13.5 0M151.66 1422.04a6.75 6.75 0 1 0 13.5 0a6.75 6.75 0 1 0 -13.5 0M153.56 1421.7a6.75 6.75 0 1 0 13.5 0a6.75 6.75 0 1 0 -13.5 0M155.65 1421.33a6.75 6.75 0 1 0 13.5 0a6.75 6.75 0 1 0 -13.5 0M157.95 1420.92a6.75 6.75 0 1 0 13.5 0a6.75 6.75 0 1 0 -13.5 0M160.5 1420.46a6.75 6.75 0 1 0 13.5 0a6.75 6.75 0 1 0 -13.5 0M163.34 1419.96a6.75 6.75 0 1 0 13.5 0a6.75 6.75 0 1 0 -13.5 0M166.53 1419.39a6.75 6.75 0 1 0 13.5 0a6.75 6.75 0 1 0 -13.5 0M170.13 1418.75a6.75 6.75 0 1 0 13.5 0a6.75 6.75 0 1 0 -13.5 0M174.23 1418.04a6.75 6.75 0 1 0 13.5 0a6.75 6.75 0 1 0 -13.5 0M178.93 1417.36a6.75 6.75 0 1 0 13.5 0a6.75 6.75 0 1 0 -13.5 0M184.38 1416.58a6.75 6.75 0 1 0 13.5 0a6.75 6.75 0 1 0 -13.5 0M190.79 1415.65a6.75 6.75 0 1 0 13.5 0a6.75 6.75 0 1 0 -13.5 0M198.41 1414.14a6.75 6.75 0 1 0 13.5 0a6.75 6.75 0 1 0 -13.5 0M207.64 1395.62a6.75 6.75 0 1 0 13.5 0a6.75 6.75 0 1 0 -13.5 0M219.03 1395.75a6.75 6.75 0 1 0 13.5 0a6.75 6.75 0 1 0 -13.5 0M233.47 1377.64a6.75 6.75 0 1 0 13.5 0a6.75 6.75 0 1 0 -13.5 0M252.35 1368.27a6.75 6.75 0 1 0 13.5 0a6.75 6.75 0 1 0 -13.5 0M278.1 1349.05a6.75 6.75 0 1 0 13.5 0a6.75 6.75 0 1 0 -13.5 0M315.29 1275.86a6.75 6.75 0 1 0 13.5 0a6.75 6.75 0 1 0 -13.5 0M373.72 1261.88a6.75 6.75 0 1 0 13.5 0a6.75 6.75 0 1 0 -13.5 0M478.91 1374.55a6.75 6.75 0 1 0 13.5 0a6.75 6.75 0 1 0 -13.5 0" fill="none" stroke="#8D72FF" stroke-width="4.5"/>
<path d="M132.97 1422.53 L133.23 1422.52 L133.51 1422.51 L133.79 1422.5 L134.08 1422.5 L134.39 1422.49 L134.7 1422.48 L135.03 1422.47 L135.37 1422.46 L135.73 1422.44 L136.09 1422.43 L136.48 1422.42 L136.88 1422.41 L137.29 1422.4 L137.73 1422.38 L138.18 1422.37 L138.66 1422.35 L139.16 1422.34 L139.68 1422.32 L140.23 1422.31 L140.8 1422.29 L141.41 1422.27 L142.04 1422.25 L142.72 1422.23 L143.43 1422.21 L144.18 1422.18 L144.97 1422.16 L145.82 1422.13 L146.72 1422.11 L147.68 1422.08 L148.7 1422.05 L149.8 1421.99 L150.97 1421.93 L152.23 1421.87 L153.59 1421.8 L155.07 1421.72 L156.67 1421.64 L158.41 1421.55 L160.31 1421.01 L162.4 1420.42 L164.7 1419.76 L167.25 1419.04 L170.09 1418.2 L173.28 1417.27 L176.88 1416.21 L180.98 1415.12 L185.68 1414.7 L191.13 1414.22 L197.54 1412.22 L205.16 1409.25 L214.39 1393.64 L225.78 1391.75 L240.22 1343.89 L259.1 1306.27 L284.85 1270.89 L322.04 1159.79 L380.47 1151.26 L485.66 1345.81 L706.5 1396.7" fill="none" stroke="#A956FF" stroke-width="4.7" stroke-linejoin="round" stroke-linecap="butt"/><path d="M126.22 1422.53a6.75 6.75 0 1 0 13.5 0a6.75 6.75 0 1 0 -13.5 0M126.48 1422.52a6.75 6.75 0 1 0 13.5 0a6.75 6.75 0 1 0 -13.5 0M126.76 1422.51a6.75 6.75 0 1 0 13.5 0a6.75 6.75 0 1 0 -13.5 0M127.04 1422.5a6.75 6.75 0 1 0 13.5 0a6.75 6.75 0 1 0 -13.5 0M127.33 1422.5a6.75 6.75 0 1 0 13.5 0a6.75 6.75 0 1 0 -13.5 0M127.64 1422.49a6.75 6.75 0 1 0 13.5 0a6.75 6.75 0 1 0 -13.5 0M127.95 1422.48a6.75 6.75 0 1 0 13.5 0a6.75 6.75 0 1 0 -13.5 0M128.28 1422.47a6.75 6.75 0 1 0 13.5 0a6.75 6.75 0 1 0 -13.5 0M128.62 1422.46a6.75 6.75 0 1 0 13.5 0a6.75 6.75 0 1 0 -13.5 0M128.98 1422.44a6.75 6.75 0 1 0 13.5 0a6.75 6.75 0 1 0 -13.5 0M129.34 1422.43a6.75 6.75 0 1 0 13.5 0a6.75 6.75 0 1 0 -13.5 0M129.73 1422.42a6.75 6.75 0 1 0 13.5 0a6.75 6.75 0 1 0 -13.5 0M130.13 1422.41a6.75 6.75 0 1 0 13.5 0a6.75 6.75 0 1 0 -13.5 0M130.54 1422.4a6.75 6.75 0 1 0 13.5 0a6.75 6.75 0 1 0 -13.5 0M130.98 1422.38a6.75 6.75 0 1 0 13.5 0a6.75 6.75 0 1 0 -13.5 0M131.43 1422.37a6.75 6.75 0 1 0 13.5 0a6.75 6.75 0 1 0 -13.5 0M131.91 1422.35a6.75 6.75 0 1 0 13.5 0a6.75 6.75 0 1 0 -13.5 0M132.41 1422.34a6.75 6.75 0 1 0 13.5 0a6.75 6.75 0 1 0 -13.5 0M132.93 1422.32a6.75 6.75 0 1 0 13.5 0a6.75 6.75 0 1 0 -13.5 0M133.48 1422.31a6.75 6.75 0 1 0 13.5 0a6.75 6.75 0 1 0 -13.5 0M134.05 1422.29a6.75 6.75 0 1 0 13.5 0a6.75 6.75 0 1 0 -13.5 0M134.66 1422.27a6.75 6.75 0 1 0 13.5 0a6.75 6.75 0 1 0 -13.5 0M135.29 1422.25a6.75 6.75 0 1 0 13.5 0a6.75 6.75 0 1 0 -13.5 0M135.97 1422.23a6.75 6.75 0 1 0 13.5 0a6.75 6.75 0 1 0 -13.5 0M136.68 1422.21a6.75 6.75 0 1 0 13.5 0a6.75 6.75 0 1 0 -13.5 0M137.43 1422.18a6.75 6.75 0 1 0 13.5 0a6.75 6.75 0 1 0 -13.5 0M138.22 1422.16a6.75 6.75 0 1 0 13.5 0a6.75 6.75 0 1 0 -13.5 0M139.07 1422.13a6.75 6.75 0 1 0 13.5 0a6.75 6.75 0 1 0 -13.5 0M139.97 1422.11a6.75 6.75 0 1 0 13.5 0a6.75 6.75 0 1 0 -13.5 0M140.93 1422.08a6.75 6.75 0 1 0 13.5 0a6.75 6.75 0 1 0 -13.5 0M141.95 1422.05a6.75 6.75 0 1 0 13.5 0a6.75 6.75 0 1 0 -13.5 0M143.05 1421.99a6.75 6.75 0 1 0 13.5 0a6.75 6.75 0 1 0 -13.5 0M144.22 1421.93a6.75 6.75 0 1 0 13.5 0a6.75 6.75 0 1 0 -13.5 0M145.48 1421.87a6.75 6.75 0 1 0 13.5 0a6.75 6.75 0 1 0 -13.5 0M146.84 1421.8a6.75 6.75 0 1 0 13.5 0a6.75 6.75 0 1 0 -13.5 0M148.32 1421.72a6.75 6.75 0 1 0 13.5 0a6.75 6.75 0 1 0 -13.5 0M149.92 1421.64a6.75 6.75 0 1 0 13.5 0a6.75 6.75 0 1 0 -13.5 0M151.66 1421.55a6.75 6.75 0 1 0 13.5 0a6.75 6.75 0 1 0 -13.5 0M153.56 1421.01a6.75 6.75 0 1 0 13.5 0a6.75 6.75 0 1 0 -13.5 0M155.65 1420.42a6.75 6.75 0 1 0 13.5 0a6.75 6.75 0 1 0 -13.5 0M157.95 1419.76a6.75 6.75 0 1 0 13.5 0a6.75 6.75 0 1 0 -13.5 0M160.5 1419.04a6.75 6.75 0 1 0 13.5 0a6.75 6.75 0 1 0 -13.5 0M163.34 1418.2a6.75 6.75 0 1 0 13.5 0a6.75 6.75 0 1 0 -13.5 0M166.53 1417.27a6.75 6.75 0 1 0 13.5 0a6.75 6.75 0 1 0 -13.5 0M170.13 1416.21a6.75 6.75 0 1 0 13.5 0a6.75 6.75 0 1 0 -13.5 0M174.23 1415.12a6.75 6.75 0 1 0 13.5 0a6.75 6.75 0 1 0 -13.5 0M178.93 1414.7a6.75 6.75 0 1 0 13.5 0a6.75 6.75 0 1 0 -13.5 0M184.38 1414.22a6.75 6.75 0 1 0 13.5 0a6.75 6.75 0 1 0 -13.5 0M190.79 1412.22a6.75 6.75 0 1 0 13.5 0a6.75 6.75 0 1 0 -13.5 0M198.41 1409.25a6.75 6.75 0 1 0 13.5 0a6.75 6.75 0 1 0 -13.5 0M207.64 1393.64a6.75 6.75 0 1 0 13.5 0a6.75 6.75 0 1 0 -13.5 0M219.03 1391.75a6.75 6.75 0 1 0 13.5 0a6.75 6.75 0 1 0 -13.5 0M233.47 1343.89a6.75 6.75 0 1 0 13.5 0a6.75 6.75 0 1 0 -13.5 0M252.35 1306.27a6.75 6.75 0 1 0 13.5 0a6.75 6.75 0 1 0 -13.5 0M278.1 1270.89a6.75 6.75 0 1 0 13.5 0a6.75 6.75 0 1 0 -13.5 0M315.29 1159.79a6.75 6.75 0 1 0 13.5 0a6.75 6.75 0 1 0 -13.5 0M373.72 1151.26a6.75 6.75 0 1 0 13.5 0a6.75 6.75 0 1 0 -13.5 0M478.91 1345.81a6.75 6.75 0 1 0 13.5 0a6.75 6.75 0 1 0 -13.5 0" fill="none" stroke="#A956FF" stroke-width="4.5"/>
<path d="M132.97 1422.28 L133.23 1422.27 L133.51 1422.26 L133.79 1422.25 L134.08 1422.23 L134.39 1422.22 L134.7 1422.2 L135.03 1422.19 L135.37 1422.17 L135.73 1422.16 L136.09 1422.14 L136.48 1422.12 L136.88 1422.1 L137.29 1422.09 L137.73 1422.07 L138.18 1422.04 L138.66 1422.02 L139.16 1422 L139.68 1421.98 L140.23 1421.95 L140.8 1421.92 L141.41 1421.9 L142.04 1421.87 L142.72 1421.84 L143.43 1421.8 L144.18 1421.77 L144.97 1421.73 L145.82 1421.69 L146.72 1421.65 L147.68 1421.61 L148.7 1421.56 L149.8 1421.46 L150.97 1421.34 L152.23 1421.21 L153.59 1421.07 L155.07 1420.91 L156.67 1420.75 L158.41 1420.57 L160.31 1419.81 L162.4 1418.98 L164.7 1418.07 L167.25 1417.05 L170.09 1415.87 L173.28 1414.55 L176.88 1413.01 L180.98 1411.48 L185.68 1411.37 L191.13 1411.25 L197.54 1409.27 L205.16 1406.28 L214.39 1382.39 L225.78 1380.61 L240.22 1294.01 L259.1 1214.24 L284.85 1182.77 L322.04 962.89 L380.47 942.29 L485.66 1289.35 L706.5 1379.43" fill="none" stroke="#C43BFF" stroke-width="4.7" stroke-linejoin="round" stroke-linecap="butt"/><path d="M126.22 1422.28a6.75 6.75 0 1 0 13.5 0a6.75 6.75 0 1 0 -13.5 0M126.48 1422.27a6.75 6.75 0 1 0 13.5 0a6.75 6.75 0 1 0 -13.5 0M126.76 1422.26a6.75 6.75 0 1 0 13.5 0a6.75 6.75 0 1 0 -13.5 0M127.04 1422.25a6.75 6.75 0 1 0 13.5 0a6.75 6.75 0 1 0 -13.5 0M127.33 1422.23a6.75 6.75 0 1 0 13.5 0a6.75 6.75 0 1 0 -13.5 0M127.64 1422.22a6.75 6.75 0 1 0 13.5 0a6.75 6.75 0 1 0 -13.5 0M127.95 1422.2a6.75 6.75 0 1 0 13.5 0a6.75 6.75 0 1 0 -13.5 0M128.28 1422.19a6.75 6.75 0 1 0 13.5 0a6.75 6.75 0 1 0 -13.5 0M128.62 1422.17a6.75 6.75 0 1 0 13.5 0a6.75 6.75 0 1 0 -13.5 0M128.98 1422.16a6.75 6.75 0 1 0 13.5 0a6.75 6.75 0 1 0 -13.5 0M129.34 1422.14a6.75 6.75 0 1 0 13.5 0a6.75 6.75 0 1 0 -13.5 0M129.73 1422.12a6.75 6.75 0 1 0 13.5 0a6.75 6.75 0 1 0 -13.5 0M130.13 1422.1a6.75 6.75 0 1 0 13.5 0a6.75 6.75 0 1 0 -13.5 0M130.54 1422.09a6.75 6.75 0 1 0 13.5 0a6.75 6.75 0 1 0 -13.5 0M130.98 1422.07a6.75 6.75 0 1 0 13.5 0a6.75 6.75 0 1 0 -13.5 0M131.43 1422.04a6.75 6.75 0 1 0 13.5 0a6.75 6.75 0 1 0 -13.5 0M131.91 1422.02a6.75 6.75 0 1 0 13.5 0a6.75 6.75 0 1 0 -13.5 0M132.41 1422a6.75 6.75 0 1 0 13.5 0a6.75 6.75 0 1 0 -13.5 0M132.93 1421.98a6.75 6.75 0 1 0 13.5 0a6.75 6.75 0 1 0 -13.5 0M133.48 1421.95a6.75 6.75 0 1 0 13.5 0a6.75 6.75 0 1 0 -13.5 0M134.05 1421.92a6.75 6.75 0 1 0 13.5 0a6.75 6.75 0 1 0 -13.5 0M134.66 1421.9a6.75 6.75 0 1 0 13.5 0a6.75 6.75 0 1 0 -13.5 0M135.29 1421.87a6.75 6.75 0 1 0 13.5 0a6.75 6.75 0 1 0 -13.5 0M135.97 1421.84a6.75 6.75 0 1 0 13.5 0a6.75 6.75 0 1 0 -13.5 0M136.68 1421.8a6.75 6.75 0 1 0 13.5 0a6.75 6.75 0 1 0 -13.5 0M137.43 1421.77a6.75 6.75 0 1 0 13.5 0a6.75 6.75 0 1 0 -13.5 0M138.22 1421.73a6.75 6.75 0 1 0 13.5 0a6.75 6.75 0 1 0 -13.5 0M139.07 1421.69a6.75 6.75 0 1 0 13.5 0a6.75 6.75 0 1 0 -13.5 0M139.97 1421.65a6.75 6.75 0 1 0 13.5 0a6.75 6.75 0 1 0 -13.5 0M140.93 1421.61a6.75 6.75 0 1 0 13.5 0a6.75 6.75 0 1 0 -13.5 0M141.95 1421.56a6.75 6.75 0 1 0 13.5 0a6.75 6.75 0 1 0 -13.5 0M143.05 1421.46a6.75 6.75 0 1 0 13.5 0a6.75 6.75 0 1 0 -13.5 0M144.22 1421.34a6.75 6.75 0 1 0 13.5 0a6.75 6.75 0 1 0 -13.5 0M145.48 1421.21a6.75 6.75 0 1 0 13.5 0a6.75 6.75 0 1 0 -13.5 0M146.84 1421.07a6.75 6.75 0 1 0 13.5 0a6.75 6.75 0 1 0 -13.5 0M148.32 1420.91a6.75 6.75 0 1 0 13.5 0a6.75 6.75 0 1 0 -13.5 0M149.92 1420.75a6.75 6.75 0 1 0 13.5 0a6.75 6.75 0 1 0 -13.5 0M151.66 1420.57a6.75 6.75 0 1 0 13.5 0a6.75 6.75 0 1 0 -13.5 0M153.56 1419.81a6.75 6.75 0 1 0 13.5 0a6.75 6.75 0 1 0 -13.5 0M155.65 1418.98a6.75 6.75 0 1 0 13.5 0a6.75 6.75 0 1 0 -13.5 0M157.95 1418.07a6.75 6.75 0 1 0 13.5 0a6.75 6.75 0 1 0 -13.5 0M160.5 1417.05a6.75 6.75 0 1 0 13.5 0a6.75 6.75 0 1 0 -13.5 0M163.34 1415.87a6.75 6.75 0 1 0 13.5 0a6.75 6.75 0 1 0 -13.5 0M166.53 1414.55a6.75 6.75 0 1 0 13.5 0a6.75 6.75 0 1 0 -13.5 0M170.13 1413.01a6.75 6.75 0 1 0 13.5 0a6.75 6.75 0 1 0 -13.5 0M174.23 1411.48a6.75 6.75 0 1 0 13.5 0a6.75 6.75 0 1 0 -13.5 0M178.93 1411.37a6.75 6.75 0 1 0 13.5 0a6.75 6.75 0 1 0 -13.5 0M184.38 1411.25a6.75 6.75 0 1 0 13.5 0a6.75 6.75 0 1 0 -13.5 0M190.79 1409.27a6.75 6.75 0 1 0 13.5 0a6.75 6.75 0 1 0 -13.5 0M198.41 1406.28a6.75 6.75 0 1 0 13.5 0a6.75 6.75 0 1 0 -13.5 0M207.64 1382.39a6.75 6.75 0 1 0 13.5 0a6.75 6.75 0 1 0 -13.5 0M219.03 1380.61a6.75 6.75 0 1 0 13.5 0a6.75 6.75 0 1 0 -13.5 0M233.47 1294.01a6.75 6.75 0 1 0 13.5 0a6.75 6.75 0 1 0 -13.5 0M252.35 1214.24a6.75 6.75 0 1 0 13.5 0a6.75 6.75 0 1 0 -13.5 0M278.1 1182.77a6.75 6.75 0 1 0 13.5 0a6.75 6.75 0 1 0 -13.5 0M315.29 962.89a6.75 6.75 0 1 0 13.5 0a6.75 6.75 0 1 0 -13.5 0M373.72 942.29a6.75 6.75 0 1 0 13.5 0a6.75 6.75 0 1 0 -13.5 0M478.91 1289.35a6.75 6.75 0 1 0 13.5 0a6.75 6.75 0 1 0 -13.5 0" fill="none" stroke="#C43BFF" stroke-width="4.5"/>
<line x1="299.85" y1="836.65" x2="299.85" y2="1424" stroke="#000" stroke-width="4.7" stroke-dasharray="17.7 4.8 8.4 4.8"/>
<line x1="375.4" y1="836.65" x2="375.4" y2="1424" stroke="#000" stroke-width="4.7" stroke-dasharray="17.7 18"/>
<text x="102" y="1439.6" text-anchor="end" class="tk">0</text>
<text x="102" y="1341.49" text-anchor="end" class="tk">2</text>
<text x="102" y="1243.38" text-anchor="end" class="tk">4</text>
<text x="102" y="1145.27" text-anchor="end" class="tk">6</text>
<text x="102" y="1047.17" text-anchor="end" class="tk">8</text>
<path d="M64.3 949.06L68.72 949.06L68.72 917.99L65.36 917.99C64.7 921.3 62.66 923.29 57.18 923.51L57.18 926.78L64.3 926.78Z" fill="#000"/><text x="77.42" y="949.06" class="tk">0</text>
<path d="M64.3 850.95L68.72 850.95L68.72 819.88L65.36 819.88C64.7 823.19 62.66 825.18 57.18 825.4L57.18 828.67L64.3 828.67Z" fill="#000"/><text x="77.42" y="850.95" class="tk">2</text>
<text x="116.7" y="1479.5" text-anchor="middle" class="tk">0</text>
<text x="273.77" y="1479.5" text-anchor="middle" class="tk">200</text>
<text x="430.83" y="1479.5" text-anchor="middle" class="tk">400</text>
<text x="587.9" y="1479.5" text-anchor="middle" class="tk">600</text>
<text x="411" y="1535.8" text-anchor="middle" class="lb">wavelength (nm)</text>
<text transform="translate(36.3 1129.67) rotate(-90) scale(1.011 1.05)" text-anchor="middle" class="lb">PSD/PSD(t=0)</text>
<text transform="translate(134.7 900.65) scale(1 1.03)" class="lt">c</text>
<rect x="905" y="835.35" width="589" height="588.65" fill="none" stroke="#262626" stroke-width="1"/>
<path d="M1062.07 1424v-5.9 M1062.07 835.35v5.9 M1219.13 1424v-5.9 M1219.13 835.35v5.9 M1376.2 1424v-5.9 M1376.2 835.35v5.9 M905 1325.89h5.9 M1494 1325.89h-5.9 M905 1227.78h5.9 M1494 1227.78h-5.9 M905 1129.67h5.9 M1494 1129.67h-5.9 M905 1031.57h5.9 M1494 1031.57h-5.9 M905 933.46h5.9 M1494 933.46h-5.9 " stroke="#262626" stroke-width="1" fill="none"/>
<path d="M920.47 1227.78 L920.73 1227.78 L921.01 1227.78 L921.29 1227.78 L921.58 1227.78 L921.89 1227.78 L922.2 1227.78 L922.53 1227.78 L922.87 1227.78 L923.23 1227.78 L923.59 1227.78 L923.98 1227.78 L924.38 1227.78 L924.79 1227.78 L925.23 1227.78 L925.68 1227.78 L926.16 1227.78 L926.66 1227.78 L927.18 1227.78 L927.73 1227.78 L928.3 1227.78 L928.91 1227.78 L929.54 1227.78 L930.22 1227.78 L930.93 1227.78 L931.68 1227.78 L932.47 1227.78 L933.32 1227.78 L934.22 1227.78 L935.18 1227.78 L936.2 1227.78 L937.3 1227.78 L938.47 1227.78 L939.73 1227.78 L941.09 1227.78 L942.57 1227.78 L944.17 1227.78 L945.91 1227.78 L947.81 1227.78 L949.9 1227.78 L952.2 1227.78 L954.75 1227.78 L957.59 1227.78 L960.78 1227.78 L964.38 1227.78 L968.48 1227.78 L973.18 1227.78 L978.63 1227.78 L985.04 1227.78 L992.66 1227.78 L1001.89 1227.78 L1013.28 1227.78 L1027.72 1227.78 L1046.6 1227.78 L1072.35 1227.78 L1109.54 1227.78 L1167.97 1227.78 L1273.16 1227.78 L1494 1227.78" fill="none" stroke="#000000" stroke-width="4.7" stroke-linejoin="round" stroke-linecap="butt"/><path d="M913.72 1227.78a6.75 6.75 0 1 0 13.5 0a6.75 6.75 0 1 0 -13.5 0M913.98 1227.78a6.75 6.75 0 1 0 13.5 0a6.75 6.75 0 1 0 -13.5 0M914.26 1227.78a6.75 6.75 0 1 0 13.5 0a6.75 6.75 0 1 0 -13.5 0M914.54 1227.78a6.75 6.75 0 1 0 13.5 0a6.75 6.75 0 1 0 -13.5 0M914.83 1227.78a6.75 6.75 0 1 0 13.5 0a6.75 6.75 0 1 0 -13.5 0M915.14 1227.78a6.75 6.75 0 1 0 13.5 0a6.75 6.75 0 1 0 -13.5 0M915.45 1227.78a6.75 6.75 0 1 0 13.5 0a6.75 6.75 0 1 0 -13.5 0M915.78 1227.78a6.75 6.75 0 1 0 13.5 0a6.75 6.75 0 1 0 -13.5 0M916.12 1227.78a6.75 6.75 0 1 0 13.5 0a6.75 6.75 0 1 0 -13.5 0M916.48 1227.78a6.75 6.75 0 1 0 13.5 0a6.75 6.75 0 1 0 -13.5 0M916.84 1227.78a6.75 6.75 0 1 0 13.5 0a6.75 6.75 0 1 0 -13.5 0M917.23 1227.78a6.75 6.75 0 1 0 13.5 0a6.75 6.75 0 1 0 -13.5 0M917.63 1227.78a6.75 6.75 0 1 0 13.5 0a6.75 6.75 0 1 0 -13.5 0M918.04 1227.78a6.75 6.75 0 1 0 13.5 0a6.75 6.75 0 1 0 -13.5 0M918.48 1227.78a6.75 6.75 0 1 0 13.5 0a6.75 6.75 0 1 0 -13.5 0M918.93 1227.78a6.75 6.75 0 1 0 13.5 0a6.75 6.75 0 1 0 -13.5 0M919.41 1227.78a6.75 6.75 0 1 0 13.5 0a6.75 6.75 0 1 0 -13.5 0M919.91 1227.78a6.75 6.75 0 1 0 13.5 0a6.75 6.75 0 1 0 -13.5 0M920.43 1227.78a6.75 6.75 0 1 0 13.5 0a6.75 6.75 0 1 0 -13.5 0M920.98 1227.78a6.75 6.75 0 1 0 13.5 0a6.75 6.75 0 1 0 -13.5 0M921.55 1227.78a6.75 6.75 0 1 0 13.5 0a6.75 6.75 0 1 0 -13.5 0M922.16 1227.78a6.75 6.75 0 1 0 13.5 0a6.75 6.75 0 1 0 -13.5 0M922.79 1227.78a6.75 6.75 0 1 0 13.5 0a6.75 6.75 0 1 0 -13.5 0M923.47 1227.78a6.75 6.75 0 1 0 13.5 0a6.75 6.75 0 1 0 -13.5 0M924.18 1227.78a6.75 6.75 0 1 0 13.5 0a6.75 6.75 0 1 0 -13.5 0M924.93 1227.78a6.75 6.75 0 1 0 13.5 0a6.75 6.75 0 1 0 -13.5 0M925.72 1227.78a6.75 6.75 0 1 0 13.5 0a6.75 6.75 0 1 0 -13.5 0M926.57 1227.78a6.75 6.75 0 1 0 13.5 0a6.75 6.75 0 1 0 -13.5 0M927.47 1227.78a6.75 6.75 0 1 0 13.5 0a6.75 6.75 0 1 0 -13.5 0M928.43 1227.78a6.75 6.75 0 1 0 13.5 0a6.75 6.75 0 1 0 -13.5 0M929.45 1227.78a6.75 6.75 0 1 0 13.5 0a6.75 6.75 0 1 0 -13.5 0M930.55 1227.78a6.75 6.75 0 1 0 13.5 0a6.75 6.75 0 1 0 -13.5 0M931.72 1227.78a6.75 6.75 0 1 0 13.5 0a6.75 6.75 0 1 0 -13.5 0M932.98 1227.78a6.75 6.75 0 1 0 13.5 0a6.75 6.75 0 1 0 -13.5 0M934.34 1227.78a6.75 6.75 0 1 0 13.5 0a6.75 6.75 0 1 0 -13.5 0M935.82 1227.78a6.75 6.75 0 1 0 13.5 0a6.75 6.75 0 1 0 -13.5 0M937.42 1227.78a6.75 6.75 0 1 0 13.5 0a6.75 6.75 0 1 0 -13.5 0M939.16 1227.78a6.75 6.75 0 1 0 13.5 0a6.75 6.75 0 1 0 -13.5 0M941.06 1227.78a6.75 6.75 0 1 0 13.5 0a6.75 6.75 0 1 0 -13.5 0M943.15 1227.78a6.75 6.75 0 1 0 13.5 0a6.75 6.75 0 1 0 -13.5 0M945.45 1227.78a6.75 6.75 0 1 0 13.5 0a6.75 6.75 0 1 0 -13.5 0M948 1227.78a6.75 6.75 0 1 0 13.5 0a6.75 6.75 0 1 0 -13.5 0M950.84 1227.78a6.75 6.75 0 1 0 13.5 0a6.75 6.75 0 1 0 -13.5 0M954.03 1227.78a6.75 6.75 0 1 0 13.5 0a6.75 6.75 0 1 0 -13.5 0M957.63 1227.78a6.75 6.75 0 1 0 13.5 0a6.75 6.75 0 1 0 -13.5 0M961.73 1227.78a6.75 6.75 0 1 0 13.5 0a6.75 6.75 0 1 0 -13.5 0M966.43 1227.78a6.75 6.75 0 1 0 13.5 0a6.75 6.75 0 1 0 -13.5 0M971.88 1227.78a6.75 6.75 0 1 0 13.5 0a6.75 6.75 0 1 0 -13.5 0M978.29 1227.78a6.75 6.75 0 1 0 13.5 0a6.75 6.75 0 1 0 -13.5 0M985.91 1227.78a6.75 6.75 0 1 0 13.5 0a6.75 6.75 0 1 0 -13.5 0M995.14 1227.78a6.75 6.75 0 1 0 13.5 0a6.75 6.75 0 1 0 -13.5 0M1006.53 1227.78a6.75 6.75 0 1 0 13.5 0a6.75 6.75 0 1 0 -13.5 0M1020.97 1227.78a6.75 6.75 0 1 0 13.5 0a6.75 6.75 0 1 0 -13.5 0M1039.85 1227.78a6.75 6.75 0 1 0 13.5 0a6.75 6.75 0 1 0 -13.5 0M1065.6 1227.78a6.75 6.75 0 1 0 13.5 0a6.75 6.75 0 1 0 -13.5 0M1102.79 1227.78a6.75 6.75 0 1 0 13.5 0a6.75 6.75 0 1 0 -13.5 0M1161.22 1227.78a6.75 6.75 0 1 0 13.5 0a6.75 6.75 0 1 0 -13.5 0M1266.41 1227.78a6.75 6.75 0 1 0 13.5 0a6.75 6.75 0 1 0 -13.5 0" fill="none" stroke="#000000" stroke-width="4.5"/>
<path d="M920.47 1416.15 L920.73 1416.13 L921.01 1416.11 L921.29 1416.09 L921.58 1416.06 L921.89 1416.04 L922.2 1416.01 L922.53 1415.98 L922.87 1415.96 L923.23 1415.93 L923.59 1415.9 L923.98 1415.86 L924.38 1415.83 L924.79 1415.8 L925.23 1415.76 L925.68 1415.72 L926.16 1415.69 L926.66 1415.64 L927.18 1415.6 L927.73 1415.56 L928.3 1415.51 L928.91 1415.46 L929.54 1415.41 L930.22 1415.35 L930.93 1415.29 L931.68 1415.23 L932.47 1415.17 L933.32 1415.1 L934.22 1415.02 L935.18 1414.94 L936.2 1414.86 L937.3 1414.77 L938.47 1414.67 L939.73 1414.57 L941.09 1414.46 L942.57 1414.33 L944.17 1414.2 L945.91 1413.76 L947.81 1413.25 L949.9 1412.68 L952.2 1412.06 L954.75 1411.36 L957.59 1410.59 L960.78 1409.73 L964.38 1408.22 L968.48 1405.99 L973.18 1403.43 L978.63 1400.45 L985.04 1395.07 L992.66 1388.66 L1001.89 1378.91 L1013.28 1353.81 L1027.72 1299.8 L1046.6 1258.2 L1072.35 1229.55 L1109.54 1227.98 L1167.97 1231.31 L1273.16 1246.03 L1494 1255.21" fill="none" stroke="#1FE0FF" stroke-width="4.7" stroke-linejoin="round" stroke-linecap="butt"/><path d="M913.72 1416.15a6.75 6.75 0 1 0 13.5 0a6.75 6.75 0 1 0 -13.5 0M913.98 1416.13a6.75 6.75 0 1 0 13.5 0a6.75 6.75 0 1 0 -13.5 0M914.26 1416.11a6.75 6.75 0 1 0 13.5 0a6.75 6.75 0 1 0 -13.5 0M914.54 1416.09a6.75 6.75 0 1 0 13.5 0a6.75 6.75 0 1 0 -13.5 0M914.83 1416.06a6.75 6.75 0 1 0 13.5 0a6.75 6.75 0 1 0 -13.5 0M915.14 1416.04a6.75 6.75 0 1 0 13.5 0a6.75 6.75 0 1 0 -13.5 0M915.45 1416.01a6.75 6.75 0 1 0 13.5 0a6.75 6.75 0 1 0 -13.5 0M915.78 1415.98a6.75 6.75 0 1 0 13.5 0a6.75 6.75 0 1 0 -13.5 0M916.12 1415.96a6.75 6.75 0 1 0 13.5 0a6.75 6.75 0 1 0 -13.5 0M916.48 1415.93a6.75 6.75 0 1 0 13.5 0a6.75 6.75 0 1 0 -13.5 0M916.84 1415.9a6.75 6.75 0 1 0 13.5 0a6.75 6.75 0 1 0 -13.5 0M917.23 1415.86a6.75 6.75 0 1 0 13.5 0a6.75 6.75 0 1 0 -13.5 0M917.63 1415.83a6.75 6.75 0 1 0 13.5 0a6.75 6.75 0 1 0 -13.5 0M918.04 1415.8a6.75 6.75 0 1 0 13.5 0a6.75 6.75 0 1 0 -13.5 0M918.48 1415.76a6.75 6.75 0 1 0 13.5 0a6.75 6.75 0 1 0 -13.5 0M918.93 1415.72a6.75 6.75 0 1 0 13.5 0a6.75 6.75 0 1 0 -13.5 0M919.41 1415.69a6.75 6.75 0 1 0 13.5 0a6.75 6.75 0 1 0 -13.5 0M919.91 1415.64a6.75 6.75 0 1 0 13.5 0a6.75 6.75 0 1 0 -13.5 0M920.43 1415.6a6.75 6.75 0 1 0 13.5 0a6.75 6.75 0 1 0 -13.5 0M920.98 1415.56a6.75 6.75 0 1 0 13.5 0a6.75 6.75 0 1 0 -13.5 0M921.55 1415.51a6.75 6.75 0 1 0 13.5 0a6.75 6.75 0 1 0 -13.5 0M922.16 1415.46a6.75 6.75 0 1 0 13.5 0a6.75 6.75 0 1 0 -13.5 0M922.79 1415.41a6.75 6.75 0 1 0 13.5 0a6.75 6.75 0 1 0 -13.5 0M923.47 1415.35a6.75 6.75 0 1 0 13.5 0a6.75 6.75 0 1 0 -13.5 0M924.18 1415.29a6.75 6.75 0 1 0 13.5 0a6.75 6.75 0 1 0 -13.5 0M924.93 1415.23a6.75 6.75 0 1 0 13.5 0a6.75 6.75 0 1 0 -13.5 0M925.72 1415.17a6.75 6.75 0 1 0 13.5 0a6.75 6.75 0 1 0 -13.5 0M926.57 1415.1a6.75 6.75 0 1 0 13.5 0a6.75 6.75 0 1 0 -13.5 0M927.47 1415.02a6.75 6.75 0 1 0 13.5 0a6.75 6.75 0 1 0 -13.5 0M928.43 1414.94a6.75 6.75 0 1 0 13.5 0a6.75 6.75 0 1 0 -13.5 0M929.45 1414.86a6.75 6.75 0 1 0 13.5 0a6.75 6.75 0 1 0 -13.5 0M930.55 1414.77a6.75 6.75 0 1 0 13.5 0a6.75 6.75 0 1 0 -13.5 0M931.72 1414.67a6.75 6.75 0 1 0 13.5 0a6.75 6.75 0 1 0 -13.5 0M932.98 1414.57a6.75 6.75 0 1 0 13.5 0a6.75 6.75 0 1 0 -13.5 0M934.34 1414.46a6.75 6.75 0 1 0 13.5 0a6.75 6.75 0 1 0 -13.5 0M935.82 1414.33a6.75 6.75 0 1 0 13.5 0a6.75 6.75 0 1 0 -13.5 0M937.42 1414.2a6.75 6.75 0 1 0 13.5 0a6.75 6.75 0 1 0 -13.5 0M939.16 1413.76a6.75 6.75 0 1 0 13.5 0a6.75 6.75 0 1 0 -13.5 0M941.06 1413.25a6.75 6.75 0 1 0 13.5 0a6.75 6.75 0 1 0 -13.5 0M943.15 1412.68a6.75 6.75 0 1 0 13.5 0a6.75 6.75 0 1 0 -13.5 0M945.45 1412.06a6.75 6.75 0 1 0 13.5 0a6.75 6.75 0 1 0 -13.5 0M948 1411.36a6.75 6.75 0 1 0 13.5 0a6.75 6.75 0 1 0 -13.5 0M950.84 1410.59a6.75 6.75 0 1 0 13.5 0a6.75 6.75 0 1 0 -13.5 0M954.03 1409.73a6.75 6.75 0 1 0 13.5 0a6.75 6.75 0 1 0 -13.5 0M957.63 1408.22a6.75 6.75 0 1 0 13.5 0a6.75 6.75 0 1 0 -13.5 0M961.73 1405.99a6.75 6.75 0 1 0 13.5 0a6.75 6.75 0 1 0 -13.5 0M966.43 1403.43a6.75 6.75 0 1 0 13.5 0a6.75 6.75 0 1 0 -13.5 0M971.88 1400.45a6.75 6.75 0 1 0 13.5 0a6.75 6.75 0 1 0 -13.5 0M978.29 1395.07a6.75 6.75 0 1 0 13.5 0a6.75 6.75 0 1 0 -13.5 0M985.91 1388.66a6.75 6.75 0 1 0 13.5 0a6.75 6.75 0 1 0 -13.5 0M995.14 1378.91a6.75 6.75 0 1 0 13.5 0a6.75 6.75 0 1 0 -13.5 0M1006.53 1353.81a6.75 6.75 0 1 0 13.5 0a6.75 6.75 0 1 0 -13.5 0M1020.97 1299.8a6.75 6.75 0 1 0 13.5 0a6.75 6.75 0 1 0 -13.5 0M1039.85 1258.2a6.75 6.75 0 1 0 13.5 0a6.75 6.75 0 1 0 -13.5 0M1065.6 1229.55a6.75 6.75 0 1 0 13.5 0a6.75 6.75 0 1 0 -13.5 0M1102.79 1227.98a6.75 6.75 0 1 0 13.5 0a6.75 6.75 0 1 0 -13.5 0M1161.22 1231.31a6.75 6.75 0 1 0 13.5 0a6.75 6.75 0 1 0 -13.5 0M1266.41 1246.03a6.75 6.75 0 1 0 13.5 0a6.75 6.75 0 1 0 -13.5 0" fill="none" stroke="#1FE0FF" stroke-width="4.5"/>
<path d="M920.47 1415.17 L920.73 1415.15 L921.01 1415.13 L921.29 1415.1 L921.58 1415.08 L921.89 1415.06 L922.2 1415.03 L922.53 1415 L922.87 1414.97 L923.23 1414.95 L923.59 1414.92 L923.98 1414.88 L924.38 1414.85 L924.79 1414.82 L925.23 1414.78 L925.68 1414.74 L926.16 1414.7 L926.66 1414.66 L927.18 1414.62 L927.73 1414.58 L928.3 1414.53 L928.91 1414.48 L929.54 1414.43 L930.22 1414.37 L930.93 1414.31 L931.68 1414.25 L932.47 1414.18 L933.32 1414.11 L934.22 1414.04 L935.18 1413.96 L936.2 1413.88 L937.3 1413.79 L938.47 1413.69 L939.73 1413.59 L941.09 1413.47 L942.57 1413.35 L944.17 1413.22 L945.91 1412.78 L947.81 1412.27 L949.9 1411.7 L952.2 1411.08 L954.75 1410.38 L957.59 1409.61 L960.78 1408.75 L964.38 1407.12 L968.48 1404.64 L973.18 1401.79 L978.63 1398.49 L985.04 1393.11 L992.66 1386.7 L1001.89 1376.94 L1013.28 1359.11 L1027.72 1304.31 L1046.6 1257.22 L1072.35 1219.93 L1109.54 1217.38 L1167.97 1222.68 L1273.16 1243.48 L1494 1255.13" fill="none" stroke="#3AC5FF" stroke-width="4.7" stroke-linejoin="round" stroke-linecap="butt"/><path d="M913.72 1415.17a6.75 6.75 0 1 0 13.5 0a6.75 6.75 0 1 0 -13.5 0M913.98 1415.15a6.75 6.75 0 1 0 13.5 0a6.75 6.75 0 1 0 -13.5 0M914.26 1415.13a6.75 6.75 0 1 0 13.5 0a6.75 6.75 0 1 0 -13.5 0M914.54 1415.1a6.75 6.75 0 1 0 13.5 0a6.75 6.75 0 1 0 -13.5 0M914.83 1415.08a6.75 6.75 0 1 0 13.5 0a6.75 6.75 0 1 0 -13.5 0M915.14 1415.06a6.75 6.75 0 1 0 13.5 0a6.75 6.75 0 1 0 -13.5 0M915.45 1415.03a6.75 6.75 0 1 0 13.5 0a6.75 6.75 0 1 0 -13.5 0M915.78 1415a6.75 6.75 0 1 0 13.5 0a6.75 6.75 0 1 0 -13.5 0M916.12 1414.97a6.75 6.75 0 1 0 13.5 0a6.75 6.75 0 1 0 -13.5 0M916.48 1414.95a6.75 6.75 0 1 0 13.5 0a6.75 6.75 0 1 0 -13.5 0M916.84 1414.92a6.75 6.75 0 1 0 13.5 0a6.75 6.75 0 1 0 -13.5 0M917.23 1414.88a6.75 6.75 0 1 0 13.5 0a6.75 6.75 0 1 0 -13.5 0M917.63 1414.85a6.75 6.75 0 1 0 13.5 0a6.75 6.75 0 1 0 -13.5 0M918.04 1414.82a6.75 6.75 0 1 0 13.5 0a6.75 6.75 0 1 0 -13.5 0M918.48 1414.78a6.75 6.75 0 1 0 13.5 0a6.75 6.75 0 1 0 -13.5 0M918.93 1414.74a6.75 6.75 0 1 0 13.5 0a6.75 6.75 0 1 0 -13.5 0M919.41 1414.7a6.75 6.75 0 1 0 13.5 0a6.75 6.75 0 1 0 -13.5 0M919.91 1414.66a6.75 6.75 0 1 0 13.5 0a6.75 6.75 0 1 0 -13.5 0M920.43 1414.62a6.75 6.75 0 1 0 13.5 0a6.75 6.75 0 1 0 -13.5 0M920.98 1414.58a6.75 6.75 0 1 0 13.5 0a6.75 6.75 0 1 0 -13.5 0M921.55 1414.53a6.75 6.75 0 1 0 13.5 0a6.75 6.75 0 1 0 -13.5 0M922.16 1414.48a6.75 6.75 0 1 0 13.5 0a6.75 6.75 0 1 0 -13.5 0M922.79 1414.43a6.75 6.75 0 1 0 13.5 0a6.75 6.75 0 1 0 -13.5 0M923.47 1414.37a6.75 6.75 0 1 0 13.5 0a6.75 6.75 0 1 0 -13.5 0M924.18 1414.31a6.75 6.75 0 1 0 13.5 0a6.75 6.75 0 1 0 -13.5 0M924.93 1414.25a6.75 6.75 0 1 0 13.5 0a6.75 6.75 0 1 0 -13.5 0M925.72 1414.18a6.75 6.75 0 1 0 13.5 0a6.75 6.75 0 1 0 -13.5 0M926.57 1414.11a6.75 6.75 0 1 0 13.5 0a6.75 6.75 0 1 0 -13.5 0M927.47 1414.04a6.75 6.75 0 1 0 13.5 0a6.75 6.75 0 1 0 -13.5 0M928.43 1413.96a6.75 6.75 0 1 0 13.5 0a6.75 6.75 0 1 0 -13.5 0M929.45 1413.88a6.75 6.75 0 1 0 13.5 0a6.75 6.75 0 1 0 -13.5 0M930.55 1413.79a6.75 6.75 0 1 0 13.5 0a6.75 6.75 0 1 0 -13.5 0M931.72 1413.69a6.75 6.75 0 1 0 13.5 0a6.75 6.75 0 1 0 -13.5 0M932.98 1413.59a6.75 6.75 0 1 0 13.5 0a6.75 6.75 0 1 0 -13.5 0M934.34 1413.47a6.75 6.75 0 1 0 13.5 0a6.75 6.75 0 1 0 -13.5 0M935.82 1413.35a6.75 6.75 0 1 0 13.5 0a6.75 6.75 0 1 0 -13.5 0M937.42 1413.22a6.75 6.75 0 1 0 13.5 0a6.75 6.75 0 1 0 -13.5 0M939.16 1412.78a6.75 6.75 0 1 0 13.5 0a6.75 6.75 0 1 0 -13.5 0M941.06 1412.27a6.75 6.75 0 1 0 13.5 0a6.75 6.75 0 1 0 -13.5 0M943.15 1411.7a6.75 6.75 0 1 0 13.5 0a6.75 6.75 0 1 0 -13.5 0M945.45 1411.08a6.75 6.75 0 1 0 13.5 0a6.75 6.75 0 1 0 -13.5 0M948 1410.38a6.75 6.75 0 1 0 13.5 0a6.75 6.75 0 1 0 -13.5 0M950.84 1409.61a6.75 6.75 0 1 0 13.5 0a6.75 6.75 0 1 0 -13.5 0M954.03 1408.75a6.75 6.75 0 1 0 13.5 0a6.75 6.75 0 1 0 -13.5 0M957.63 1407.12a6.75 6.75 0 1 0 13.5 0a6.75 6.75 0 1 0 -13.5 0M961.73 1404.64a6.75 6.75 0 1 0 13.5 0a6.75 6.75 0 1 0 -13.5 0M966.43 1401.79a6.75 6.75 0 1 0 13.5 0a6.75 6.75 0 1 0 -13.5 0M971.88 1398.49a6.75 6.75 0 1 0 13.5 0a6.75 6.75 0 1 0 -13.5 0M978.29 1393.11a6.75 6.75 0 1 0 13.5 0a6.75 6.75 0 1 0 -13.5 0M985.91 1386.7a6.75 6.75 0 1 0 13.5 0a6.75 6.75 0 1 0 -13.5 0M995.14 1376.94a6.75 6.75 0 1 0 13.5 0a6.75 6.75 0 1 0 -13.5 0M1006.53 1359.11a6.75 6.75 0 1 0 13.5 0a6.75 6.75 0 1 0 -13.5 0M1020.97 1304.31a6.75 6.75 0 1 0 13.5 0a6.75 6.75 0 1 0 -13.5 0M1039.85 1257.22a6.75 6.75 0 1 0 13.5 0a6.75 6.75 0 1 0 -13.5 0M1065.6 1219.93a6.75 6.75 0 1 0 13.5 0a6.75 6.75 0 1 0 -13.5 0M1102.79 1217.38a6.75 6.75 0 1 0 13.5 0a6.75 6.75 0 1 0 -13.5 0M1161.22 1222.68a6.75 6.75 0 1 0 13.5 0a6.75 6.75 0 1 0 -13.5 0M1266.41 1243.48a6.75 6.75 0 1 0 13.5 0a6.75 6.75 0 1 0 -13.5 0" fill="none" stroke="#3AC5FF" stroke-width="4.5"/>
<path d="M920.47 1415.17 L920.73 1415.15 L921.01 1415.13 L921.29 1415.1 L921.58 1415.08 L921.89 1415.06 L922.2 1415.03 L922.53 1415 L922.87 1414.97 L923.23 1414.95 L923.59 1414.92 L923.98 1414.88 L924.38 1414.85 L924.79 1414.82 L925.23 1414.78 L925.68 1414.74 L926.16 1414.7 L926.66 1414.66 L927.18 1414.62 L927.73 1414.58 L928.3 1414.53 L928.91 1414.48 L929.54 1414.43 L930.22 1414.37 L930.93 1414.31 L931.68 1414.25 L932.47 1414.18 L933.32 1414.11 L934.22 1414.04 L935.18 1413.96 L936.2 1413.88 L937.3 1413.79 L938.47 1413.69 L939.73 1413.59 L941.09 1413.47 L942.57 1413.35 L944.17 1413.22 L945.91 1412.61 L947.81 1411.89 L949.9 1411.1 L952.2 1410.22 L954.75 1409.25 L957.59 1408.17 L960.78 1406.96 L964.38 1405.16 L968.48 1402.68 L973.18 1399.83 L978.63 1396.53 L985.04 1391.15 L992.66 1384.73 L1001.89 1373.03 L1013.28 1364.8 L1027.72 1308.82 L1046.6 1255.25 L1072.35 1201.89 L1109.54 1206.98 L1167.97 1212.28 L1273.16 1240.93 L1494 1255.23" fill="none" stroke="#56A9FF" stroke-width="4.7" stroke-linejoin="round" stroke-linecap="butt"/><path d="M913.72 1415.17a6.75 6.75 0 1 0 13.5 0a6.75 6.75 0 1 0 -13.5 0M913.98 1415.15a6.75 6.75 0 1 0 13.5 0a6.75 6.75 0 1 0 -13.5 0M914.26 1415.13a6.75 6.75 0 1 0 13.5 0a6.75 6.75 0 1 0 -13.5 0M914.54 1415.1a6.75 6.75 0 1 0 13.5 0a6.75 6.75 0 1 0 -13.5 0M914.83 1415.08a6.75 6.75 0 1 0 13.5 0a6.75 6.75 0 1 0 -13.5 0M915.14 1415.06a6.75 6.75 0 1 0 13.5 0a6.75 6.75 0 1 0 -13.5 0M915.45 1415.03a6.75 6.75 0 1 0 13.5 0a6.75 6.75 0 1 0 -13.5 0M915.78 1415a6.75 6.75 0 1 0 13.5 0a6.75 6.75 0 1 0 -13.5 0M916.12 1414.97a6.75 6.75 0 1 0 13.5 0a6.75 6.75 0 1 0 -13.5 0M916.48 1414.95a6.75 6.75 0 1 0 13.5 0a6.75 6.75 0 1 0 -13.5 0M916.84 1414.92a6.75 6.75 0 1 0 13.5 0a6.75 6.75 0 1 0 -13.5 0M917.23 1414.88a6.75 6.75 0 1 0 13.5 0a6.75 6.75 0 1 0 -13.5 0M917.63 1414.85a6.75 6.75 0 1 0 13.5 0a6.75 6.75 0 1 0 -13.5 0M918.04 1414.82a6.75 6.75 0 1 0 13.5 0a6.75 6.75 0 1 0 -13.5 0M918.48 1414.78a6.75 6.75 0 1 0 13.5 0a6.75 6.75 0 1 0 -13.5 0M918.93 1414.74a6.75 6.75 0 1 0 13.5 0a6.75 6.75 0 1 0 -13.5 0M919.41 1414.7a6.75 6.75 0 1 0 13.5 0a6.75 6.75 0 1 0 -13.5 0M919.91 1414.66a6.75 6.75 0 1 0 13.5 0a6.75 6.75 0 1 0 -13.5 0M920.43 1414.62a6.75 6.75 0 1 0 13.5 0a6.75 6.75 0 1 0 -13.5 0M920.98 1414.58a6.75 6.75 0 1 0 13.5 0a6.75 6.75 0 1 0 -13.5 0M921.55 1414.53a6.75 6.75 0 1 0 13.5 0a6.75 6.75 0 1 0 -13.5 0M922.16 1414.48a6.75 6.75 0 1 0 13.5 0a6.75 6.75 0 1 0 -13.5 0M922.79 1414.43a6.75 6.75 0 1 0 13.5 0a6.75 6.75 0 1 0 -13.5 0M923.47 1414.37a6.75 6.75 0 1 0 13.5 0a6.75 6.75 0 1 0 -13.5 0M924.18 1414.31a6.75 6.75 0 1 0 13.5 0a6.75 6.75 0 1 0 -13.5 0M924.93 1414.25a6.75 6.75 0 1 0 13.5 0a6.75 6.75 0 1 0 -13.5 0M925.72 1414.18a6.75 6.75 0 1 0 13.5 0a6.75 6.75 0 1 0 -13.5 0M926.57 1414.11a6.75 6.75 0 1 0 13.5 0a6.75 6.75 0 1 0 -13.5 0M927.47 1414.04a6.75 6.75 0 1 0 13.5 0a6.75 6.75 0 1 0 -13.5 0M928.43 1413.96a6.75 6.75 0 1 0 13.5 0a6.75 6.75 0 1 0 -13.5 0M929.45 1413.88a6.75 6.75 0 1 0 13.5 0a6.75 6.75 0 1 0 -13.5 0M930.55 1413.79a6.75 6.75 0 1 0 13.5 0a6.75 6.75 0 1 0 -13.5 0M931.72 1413.69a6.75 6.75 0 1 0 13.5 0a6.75 6.75 0 1 0 -13.5 0M932.98 1413.59a6.75 6.75 0 1 0 13.5 0a6.75 6.75 0 1 0 -13.5 0M934.34 1413.47a6.75 6.75 0 1 0 13.5 0a6.75 6.75 0 1 0 -13.5 0M935.82 1413.35a6.75 6.75 0 1 0 13.5 0a6.75 6.75 0 1 0 -13.5 0M937.42 1413.22a6.75 6.75 0 1 0 13.5 0a6.75 6.75 0 1 0 -13.5 0M939.16 1412.61a6.75 6.75 0 1 0 13.5 0a6.75 6.75 0 1 0 -13.5 0M941.06 1411.89a6.75 6.75 0 1 0 13.5 0a6.75 6.75 0 1 0 -13.5 0M943.15 1411.1a6.75 6.75 0 1 0 13.5 0a6.75 6.75 0 1 0 -13.5 0M945.45 1410.22a6.75 6.75 0 1 0 13.5 0a6.75 6.75 0 1 0 -13.5 0M948 1409.25a6.75 6.75 0 1 0 13.5 0a6.75 6.75 0 1 0 -13.5 0M950.84 1408.17a6.75 6.75 0 1 0 13.5 0a6.75 6.75 0 1 0 -13.5 0M954.03 1406.96a6.75 6.75 0 1 0 13.5 0a6.75 6.75 0 1 0 -13.5 0M957.63 1405.16a6.75 6.75 0 1 0 13.5 0a6.75 6.75 0 1 0 -13.5 0M961.73 1402.68a6.75 6.75 0 1 0 13.5 0a6.75 6.75 0 1 0 -13.5 0M966.43 1399.83a6.75 6.75 0 1 0 13.5 0a6.75 6.75 0 1 0 -13.5 0M971.88 1396.53a6.75 6.75 0 1 0 13.5 0a6.75 6.75 0 1 0 -13.5 0M978.29 1391.15a6.75 6.75 0 1 0 13.5 0a6.75 6.75 0 1 0 -13.5 0M985.91 1384.73a6.75 6.75 0 1 0 13.5 0a6.75 6.75 0 1 0 -13.5 0M995.14 1373.03a6.75 6.75 0 1 0 13.5 0a6.75 6.75 0 1 0 -13.5 0M1006.53 1364.8a6.75 6.75 0 1 0 13.5 0a6.75 6.75 0 1 0 -13.5 0M1020.97 1308.82a6.75 6.75 0 1 0 13.5 0a6.75 6.75 0 1 0 -13.5 0M1039.85 1255.25a6.75 6.75 0 1 0 13.5 0a6.75 6.75 0 1 0 -13.5 0M1065.6 1201.89a6.75 6.75 0 1 0 13.5 0a6.75 6.75 0 1 0 -13.5 0M1102.79 1206.98a6.75 6.75 0 1 0 13.5 0a6.75 6.75 0 1 0 -13.5 0M1161.22 1212.28a6.75 6.75 0 1 0 13.5 0a6.75 6.75 0 1 0 -13.5 0M1266.41 1240.93a6.75 6.75 0 1 0 13.5 0a6.75 6.75 0 1 0 -13.5 0" fill="none" stroke="#56A9FF" stroke-width="4.5"/>
<path d="M920.47 1414.19 L920.73 1414.16 L921.01 1414.13 L921.29 1414.09 L921.58 1414.06 L921.89 1414.02 L922.2 1413.98 L922.53 1413.94 L922.87 1413.9 L923.23 1413.85 L923.59 1413.81 L923.98 1413.76 L924.38 1413.71 L924.79 1413.66 L925.23 1413.6 L925.68 1413.55 L926.16 1413.49 L926.66 1413.43 L927.18 1413.36 L927.73 1413.3 L928.3 1413.23 L928.91 1413.15 L929.54 1413.07 L930.22 1412.99 L930.93 1412.9 L931.68 1412.81 L932.47 1412.71 L933.32 1412.61 L934.22 1412.49 L935.18 1412.38 L936.2 1412.25 L937.3 1412.12 L938.47 1411.97 L939.73 1411.81 L941.09 1411.65 L942.57 1411.46 L944.17 1411.27 L945.91 1410.39 L947.81 1409.36 L949.9 1408.23 L952.2 1406.98 L954.75 1405.6 L957.59 1404.06 L960.78 1402.33 L964.38 1399.9 L968.48 1396.67 L973.18 1392.97 L978.63 1388.68 L985.04 1381.5 L992.66 1372.96 L1001.89 1365.16 L1013.28 1335.73 L1027.72 1271.74 L1046.6 1218.37 L1072.35 1129.7 L1109.54 1173.23 L1167.97 1187.16 L1273.16 1236.61 L1494 1255.15" fill="none" stroke="#718DFF" stroke-width="4.7" stroke-linejoin="round" stroke-linecap="butt"/><path d="M913.72 1414.19a6.75 6.75 0 1 0 13.5 0a6.75 6.75 0 1 0 -13.5 0M913.98 1414.16a6.75 6.75 0 1 0 13.5 0a6.75 6.75 0 1 0 -13.5 0M914.26 1414.13a6.75 6.75 0 1 0 13.5 0a6.75 6.75 0 1 0 -13.5 0M914.54 1414.09a6.75 6.75 0 1 0 13.5 0a6.75 6.75 0 1 0 -13.5 0M914.83 1414.06a6.75 6.75 0 1 0 13.5 0a6.75 6.75 0 1 0 -13.5 0M915.14 1414.02a6.75 6.75 0 1 0 13.5 0a6.75 6.75 0 1 0 -13.5 0M915.45 1413.98a6.75 6.75 0 1 0 13.5 0a6.75 6.75 0 1 0 -13.5 0M915.78 1413.94a6.75 6.75 0 1 0 13.5 0a6.75 6.75 0 1 0 -13.5 0M916.12 1413.9a6.75 6.75 0 1 0 13.5 0a6.75 6.75 0 1 0 -13.5 0M916.48 1413.85a6.75 6.75 0 1 0 13.5 0a6.75 6.75 0 1 0 -13.5 0M916.84 1413.81a6.75 6.75 0 1 0 13.5 0a6.75 6.75 0 1 0 -13.5 0M917.23 1413.76a6.75 6.75 0 1 0 13.5 0a6.75 6.75 0 1 0 -13.5 0M917.63 1413.71a6.75 6.75 0 1 0 13.5 0a6.75 6.75 0 1 0 -13.5 0M918.04 1413.66a6.75 6.75 0 1 0 13.5 0a6.75 6.75 0 1 0 -13.5 0M918.48 1413.6a6.75 6.75 0 1 0 13.5 0a6.75 6.75 0 1 0 -13.5 0M918.93 1413.55a6.75 6.75 0 1 0 13.5 0a6.75 6.75 0 1 0 -13.5 0M919.41 1413.49a6.75 6.75 0 1 0 13.5 0a6.75 6.75 0 1 0 -13.5 0M919.91 1413.43a6.75 6.75 0 1 0 13.5 0a6.75 6.75 0 1 0 -13.5 0M920.43 1413.36a6.75 6.75 0 1 0 13.5 0a6.75 6.75 0 1 0 -13.5 0M920.98 1413.3a6.75 6.75 0 1 0 13.5 0a6.75 6.75 0 1 0 -13.5 0M921.55 1413.23a6.75 6.75 0 1 0 13.5 0a6.75 6.75 0 1 0 -13.5 0M922.16 1413.15a6.75 6.75 0 1 0 13.5 0a6.75 6.75 0 1 0 -13.5 0M922.79 1413.07a6.75 6.75 0 1 0 13.5 0a6.75 6.75 0 1 0 -13.5 0M923.47 1412.99a6.75 6.75 0 1 0 13.5 0a6.75 6.75 0 1 0 -13.5 0M924.18 1412.9a6.75 6.75 0 1 0 13.5 0a6.75 6.75 0 1 0 -13.5 0M924.93 1412.81a6.75 6.75 0 1 0 13.5 0a6.75 6.75 0 1 0 -13.5 0M925.72 1412.71a6.75 6.75 0 1 0 13.5 0a6.75 6.75 0 1 0 -13.5 0M926.57 1412.61a6.75 6.75 0 1 0 13.5 0a6.75 6.75 0 1 0 -13.5 0M927.47 1412.49a6.75 6.75 0 1 0 13.5 0a6.75 6.75 0 1 0 -13.5 0M928.43 1412.38a6.75 6.75 0 1 0 13.5 0a6.75 6.75 0 1 0 -13.5 0M929.45 1412.25a6.75 6.75 0 1 0 13.5 0a6.75 6.75 0 1 0 -13.5 0M930.55 1412.12a6.75 6.75 0 1 0 13.5 0a6.75 6.75 0 1 0 -13.5 0M931.72 1411.97a6.75 6.75 0 1 0 13.5 0a6.75 6.75 0 1 0 -13.5 0M932.98 1411.81a6.75 6.75 0 1 0 13.5 0a6.75 6.75 0 1 0 -13.5 0M934.34 1411.65a6.75 6.75 0 1 0 13.5 0a6.75 6.75 0 1 0 -13.5 0M935.82 1411.46a6.75 6.75 0 1 0 13.5 0a6.75 6.75 0 1 0 -13.5 0M937.42 1411.27a6.75 6.75 0 1 0 13.5 0a6.75 6.75 0 1 0 -13.5 0M939.16 1410.39a6.75 6.75 0 1 0 13.5 0a6.75 6.75 0 1 0 -13.5 0M941.06 1409.36a6.75 6.75 0 1 0 13.5 0a6.75 6.75 0 1 0 -13.5 0M943.15 1408.23a6.75 6.75 0 1 0 13.5 0a6.75 6.75 0 1 0 -13.5 0M945.45 1406.98a6.75 6.75 0 1 0 13.5 0a6.75 6.75 0 1 0 -13.5 0M948 1405.6a6.75 6.75 0 1 0 13.5 0a6.75 6.75 0 1 0 -13.5 0M950.84 1404.06a6.75 6.75 0 1 0 13.5 0a6.75 6.75 0 1 0 -13.5 0M954.03 1402.33a6.75 6.75 0 1 0 13.5 0a6.75 6.75 0 1 0 -13.5 0M957.63 1399.9a6.75 6.75 0 1 0 13.5 0a6.75 6.75 0 1 0 -13.5 0M961.73 1396.67a6.75 6.75 0 1 0 13.5 0a6.75 6.75 0 1 0 -13.5 0M966.43 1392.97a6.75 6.75 0 1 0 13.5 0a6.75 6.75 0 1 0 -13.5 0M971.88 1388.68a6.75 6.75 0 1 0 13.5 0a6.75 6.75 0 1 0 -13.5 0M978.29 1381.5a6.75 6.75 0 1 0 13.5 0a6.75 6.75 0 1 0 -13.5 0M985.91 1372.96a6.75 6.75 0 1 0 13.5 0a6.75 6.75 0 1 0 -13.5 0M995.14 1365.16a6.75 6.75 0 1 0 13.5 0a6.75 6.75 0 1 0 -13.5 0M1006.53 1335.73a6.75 6.75 0 1 0 13.5 0a6.75 6.75 0 1 0 -13.5 0M1020.97 1271.74a6.75 6.75 0 1 0 13.5 0a6.75 6.75 0 1 0 -13.5 0M1039.85 1218.37a6.75 6.75 0 1 0 13.5 0a6.75 6.75 0 1 0 -13.5 0M1065.6 1129.7a6.75 6.75 0 1 0 13.5 0a6.75 6.75 0 1 0 -13.5 0M1102.79 1173.23a6.75 6.75 0 1 0 13.5 0a6.75 6.75 0 1 0 -13.5 0M1161.22 1187.16a6.75 6.75 0 1 0 13.5 0a6.75 6.75 0 1 0 -13.5 0M1266.41 1236.61a6.75 6.75 0 1 0 13.5 0a6.75 6.75 0 1 0 -13.5 0" fill="none" stroke="#718DFF" stroke-width="4.5"/>
<path d="M920.47 1414.19 L920.73 1414.15 L921.01 1414.1 L921.29 1414.04 L921.58 1413.99 L921.89 1413.93 L922.2 1413.88 L922.53 1413.82 L922.87 1413.75 L923.23 1413.69 L923.59 1413.62 L923.98 1413.55 L924.38 1413.48 L924.79 1413.4 L925.23 1413.32 L925.68 1413.24 L926.16 1413.15 L926.66 1413.06 L927.18 1412.96 L927.73 1412.86 L928.3 1412.76 L928.91 1412.65 L929.54 1412.53 L930.22 1412.4 L930.93 1412.27 L931.68 1412.14 L932.47 1411.99 L933.32 1411.83 L934.22 1411.69 L935.18 1411.53 L936.2 1411.36 L937.3 1411.17 L938.47 1410.98 L939.73 1410.77 L941.09 1410.54 L942.57 1410.3 L944.17 1409.74 L945.91 1409.09 L947.81 1408.38 L949.9 1407.59 L952.2 1406.73 L954.75 1404.93 L957.59 1402.8 L960.78 1399.96 L964.38 1396.28 L968.48 1391.63 L973.18 1386.75 L978.63 1382.79 L985.04 1379.21 L992.66 1365.68 L1001.89 1348.71 L1013.28 1322.15 L1027.72 1238.38 L1046.6 1182.26 L1072.35 1060.26 L1109.54 1143.61 L1167.97 1166.17 L1273.16 1227.98 L1494 1255.17" fill="none" stroke="#8D72FF" stroke-width="4.7" stroke-linejoin="round" stroke-linecap="butt"/><path d="M913.72 1414.19a6.75 6.75 0 1 0 13.5 0a6.75 6.75 0 1 0 -13.5 0M913.98 1414.15a6.75 6.75 0 1 0 13.5 0a6.75 6.75 0 1 0 -13.5 0M914.26 1414.1a6.75 6.75 0 1 0 13.5 0a6.75 6.75 0 1 0 -13.5 0M914.54 1414.04a6.75 6.75 0 1 0 13.5 0a6.75 6.75 0 1 0 -13.5 0M914.83 1413.99a6.75 6.75 0 1 0 13.5 0a6.75 6.75 0 1 0 -13.5 0M915.14 1413.93a6.75 6.75 0 1 0 13.5 0a6.75 6.75 0 1 0 -13.5 0M915.45 1413.88a6.75 6.75 0 1 0 13.5 0a6.75 6.75 0 1 0 -13.5 0M915.78 1413.82a6.75 6.75 0 1 0 13.5 0a6.75 6.75 0 1 0 -13.5 0M916.12 1413.75a6.75 6.75 0 1 0 13.5 0a6.75 6.75 0 1 0 -13.5 0M916.48 1413.69a6.75 6.75 0 1 0 13.5 0a6.75 6.75 0 1 0 -13.5 0M916.84 1413.62a6.75 6.75 0 1 0 13.5 0a6.75 6.75 0 1 0 -13.5 0M917.23 1413.55a6.75 6.75 0 1 0 13.5 0a6.75 6.75 0 1 0 -13.5 0M917.63 1413.48a6.75 6.75 0 1 0 13.5 0a6.75 6.75 0 1 0 -13.5 0M918.04 1413.4a6.75 6.75 0 1 0 13.5 0a6.75 6.75 0 1 0 -13.5 0M918.48 1413.32a6.75 6.75 0 1 0 13.5 0a6.75 6.75 0 1 0 -13.5 0M918.93 1413.24a6.75 6.75 0 1 0 13.5 0a6.75 6.75 0 1 0 -13.5 0M919.41 1413.15a6.75 6.75 0 1 0 13.5 0a6.75 6.75 0 1 0 -13.5 0M919.91 1413.06a6.75 6.75 0 1 0 13.5 0a6.75 6.75 0 1 0 -13.5 0M920.43 1412.96a6.75 6.75 0 1 0 13.5 0a6.75 6.75 0 1 0 -13.5 0M920.98 1412.86a6.75 6.75 0 1 0 13.5 0a6.75 6.75 0 1 0 -13.5 0M921.55 1412.76a6.75 6.75 0 1 0 13.5 0a6.75 6.75 0 1 0 -13.5 0M922.16 1412.65a6.75 6.75 0 1 0 13.5 0a6.75 6.75 0 1 0 -13.5 0M922.79 1412.53a6.75 6.75 0 1 0 13.5 0a6.75 6.75 0 1 0 -13.5 0M923.47 1412.4a6.75 6.75 0 1 0 13.5 0a6.75 6.75 0 1 0 -13.5 0M924.18 1412.27a6.75 6.75 0 1 0 13.5 0a6.75 6.75 0 1 0 -13.5 0M924.93 1412.14a6.75 6.75 0 1 0 13.5 0a6.75 6.75 0 1 0 -13.5 0M925.72 1411.99a6.75 6.75 0 1 0 13.5 0a6.75 6.75 0 1 0 -13.5 0M926.57 1411.83a6.75 6.75 0 1 0 13.5 0a6.75 6.75 0 1 0 -13.5 0M927.47 1411.69a6.75 6.75 0 1 0 13.5 0a6.75 6.75 0 1 0 -13.5 0M928.43 1411.53a6.75 6.75 0 1 0 13.5 0a6.75 6.75 0 1 0 -13.5 0M929.45 1411.36a6.75 6.75 0 1 0 13.5 0a6.75 6.75 0 1 0 -13.5 0M930.55 1411.17a6.75 6.75 0 1 0 13.5 0a6.75 6.75 0 1 0 -13.5 0M931.72 1410.98a6.75 6.75 0 1 0 13.5 0a6.75 6.75 0 1 0 -13.5 0M932.98 1410.77a6.75 6.75 0 1 0 13.5 0a6.75 6.75 0 1 0 -13.5 0M934.34 1410.54a6.75 6.75 0 1 0 13.5 0a6.75 6.75 0 1 0 -13.5 0M935.82 1410.3a6.75 6.75 0 1 0 13.5 0a6.75 6.75 0 1 0 -13.5 0M937.42 1409.74a6.75 6.75 0 1 0 13.5 0a6.75 6.75 0 1 0 -13.5 0M939.16 1409.09a6.75 6.75 0 1 0 13.5 0a6.75 6.75 0 1 0 -13.5 0M941.06 1408.38a6.75 6.75 0 1 0 13.5 0a6.75 6.75 0 1 0 -13.5 0M943.15 1407.59a6.75 6.75 0 1 0 13.5 0a6.75 6.75 0 1 0 -13.5 0M945.45 1406.73a6.75 6.75 0 1 0 13.5 0a6.75 6.75 0 1 0 -13.5 0M948 1404.93a6.75 6.75 0 1 0 13.5 0a6.75 6.75 0 1 0 -13.5 0M950.84 1402.8a6.75 6.75 0 1 0 13.5 0a6.75 6.75 0 1 0 -13.5 0M954.03 1399.96a6.75 6.75 0 1 0 13.5 0a6.75 6.75 0 1 0 -13.5 0M957.63 1396.28a6.75 6.75 0 1 0 13.5 0a6.75 6.75 0 1 0 -13.5 0M961.73 1391.63a6.75 6.75 0 1 0 13.5 0a6.75 6.75 0 1 0 -13.5 0M966.43 1386.75a6.75 6.75 0 1 0 13.5 0a6.75 6.75 0 1 0 -13.5 0M971.88 1382.79a6.75 6.75 0 1 0 13.5 0a6.75 6.75 0 1 0 -13.5 0M978.29 1379.21a6.75 6.75 0 1 0 13.5 0a6.75 6.75 0 1 0 -13.5 0M985.91 1365.68a6.75 6.75 0 1 0 13.5 0a6.75 6.75 0 1 0 -13.5 0M995.14 1348.71a6.75 6.75 0 1 0 13.5 0a6.75 6.75 0 1 0 -13.5 0M1006.53 1322.15a6.75 6.75 0 1 0 13.5 0a6.75 6.75 0 1 0 -13.5 0M1020.97 1238.38a6.75 6.75 0 1 0 13.5 0a6.75 6.75 0 1 0 -13.5 0M1039.85 1182.26a6.75 6.75 0 1 0 13.5 0a6.75 6.75 0 1 0 -13.5 0M1065.6 1060.26a6.75 6.75 0 1 0 13.5 0a6.75 6.75 0 1 0 -13.5 0M1102.79 1143.61a6.75 6.75 0 1 0 13.5 0a6.75 6.75 0 1 0 -13.5 0M1161.22 1166.17a6.75 6.75 0 1 0 13.5 0a6.75 6.75 0 1 0 -13.5 0M1266.41 1227.98a6.75 6.75 0 1 0 13.5 0a6.75 6.75 0 1 0 -13.5 0" fill="none" stroke="#8D72FF" stroke-width="4.5"/>
<line x1="1087.35" y1="836.65" x2="1087.35" y2="1424" stroke="#000" stroke-width="4.7" stroke-dasharray="17.7 4.8 8.4 4.8"/>
<line x1="1162.9" y1="836.65" x2="1162.9" y2="1424" stroke="#000" stroke-width="4.7" stroke-dasharray="17.7 18"/>
<text x="889.5" y="1439.6" text-anchor="end" class="tk">0</text>
<text x="889.5" y="1341.49" text-anchor="end" class="tk">0.5</text>
<path d="M876.37 1243.38L880.79 1243.38L880.79 1212.31L877.43 1212.31C876.77 1215.63 874.74 1217.61 869.26 1217.84L869.26 1221.11L876.37 1221.11Z" fill="#000"/>
<path d="M839.51 1145.27L843.93 1145.27L843.93 1114.2L840.57 1114.2C839.91 1117.52 837.87 1119.51 832.39 1119.73L832.39 1123L839.51 1123Z" fill="#000"/><text x="852.64" y="1145.27" class="tk">.</text><text x="864.92" y="1145.27" class="tk">5</text>
<text x="889.5" y="1047.17" text-anchor="end" class="tk">2</text>
<text x="889.5" y="949.06" text-anchor="end" class="tk">2.5</text>
<text x="889.5" y="850.95" text-anchor="end" class="tk">3</text>
<text x="904.2" y="1479.5" text-anchor="middle" class="tk">0</text>
<text x="1061.27" y="1479.5" text-anchor="middle" class="tk">200</text>
<text x="1218.33" y="1479.5" text-anchor="middle" class="tk">400</text>
<text x="1375.4" y="1479.5" text-anchor="middle" class="tk">600</text>
<text x="1198.5" y="1535.8" text-anchor="middle" class="lb">wavelength (nm)</text>
<text transform="translate(811.7 1129.67) rotate(-90) scale(1.011 1.05)" text-anchor="middle" class="lb">PSD/PSD(t=0)</text>
<text transform="translate(922.2 900.65) scale(1 1.0)" class="lt">d</text>
<rect x="528" y="33.5" width="162.6" height="402.5" fill="#fff" stroke="#262626" stroke-width="1"/>
<line x1="536.9" y1="61.7" x2="603.7" y2="61.7" stroke="#000000" stroke-width="4.7"/>
<circle cx="570.2" cy="61.7" r="6.5" fill="none" stroke="#000000" stroke-width="4.6"/>
<text transform="translate(612 71.8) scale(1 1.08)" class="lg">0 <tspan dx="2.5">s</tspan></text>
<line x1="536.9" y1="111.1" x2="603.7" y2="111.1" stroke="#1FE0FF" stroke-width="4.7"/>
<circle cx="570.2" cy="111.1" r="6.5" fill="none" stroke="#1FE0FF" stroke-width="4.6"/>
<text transform="translate(612 121.2) scale(1 1.08)" class="lg">2.5</text>
<line x1="536.9" y1="160.5" x2="603.7" y2="160.5" stroke="#3AC5FF" stroke-width="4.7"/>
<circle cx="570.2" cy="160.5" r="6.5" fill="none" stroke="#3AC5FF" stroke-width="4.6"/>
<text transform="translate(612 170.6) scale(1 1.08)" class="lg">9.8</text>
<line x1="536.9" y1="209.9" x2="603.7" y2="209.9" stroke="#56A9FF" stroke-width="4.7"/>
<circle cx="570.2" cy="209.9" r="6.5" fill="none" stroke="#56A9FF" stroke-width="4.6"/>
<text transform="translate(612 220) scale(1 1.08)" class="lg">19.6</text>
<line x1="536.9" y1="259.3" x2="603.7" y2="259.3" stroke="#718DFF" stroke-width="4.7"/>
<circle cx="570.2" cy="259.3" r="6.5" fill="none" stroke="#718DFF" stroke-width="4.6"/>
<text transform="translate(612 269.4) scale(1 1.08)" class="lg">26.9</text>
<line x1="536.9" y1="308.7" x2="603.7" y2="308.7" stroke="#8D72FF" stroke-width="4.7"/>
<circle cx="570.2" cy="308.7" r="6.5" fill="none" stroke="#8D72FF" stroke-width="4.6"/>
<text transform="translate(612 318.8) scale(1 1.08)" class="lg">29.4</text>
<line x1="536.9" y1="358.1" x2="603.7" y2="358.1" stroke="#A956FF" stroke-width="4.7"/>
<circle cx="570.2" cy="358.1" r="6.5" fill="none" stroke="#A956FF" stroke-width="4.6"/>
<text transform="translate(612 368.2) scale(1 1.08)" class="lg">30.3</text>
<line x1="536.9" y1="407.5" x2="603.7" y2="407.5" stroke="#C43BFF" stroke-width="4.7"/>
<circle cx="570.2" cy="407.5" r="6.5" fill="none" stroke="#C43BFF" stroke-width="4.6"/>
<text transform="translate(612 417.6) scale(1 1.08)" class="lg">31.3</text>
<rect x="1315.5" y="284.5" width="162.9" height="303.1" fill="#fff" stroke="#262626" stroke-width="1"/>
<line x1="1324.4" y1="312.7" x2="1391.2" y2="312.7" stroke="#000000" stroke-width="4.7"/>
<circle cx="1357.7" cy="312.7" r="6.5" fill="none" stroke="#000000" stroke-width="4.6"/>
<text transform="translate(1399.5 322.8) scale(1 1.08)" class="lg">0 <tspan dx="2.5">s</tspan></text>
<line x1="1324.4" y1="362.1" x2="1391.2" y2="362.1" stroke="#1FE0FF" stroke-width="4.7"/>
<circle cx="1357.7" cy="362.1" r="6.5" fill="none" stroke="#1FE0FF" stroke-width="4.6"/>
<text transform="translate(1399.5 372.2) scale(1 1.08)" class="lg">0.39</text>
<line x1="1324.4" y1="411.5" x2="1391.2" y2="411.5" stroke="#3AC5FF" stroke-width="4.7"/>
<circle cx="1357.7" cy="411.5" r="6.5" fill="none" stroke="#3AC5FF" stroke-width="4.6"/>
<text transform="translate(1399.5 421.6) scale(1 1.08)" class="lg">0.59</text>
<line x1="1324.4" y1="460.9" x2="1391.2" y2="460.9" stroke="#56A9FF" stroke-width="4.7"/>
<circle cx="1357.7" cy="460.9" r="6.5" fill="none" stroke="#56A9FF" stroke-width="4.6"/>
<text transform="translate(1399.5 471) scale(1 1.08)" class="lg">0.81</text>
<line x1="1324.4" y1="510.3" x2="1391.2" y2="510.3" stroke="#718DFF" stroke-width="4.7"/>
<circle cx="1357.7" cy="510.3" r="6.5" fill="none" stroke="#718DFF" stroke-width="4.6"/>
<text transform="translate(1399.5 520.4) scale(1 1.08)" class="lg">1.22</text>
<line x1="1324.4" y1="559.7" x2="1391.2" y2="559.7" stroke="#8D72FF" stroke-width="4.7"/>
<circle cx="1357.7" cy="559.7" r="6.5" fill="none" stroke="#8D72FF" stroke-width="4.6"/>
<text transform="translate(1399.5 569.8) scale(1 1.08)" class="lg">1.47</text>
</svg>
</body></html>
